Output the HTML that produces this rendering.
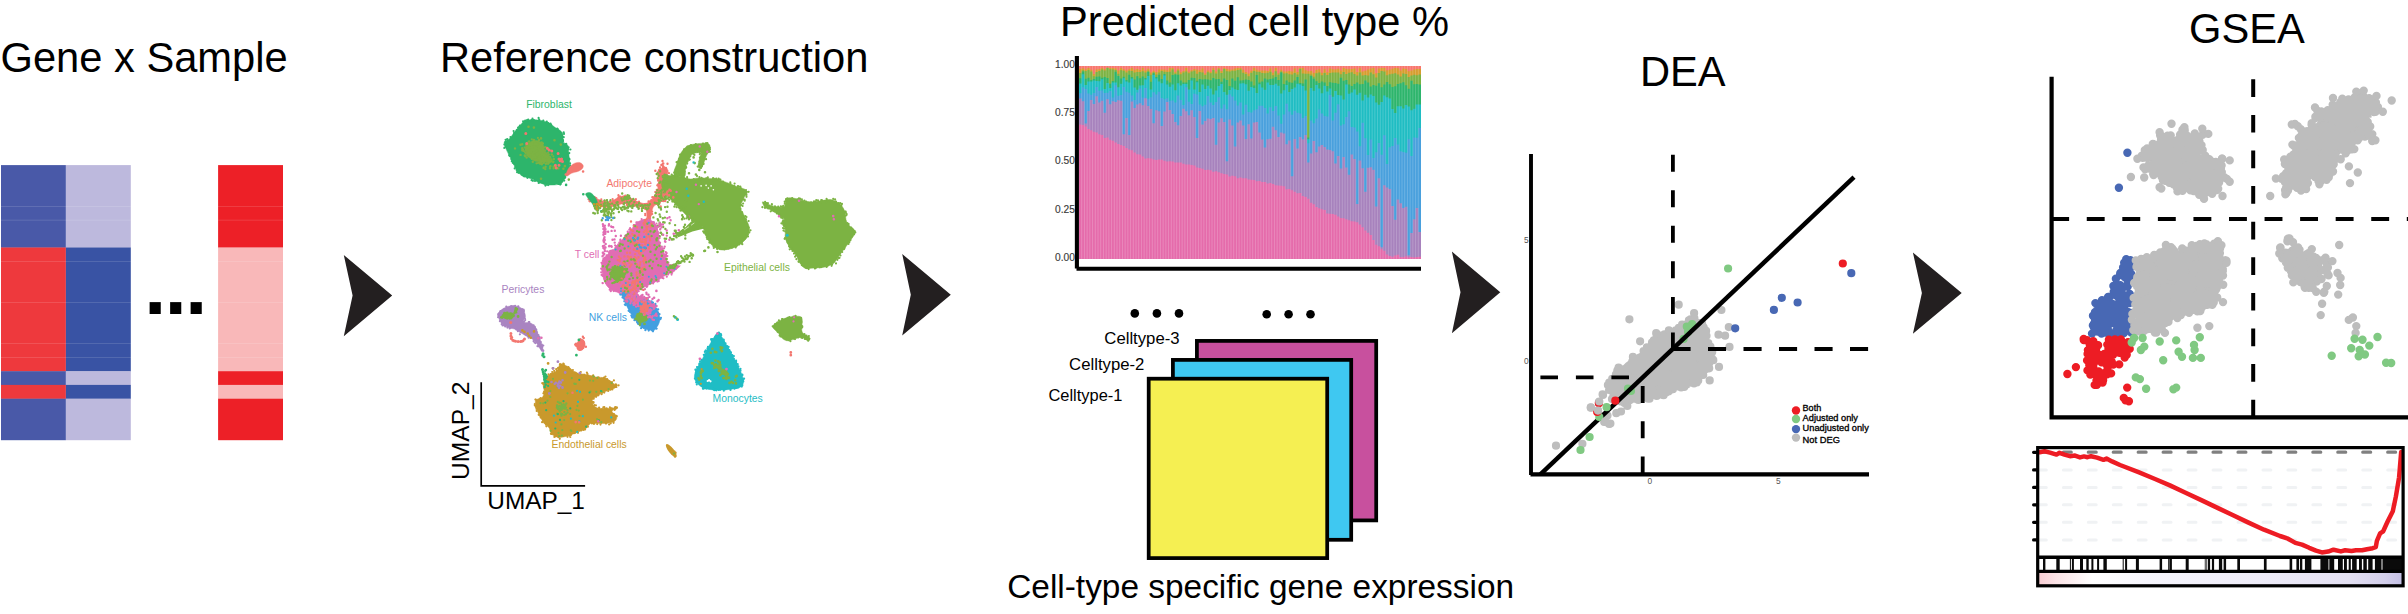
<!DOCTYPE html><html><head><meta charset="utf-8"><title>Workflow</title><style>html,body{margin:0;padding:0;background:#fff}svg{display:block}text{font-family:'Liberation Sans', sans-serif}</style></head><body><svg width="2408" height="614" viewBox="0 0 2408 614"><rect width="2408" height="614" fill="#fff"/><text x="0.5" y="72.1" font-size="41.67" fill="#000" >Gene x Sample</text><text x="440" y="72" font-size="41.67" fill="#000" >Reference construction</text><text x="1060" y="36" font-size="41.67" fill="#000" >Predicted cell type %</text><text x="1640" y="86" font-size="41.67" fill="#000" >DEA</text><text x="2189" y="43" font-size="41.67" fill="#000" >GSEA</text><text x="1007.2" y="597.9" font-size="33.42" fill="#000" >Cell-type specific gene expression</text><rect x="1" y="165.1" width="64.9" height="82.7" fill="#4959A8"/><rect x="1" y="247.5" width="64.9" height="124" fill="#EE393D"/><rect x="1" y="371.2" width="64.9" height="14" fill="#4959A8"/><rect x="1" y="384.9" width="64.9" height="14" fill="#EE393D"/><rect x="1" y="398.7" width="64.9" height="41.5" fill="#4959A8"/><rect x="65.9" y="165.1" width="64.9" height="82.7" fill="#BDB9DD"/><rect x="65.9" y="247.5" width="64.9" height="124" fill="#3953A4"/><rect x="65.9" y="371.2" width="64.9" height="14" fill="#BDB9DD"/><rect x="65.9" y="384.9" width="64.9" height="14" fill="#3953A4"/><rect x="65.9" y="398.7" width="64.9" height="41.5" fill="#BDB9DD"/><rect x="218.1" y="165.1" width="64.9" height="82.7" fill="#ED2027"/><rect x="218.1" y="247.5" width="64.9" height="124" fill="#F9B8B9"/><rect x="218.1" y="371.2" width="64.9" height="14" fill="#ED2027"/><rect x="218.1" y="384.9" width="64.9" height="14" fill="#F9B8B9"/><rect x="218.1" y="398.7" width="64.9" height="41.5" fill="#ED2027"/><rect x="1" y="206" width="64.9" height="0.6" fill="#fff" opacity="0.22"/><rect x="65.9" y="206" width="64.9" height="0.6" fill="#fff" opacity="0.22"/><rect x="218.1" y="206" width="64.9" height="0.6" fill="#fff" opacity="0.22"/><rect x="1" y="219.8" width="64.9" height="0.6" fill="#fff" opacity="0.22"/><rect x="65.9" y="219.8" width="64.9" height="0.6" fill="#fff" opacity="0.22"/><rect x="218.1" y="219.8" width="64.9" height="0.6" fill="#fff" opacity="0.22"/><rect x="1" y="261" width="64.9" height="0.6" fill="#fff" opacity="0.22"/><rect x="65.9" y="261" width="64.9" height="0.6" fill="#fff" opacity="0.22"/><rect x="218.1" y="261" width="64.9" height="0.6" fill="#fff" opacity="0.22"/><rect x="1" y="302.2" width="64.9" height="0.6" fill="#fff" opacity="0.22"/><rect x="65.9" y="302.2" width="64.9" height="0.6" fill="#fff" opacity="0.22"/><rect x="218.1" y="302.2" width="64.9" height="0.6" fill="#fff" opacity="0.22"/><rect x="1" y="343.4" width="64.9" height="0.6" fill="#fff" opacity="0.22"/><rect x="65.9" y="343.4" width="64.9" height="0.6" fill="#fff" opacity="0.22"/><rect x="218.1" y="343.4" width="64.9" height="0.6" fill="#fff" opacity="0.22"/><rect x="1" y="357.2" width="64.9" height="0.6" fill="#fff" opacity="0.22"/><rect x="65.9" y="357.2" width="64.9" height="0.6" fill="#fff" opacity="0.22"/><rect x="218.1" y="357.2" width="64.9" height="0.6" fill="#fff" opacity="0.22"/><text x="144.2" y="313.8" font-size="79" font-weight="bold" letter-spacing="-1.45" fill="#000">...</text><polygon points="343.8,254.9 392.2,295.6 343.8,336.2 352.6,295.6" fill="#231F20"/><polygon points="902.2,254 950.8,294.7 902.2,335.5 910.8,294.7" fill="#231F20"/><polygon points="1451.9,251.6 1500.3,292.3 1451.9,333.2 1460.5,292.3" fill="#231F20"/><polygon points="1912.9,252.5 1961.7,293 1912.9,333.7 1921.9,293" fill="#231F20"/><rect x="1196.9" y="340.9" width="179.3" height="179.5" fill="#C8509E" stroke="#000" stroke-width="3.75"/><rect x="1172.9" y="359.9" width="178.3" height="179.9" fill="#3FC8F1" stroke="#000" stroke-width="3.75"/><rect x="1148.7" y="378.7" width="178.5" height="179.4" fill="#F5EF52" stroke="#000" stroke-width="3.75"/><circle cx="1134.8" cy="313.4" r="4.3" fill="#000"/><circle cx="1156.9" cy="313.4" r="4.3" fill="#000"/><circle cx="1179" cy="313.4" r="4.3" fill="#000"/><circle cx="1266.7" cy="314.3" r="4.3" fill="#000"/><circle cx="1288.6" cy="314.3" r="4.3" fill="#000"/><circle cx="1310.5" cy="314.3" r="4.3" fill="#000"/><text x="1104.3" y="343.5" font-size="15.6" fill="#000" textLength="75.3" lengthAdjust="spacingAndGlyphs" >Celltype-3</text><text x="1069.1" y="369.9" font-size="15.6" fill="#000" textLength="75.3" lengthAdjust="spacingAndGlyphs" >Celltype-2</text><text x="1048.4" y="400.8" font-size="15.6" fill="#000" textLength="74" lengthAdjust="spacingAndGlyphs" >Celltype-1</text><path d="M525.8 120.4C528.8 119.6 534.5 119.6 538.4 120.1C542.2 120.5 546.1 121.7 549.1 123.1C552.1 124.5 554 126.9 556.3 128.5C558.5 130.2 561.3 130.7 562.5 133C563.7 135.2 562.5 139.9 563.4 141.9C564.3 144 567 143.4 567.9 145.5C568.8 147.6 568.5 151.8 568.8 154.5C569.1 157.2 569.7 159 569.7 161.6C569.7 164.3 569.6 167.9 568.8 170.6C568.1 173.3 566.4 175.7 565.2 177.8C564 179.9 563.4 181.9 561.6 183.1C559.9 184.3 557.2 184.7 554.5 184.9C551.8 185.2 548.2 185 545.5 184.6C542.8 184.1 540.7 183.2 538.4 182.2C536 181.3 533.9 179.7 531.2 178.7C528.5 177.6 524.6 177.3 522.2 176C519.9 174.6 518.4 172.7 516.9 170.6C515.4 168.5 514.5 165.8 513.3 163.4C512.1 161 510.9 158.7 509.7 156.3C508.5 153.9 507 151.5 506.1 149.1C505.2 146.7 503.7 143.7 504.3 141.9C504.9 140.2 507.9 140.2 509.7 138.4C511.5 136.6 513.3 133.4 515.1 131.2C516.9 129 518.7 126.7 520.4 124.9C522.2 123.1 522.8 121.3 525.8 120.4Z" fill="#2DB56B" stroke="#2DB56B" stroke-width="0.5" stroke-linejoin="round"/><path d="M533.9 120h0M528.2 119.5h0M527.1 120h0M532.1 120.6h0M528.2 120.3h0M531.6 119.8h0M532.5 118.6h0M538.9 120.8h0M538.6 117.9h0M548.2 123h0M543.3 120.7h0M546.8 121.5h0M539.2 119.6h0M551.1 124.6h0M555.2 128.9h0M550.5 123.7h0M557.2 128.5h0M549.6 124h0M557.8 129.1h0M563.7 132.3h0M559.9 131.5h0M558.5 130.3h0M563.7 132.7h0M563.7 137.2h0M563 140h0M563.1 141.1h0M564 133.9h0M566.2 143.8h0M565.3 144.2h0M566.3 144h0M569.3 153.1h0M568.2 148.9h0M568.6 147.3h0M568.5 153.4h0M570.4 149.5h0M569.5 159.2h0M569.1 158.8h0M568 155.5h0M568.5 160.1h0M570.2 165.6h0M568.6 167.2h0M568 168.5h0M570.1 163.3h0M568.1 170.8h0M566.5 173.7h0M565.2 177.4h0M564.7 178h0M567.2 172.9h0M560.8 183.9h0M564.2 180.6h0M562 181.6h0M558.4 183.9h0M557.6 183.1h0M559.5 182.6h0M560.2 184.6h0M549 184.1h0M546.5 184.6h0M548.1 185.1h0M550.7 183.8h0M549.1 184.2h0M539.7 182.3h0M539.5 182.2h0M545.4 185.6h0M544.5 183.6h0M535 181h0M538.7 182.9h0M535.3 179.9h0M532.9 180.8h0M531.6 180.2h0M522.5 174.8h0M527.4 177.8h0M522.6 174.6h0M524.1 176.3h0M516.7 169.9h0M517.9 171.1h0M518.6 172.8h0M517.3 170.8h0M513.9 163.7h0M517.1 172.2h0M515.6 166.5h0M514.7 168.4h0M512.8 162.8h0M512 158.7h0M511.3 159h0M511.8 161.2h0M509.5 154.6h0M509.6 154.3h0M509.2 155.4h0M509.9 155.9h0M506 146.3h0M504.6 147.6h0M504.3 148h0M504.4 144.6h0M505.6 139.8h0M507.2 139.1h0M505.6 142.1h0M514.5 133.3h0M513.6 131h0M515.9 132h0M514 133h0M510.5 137.1h0M519.5 126.6h0M516.8 130h0M518.1 127.5h0M518.9 127.5h0M525.2 120.6h0M523.1 121.3h0M525.1 121h0M519.9 125.7h0" stroke="#2DB56B" stroke-width="2.2" stroke-linecap="round" fill="none"/><path d="M525.8 147.3C526.4 145.2 528.5 143 530.3 141.9C532.1 140.8 534.5 140.4 536.6 140.7C538.7 141 541.5 142.2 542.8 143.7C544.2 145.3 543.6 147.9 544.6 150C545.7 152.1 547.9 154.3 549.1 156.3C550.3 158.2 552.1 160.6 551.8 161.6C551.5 162.7 549 162.7 547.3 162.5C545.7 162.4 543.7 160.9 541.9 160.8C540.2 160.6 538.4 161.9 536.6 161.6C534.8 161.3 532.8 160.2 531.2 159C529.6 157.8 527.6 156.4 526.7 154.5C525.8 152.5 525.2 149.4 525.8 147.3Z" fill="#7CB343" stroke="#7CB343" stroke-width="0.4" stroke-linejoin="round"/><path d="M527.3 145.7h0M527.8 143.3h0M533.1 142h0M524.5 147.5h0M525.5 147.7h0M529.6 147.3h0M536.8 144h0M531.8 139.3h0M535.8 142.8h0M534.3 140.1h0M534.2 141.4h0M537.9 141.5h0M539.8 143.1h0M543 143.4h0M537.9 137.9h0M539.4 142.5h0M537 141.6h0M543.9 147.6h0M541.7 142.3h0M544.1 147.4h0M542.4 150.3h0M545.8 147.2h0M545.2 150.4h0M546.7 153.5h0M548.5 156.2h0M542.3 149.3h0M548.9 154.4h0M548.1 152.5h0M551.6 159.3h0M553.5 161.7h0M549.1 156.9h0M553.3 156.3h0M550.6 161.7h0M548 163.9h0M553.1 162.3h0M546.8 161.7h0M548.1 160.9h0M542.5 159.4h0M544 158.5h0M542.2 159.6h0M542.2 163.5h0M543.5 160.7h0M540.7 160.9h0M537.9 159.7h0M538 163h0M537.4 158.7h0M530.6 156.6h0M536.5 163.3h0M531.7 158.9h0M533.5 158.5h0M536.5 159.9h0M527.7 155.1h0M532.5 156.8h0M527.2 155.2h0M530.3 153.3h0M529.2 156.5h0M527.7 149.9h0M525.7 153.3h0M527.2 150.1h0M524.7 151.8h0M525.1 156.3h0M525.7 149.9h0" stroke="#7CB343" stroke-width="2.2" stroke-linecap="round" fill="none"/><path d="M522.2 144.2h0M531.1 151.7h0M536.2 147.3h0M537 144.5h0M532.8 153.6h0M527 147.7h0M533.5 152.5h0M537.5 144.5h0M544 154.1h0M548.3 155h0M535.2 147.5h0M533.6 139.9h0M534.7 149.9h0M528.7 153.2h0M528.7 150.7h0M535.2 148.9h0M527.4 148.1h0M537.2 156.5h0M539 139.9h0M536.4 151.8h0M532.2 153.1h0M528.3 152h0M524.8 155.4h0M530.7 155.4h0M530.2 151h0M535.5 153.5h0M533 154.7h0M526.3 145h0M535 151.5h0M523.6 150.9h0M526.6 157.5h0M532.8 149.9h0M520.5 144.7h0M534.7 152.6h0M533 157.5h0M533.5 150.9h0M528.8 156.1h0M533.8 146.4h0M528.2 147.6h0M533 149.8h0M529.2 153h0M533.1 156.1h0M529.2 141.5h0M537.8 148.5h0M534.8 153.3h0M534.8 148.4h0M534.4 143.9h0M536.3 157.5h0M522.2 148.2h0M536.7 155h0M537.1 150.3h0M534.5 156.6h0M537.6 151.7h0M528 153.9h0M534.5 147h0M540.5 150h0M537 153.7h0M537.2 149.3h0M522.9 149.5h0M537.7 154.3h0M544.2 151.4h0M541.2 155h0M536.8 150.8h0M522.2 150.3h0M542.1 151.9h0M534.3 149.2h0M515 148.4h0M532.8 161.8h0M520.6 154.9h0M525.6 147.6h0M529.8 150.4h0M540.2 161.8h0M532.2 149.8h0M538.2 148.4h0M546.2 157.5h0M544.5 158.4h0M535.4 147.8h0M536 144h0M528.7 141.6h0M528.5 152h0M538.8 149.8h0M537.5 152.2h0M534.8 152.7h0M540.1 157.2h0M529.9 147.7h0M533.2 153.4h0M541.2 150.2h0M539.2 151.9h0M543.7 150.7h0M535 157.4h0" stroke="#7CB343" stroke-width="2.4" stroke-linecap="round" fill="none"/><path d="M543.8 162.8h0M542.2 157h0M541 163.7h0M543.9 160.2h0M548.7 162.9h0M537.1 155.5h0M539.5 158.1h0M543.7 158.7h0M558.3 168.4h0M551.6 161h0M545 159.7h0M545.3 169.1h0M555.8 167h0M544.1 159.7h0M542.3 161.3h0M550.2 166.5h0M549.2 159.6h0M548.8 162.5h0M541 161.9h0M554.6 167.5h0M553.7 166.4h0M545.6 166.7h0M549.6 161.3h0M534.3 155.1h0M549.1 161.6h0M541.8 164.3h0M550.2 157.2h0M549.6 161.3h0M544 158.6h0M535.2 157.7h0M546 163.7h0M539.1 162.4h0M545.6 155.9h0M540.7 161.1h0M543.7 159.2h0M534 152.3h0M550.5 166.1h0M547.7 159.4h0M553.9 158.9h0M555.8 166h0M547.4 157.2h0M536.6 153.9h0M539.8 159.3h0M538.3 158.2h0M540 163.6h0M545.7 160.7h0M536.9 151h0M547.9 160.1h0M538.5 154.1h0M548.4 158.7h0M543.8 161.8h0M544.3 158.4h0M547.6 155.6h0M541.1 161.2h0M542 158.9h0M535.7 156.9h0M544.7 161.2h0M553.6 168.2h0M555.2 167h0M550 168.2h0" stroke="#7CB343" stroke-width="2.4" stroke-linecap="round" fill="none"/><path d="M547.3 148.2h0M551.8 150.9h0M558.1 153.6h0M559 159h0M561.6 159h0M555.4 165.2h0M559 165.2h0M562.5 161.6h0M556.3 167.9h0M525.8 133.5h0M526.7 143.4h0M549.1 150h0M560.2 160.8h0" stroke="#F37770" stroke-width="3.0" stroke-linecap="round" fill="none"/><path d="M528.5 126.7h0M533.9 127.6h0M541 138.4h0M560.8 144.6h0M554.5 140.2h0M543.7 167.9h0M541 178.7h0M549.1 159h0M551.8 154.5h0M563.4 168.8h0M564.9 166.1h0M568.8 179.6h0" stroke="#7CB343" stroke-width="2.6" stroke-linecap="round" fill="none"/><path d="M566.1 184.9h0" stroke="#2DB56B" stroke-width="2.6" stroke-linecap="round" fill="none"/><path d="M566.1 174.2C566.4 172.8 567.5 169.7 568.8 167.9C570.2 166.1 572.4 164.3 574.2 163.4C576 162.5 578.1 162.2 579.6 162.5C581.1 162.8 582.7 164.2 583.1 165.2C583.6 166.3 583.1 167.8 582.2 168.8C581.3 169.9 579.6 170.8 577.8 171.5C576 172.2 573.2 172.5 571.5 173.3C569.8 174 568.3 175.8 567.4 176C566.5 176.1 565.9 175.5 566.1 174.2Z" fill="#F37770" stroke="#F37770" stroke-width="0.4" stroke-linejoin="round"/><path d="M583.1 171.5h0M565.8 174.5h0" stroke="#F37770" stroke-width="2.6" stroke-linecap="round" fill="none"/><path d="M589.6 196.7C591.2 196.5 596.1 198.7 599.3 199.6C602.6 200.5 605.8 202.6 609.1 202.2C612.4 201.7 615.9 198.2 618.9 197.1C621.8 196 624.3 195.3 626.7 195.7C629.1 196.1 630.6 198.3 633.5 199.6C636.5 200.9 641.2 203.5 644.3 203.5C647.4 203.5 650 201.6 652.1 199.6C654.2 197.7 655.9 195.2 657 191.8C658.1 188.4 658.1 182.8 659 179.1C659.8 175.4 660.6 171.1 661.9 169.3C663.2 167.5 665.8 167.7 666.8 168.3C667.8 169 668.1 171 667.8 173.2C667.4 175.5 665.6 178.6 664.8 182C664 185.5 663.8 190.3 662.9 193.8C661.9 197.2 660.6 200.3 659 202.6C657.3 204.8 654.5 204.8 653.1 207.4C651.7 210.1 651.5 216.4 650.5 218.2C649.6 220 648.1 219.8 647.2 218.2C646.3 216.6 647.4 210.4 645.3 208.4C643.2 206.5 637.9 207.3 634.5 206.5C631.1 205.7 627.7 203.7 624.7 203.5C621.8 203.4 619.9 204.8 616.9 205.5C614 206.1 610.4 207.6 607.1 207.4C603.9 207.3 600.3 205.7 597.4 204.5C594.4 203.4 590.9 201.9 589.6 200.6C588.2 199.3 587.9 196.9 589.6 196.7Z" fill="#F37770" stroke="#F37770" stroke-width="0.4" stroke-linejoin="round"/><path d="M596.5 199h0M591.7 197.1h0M595.8 200.4h0M594.7 197h0M596.3 198.1h0M605 201.7h0M604.9 202h0M604.4 200.8h0M606.9 200.4h0M601.3 199.3h0M618.4 195.2h0M618.4 197.3h0M612.6 199.1h0M612.9 200.4h0M610 201.5h0M619.7 198.1h0M620.2 196.6h0M619.9 196.7h0M629.1 196.2h0M631.3 199.3h0M625.3 195.6h0M635 201.3h0M635.9 199.2h0M639 201.6h0M641 203.9h0M634.5 200.4h0M651.3 200.1h0M648.5 201.4h0M644.8 204.1h0M650.4 201h0M653.1 197.3h0M659 193.8h0M654.7 196.6h0M653.5 198.4h0M658.3 184h0M658.1 180.7h0M658.9 180.3h0M655.2 192h0M657.2 191.2h0M657.4 185.6h0M659.6 177.7h0M660.2 172h0M659.7 174.6h0M657.8 178.6h0M661.4 174.1h0M662.8 168.7h0M662.1 168.8h0M667.4 171h0M666.7 170.8h0M665.9 182.3h0M668.4 176.6h0M665.1 182h0M665 175.3h0M665.4 183.3h0M664.5 187.1h0M665.2 183h0M662.6 190.7h0M662.3 192.8h0M658.2 200.9h0M659.9 202.4h0M661.8 198.3h0M662.9 195.8h0M657.9 203.1h0M657.4 204.1h0M656.9 203.9h0M651.8 214.2h0M652.2 214h0M650.7 214.8h0M652.1 211.7h0M649.8 214.5h0M647.6 217.5h0M645.2 209.1h0M645.2 215.2h0M645.2 213.8h0M646.2 209h0M643.5 208.1h0M642.2 207.8h0M638.9 208h0M637.8 206.9h0M632.8 206.2h0M630.1 204.5h0M627 204.7h0M627 202.9h0M631.4 206.5h0M627.1 205.2h0M617 204.4h0M619.4 202.7h0M623.8 204.1h0M622.9 203.2h0M609.9 206.4h0M611.3 205.2h0M605.4 206.4h0M610.3 206.9h0M604.1 207.6h0M606 206.5h0M605.9 206.2h0M602.5 206.2h0M608.4 209.4h0M594 205h0M589.5 201.3h0M590.7 201.2h0M592.4 201.4h0M588.5 199.3h0" stroke="#F37770" stroke-width="2.2" stroke-linecap="round" fill="none"/><path d="M660.1 167.5h0M662.9 163.8h0M665.9 168h0M662.6 174.8h0M663.5 172.5h0M663.9 167.2h0M662.5 170.2h0M661.6 172.1h0M660.7 174.3h0M664.8 169.5h0M659 170.2h0M667.5 163.7h0M663.1 166.3h0M658.4 179.6h0M662.5 161h0M660.3 170h0M662.3 173.2h0M660.2 169.8h0M666.1 168.6h0M659.7 171.3h0M655.3 170.8h0M659.9 171.2h0M657.7 161.7h0M662 171.3h0M665.9 168.3h0M664.4 169.6h0M657.9 172.4h0M659.2 174.8h0M666.5 177.3h0M663.4 169.7h0M661.2 176.6h0M664.1 178.3h0M668.3 178.9h0M664.6 179.5h0M662.5 171.4h0M663.2 171.3h0M663.1 176.4h0M661.4 165h0M658.7 172.5h0M662.6 169.4h0M659.5 169.7h0M663.3 163.4h0M663.1 167.7h0M668.9 173.1h0M658.7 175.9h0M660.8 176.8h0M661.6 171.5h0M663.5 171.3h0M665.8 168.5h0M660.2 173.7h0" stroke="#F37770" stroke-width="2.4" stroke-linecap="round" fill="none"/><path d="M660.1 199.9h0M663.1 192.7h0M667.1 192.4h0M660.9 196.6h0M655.8 197.5h0M658 199.3h0M655.9 194.6h0M656.8 190h0M665.6 190.3h0M661.8 195.5h0M655.7 195.9h0M663.3 200h0M665.4 195.1h0M659.7 198.3h0M658.6 200.6h0M659.8 193.8h0M662 185.6h0M663.2 187.1h0M665.1 185.8h0M665.2 201h0M665.1 188.8h0M665.8 199.2h0M663.3 195.9h0M655.6 201.6h0M660.5 198h0M662.1 192.5h0M659.7 192h0M664.2 193.4h0M659.7 193.9h0M657.8 190.3h0M666.1 192.8h0M663.3 201h0M661.8 184.5h0M664.2 194.3h0M664.7 188.5h0M662.2 193.9h0M652.4 197.2h0M658.6 192.7h0M659.4 196.9h0M657.6 185.1h0M661.7 198.5h0M665.2 190h0M659.3 196.1h0M657 193.9h0M668.1 180.1h0M659.4 189.2h0M656.7 194.1h0M661.8 200.8h0M662.5 194.4h0M658.5 194.3h0M663.8 185.9h0M659.3 200.2h0M657.8 202h0M661.6 193.1h0M663.7 191.9h0M658.8 184.9h0M662.2 197.4h0M660.7 206.5h0M670.9 196.6h0M658.5 199.3h0" stroke="#F37770" stroke-width="2.4" stroke-linecap="round" fill="none"/><path d="M669.6 175.6C672.3 175.6 677.6 176.2 681 176.7C684.5 177.3 687.1 178.8 690.2 179C693.2 179.2 695.1 177.9 699.3 177.9C703.5 177.9 710.7 178.3 715.2 179C719.8 179.8 722.8 181.1 726.6 182.4C730.4 183.8 734.6 185.5 738 187C741.5 188.5 746.2 189.7 747.2 191.6C748.1 193.5 744.9 195.7 743.7 198.4C742.6 201.1 740.1 204.5 740.3 207.5C740.5 210.6 743.4 213.2 744.9 216.6C746.4 220.1 749.1 224.6 749.4 228C749.8 231.5 748.7 234.5 747.2 237.2C745.6 239.8 743 242.1 740.3 244C737.7 245.9 734.6 247.6 731.2 248.6C727.8 249.5 723.2 250.5 719.8 249.7C716.4 248.9 713 246.5 710.7 244C708.4 241.5 707.6 237.9 706.1 234.9C704.6 231.8 703.5 228 701.6 225.8C699.7 223.5 696.8 222.5 694.7 221.2C692.6 219.9 691.3 219.7 689 217.8C686.7 215.9 683.5 212.3 681 209.8C678.6 207.3 676.5 205.2 674.2 203C671.9 200.7 669.3 198.4 667.4 196.1C665.5 193.8 663.7 191.6 662.8 189.3C661.8 187 661.3 184.5 661.7 182.4C662 180.3 663.7 177.9 665.1 176.7C666.4 175.6 667 175.6 669.6 175.6Z" fill="#7CB343" stroke="#7CB343" stroke-width="0.5" stroke-linejoin="round"/><path d="M671.8 177.3h0M673.6 176.3h0M676.7 176.6h0M677.7 176.6h0M671.7 174.7h0M674.8 174.9h0M678.3 176.9h0M672.4 175.3h0M683.6 177.1h0M687.1 177.2h0M683.5 177.6h0M684.3 178.3h0M687.2 179.1h0M683.5 177.5h0M697 175.9h0M696.8 179.9h0M699.4 177.1h0M699 179.1h0M693.7 179.1h0M689.1 181.7h0M707.8 177.4h0M711.7 180.2h0M706.2 178.3h0M712.7 179.1h0M712.9 178.8h0M707.6 178.3h0M701.6 177.8h0M713.8 178.7h0M714.4 180.6h0M713.1 178h0M701.2 179.6h0M719.7 179.5h0M723 181.6h0M717.7 179.8h0M716.3 178.6h0M715.7 179.2h0M720.4 179.6h0M718.6 178.5h0M720.4 181.6h0M738.8 186.6h0M730.8 186.2h0M726.1 186h0M734.1 186h0M730.3 182.4h0M730.5 184h0M727.6 185.1h0M734.6 183.6h0M740.3 186.5h0M740.5 187.2h0M743.8 189.6h0M746 190.1h0M741.5 188.5h0M748.6 191.8h0M737.9 186.2h0M746.5 194.9h0M745.5 193.6h0M746.5 191.8h0M746.5 196.8h0M744.7 199.7h0M742.6 206h0M744.7 200.7h0M743.1 203.5h0M741.4 205h0M740.3 205.6h0M743.3 199.4h0M745.4 216.1h0M740.3 208.3h0M741.6 214.3h0M742.4 216.4h0M742.3 213.1h0M742 212.1h0M740.5 208.9h0M748.6 221h0M748 228.4h0M743.5 219.7h0M748.2 227.7h0M745.2 221.7h0M746.5 217h0M748.7 227.6h0M745.9 219.2h0M747.7 234.7h0M750.5 230.3h0M749.3 232.4h0M747.9 231.6h0M746.7 234.5h0M748 236.5h0M742.3 244.2h0M741.2 243.5h0M745.2 238.3h0M743.4 238.7h0M746.6 235.6h0M741.8 242.6h0M733.3 246.6h0M739.2 244.5h0M736.5 246.1h0M735.7 247.5h0M733 246.2h0M738.8 243.4h0M736.9 245.4h0M724.5 249.3h0M727.4 248.3h0M729.8 247.7h0M731.9 247.7h0M726.2 248.7h0M719.9 248.7h0M728.6 248.6h0M723.1 249.1h0M713.8 247.9h0M716.6 247h0M714.3 247h0M717.1 246h0M717.3 248h0M713.6 246.4h0M717.1 248.9h0M706.3 235.4h0M706.8 237.5h0M709.5 239.5h0M707.9 235.4h0M707.2 239.1h0M709.4 242.6h0M710 240.3h0M704.8 231.8h0M704 232.7h0M703.6 227.7h0M703.2 231.4h0M706.3 232.2h0M705.5 234h0M705.9 232.5h0M698.7 222.9h0M701 225.4h0M694.8 222.2h0M700.6 225h0M698.9 225.4h0M692.1 220.2h0M692.5 218.8h0M689 219.5h0M691 217.5h0M683.8 209.5h0M681.6 209.6h0M690.1 216.4h0M688.3 217h0M682.8 209.6h0M687.3 216h0M686.6 218.3h0M680.4 210.6h0M680.9 207.9h0M681.4 208.3h0M677.3 205.2h0M679 207.4h0M675 204.8h0M667.9 198.6h0M672.3 201.6h0M669.3 199.9h0M666.5 198.5h0M668.4 196h0M668.2 197.7h0M662.7 193.3h0M664.3 193.8h0M665.7 197.8h0M666.3 194.3h0M663.5 192.1h0M663 182.8h0M663.8 184.2h0M664.6 187h0M662.8 184h0M666.3 176.2h0M665.1 177.1h0M665 175.7h0M664.1 177.5h0M667.6 176.4h0M665.7 175.1h0M667.1 175.4h0" stroke="#7CB343" stroke-width="2.2" stroke-linecap="round" fill="none"/><path d="M674.2 174.5C672.9 172.4 675.3 167.8 676.5 164.2C677.6 160.6 679.2 155.8 681 152.8C682.9 149.8 684.8 147.5 687.4 146C690.1 144.4 693.5 144.1 697 143.7C700.5 143.3 706.2 142.7 708.4 143.7C710.6 144.6 710.3 147.4 710 149.4C709.7 151.4 707.7 153.1 706.6 155.5C705.5 158 704.3 162.1 703.4 164.2C702.5 166.3 702 167.9 701.1 168.3C700.2 168.7 698.4 168.3 698.1 166.5C697.9 164.7 699.2 159.6 699.7 157.4C700.2 155.1 701.6 153.6 701.1 152.8C700.6 152 698.5 152.5 697 152.8C695.5 153.1 693.4 153.5 692 154.6C690.5 155.8 689.4 157.5 688.3 159.6C687.3 161.8 686.2 164.8 685.6 167.6C685 170.5 686.4 175.6 684.5 176.7C682.6 177.9 675.5 176.5 674.2 174.5Z" fill="#7CB343" stroke="#7CB343" stroke-width="0.4" stroke-linejoin="round"/><path d="M675.1 175.2h0M674.2 172.5h0M675.7 169.5h0M676.9 167.4h0M675.6 170.4h0M677.9 161.9h0M678.3 163.1h0M680.1 154.7h0M676.6 162.2h0M680.4 155.5h0M679 159h0M687.4 148.1h0M687.4 146.7h0M684 149.4h0M684.5 150h0M689.1 146.5h0M690.8 146.5h0M691 145.1h0M695.8 144h0M705.6 143.6h0M706.1 143h0M707.4 143.2h0M705.2 145.3h0M703 143.6h0M709.8 147.8h0M709.9 149.4h0M710 151.8h0M708.6 151.9h0M709.4 151.1h0M704.2 159.3h0M703.6 163.9h0M703.2 163h0M706.1 159.2h0M701.9 166.3h0M701.9 165.4h0M701 167.9h0M699.9 157.7h0M699.5 161.5h0M699.5 164h0M697.7 166.6h0M699.8 154.2h0M700.1 153.5h0M697.5 151.8h0M699.7 152.7h0M693.7 154h0M694.4 154.9h0M689.1 157.4h0M689.9 159.5h0M690.3 156.3h0M687.2 163.6h0M688.1 158.9h0M687.6 161.1h0M687.5 161.6h0M684.8 168.6h0M684.6 171.6h0M685.9 168h0M686.2 167.3h0M683.4 177.7h0M677.7 173.8h0M683.1 177.6h0M678.8 174.8h0M676.6 175.3h0" stroke="#7CB343" stroke-width="2.2" stroke-linecap="round" fill="none"/><path d="M689 159.6h0M694.7 163.1h0M699.3 169.9h0M689 173.3h0M693.6 157.4h0M705 172.2h0M695.9 174.5h0M685.6 166.5h0" stroke="#7CB343" stroke-width="2.6" stroke-linecap="round" fill="none"/><path d="M694.3 218.5L704.3 228.5L692.4 231.5L678.3 237.2L675.6 234L685.6 226.9 Z" fill="#7CB343"/><path d="M694.3 223L681 232.1" stroke="#fff" stroke-width="0.6"/><path d="M674.2 236h0M671.9 239.4h0M676.5 237.2h0M705 250.8h0M708.4 247.4h0M717.5 252h0M692.4 254.9h0" stroke="#7CB343" stroke-width="2.6" stroke-linecap="round" fill="none"/><path d="M676 233.1h0M673.7 233.7h0M678.8 230.3h0" stroke="#E16DB3" stroke-width="2.6" stroke-linecap="round" fill="none"/><path d="M698.8 204.1h0M676.5 192h0M689 216.6h0M695.9 184.7h0M707.3 151.7h0M699.7 146.4h0" stroke="#E16DB3" stroke-width="2.4" stroke-linecap="round" fill="none"/><path d="M688.3 195.7h0M686.7 188.8h0M703.8 201.8h0M693.6 162.4h0" stroke="#1FBDC5" stroke-width="2.4" stroke-linecap="round" fill="none"/><path d="M661.6 193.3h0M669.5 189.9h0M670.7 190.7h0M662.8 194.2h0M662.2 191.3h0M667.6 191.6h0M664.4 198h0M658.9 195.6h0M669.1 195.4h0M667 194.6h0M665 194.5h0M673.3 197.4h0M666.9 192.9h0M664.1 198.6h0" stroke="#F37770" stroke-width="2.6" stroke-linecap="round" fill="none"/><path d="M701.1 185.9h0M706.1 185.4h0M711.1 185.9h0M713.4 189.7h0M708.4 188.1h0" stroke="#fff" stroke-width="1.6" stroke-linecap="round" fill="none"/><path d="M762.5 201.9C763.1 201.5 766.1 203.4 768.2 204.2C770.3 205 772.4 206.1 775.1 206.5C777.7 206.9 782.3 207.8 784.2 206.5C786.1 205.1 784.6 199.8 786.5 198.5C788.4 197.2 792.9 198.1 795.6 198.5C798.3 198.9 799.8 200.2 802.4 200.8C805.1 201.3 808.5 201.9 811.6 201.9C814.6 201.9 817.4 201.2 820.7 200.8C823.9 200.4 827.7 199.1 830.9 199.6C834.2 200.2 837.8 202.3 840.1 204.2C842.3 206.1 843.5 208 844.6 211C845.8 214.1 845.2 219 846.9 222.4C848.6 225.9 854.3 228.5 854.9 231.6C855.4 234.6 852.2 237.6 850.3 240.7C848.4 243.7 845.6 246.9 843.5 249.8C841.4 252.6 839.5 255.5 837.8 257.8C836.1 260.1 835.3 262 833.2 263.5C831.1 265 828.5 266.1 825.2 266.9C822 267.7 817.3 267.8 813.8 268C810.4 268.2 807.2 269.2 804.7 268C802.2 266.9 800.5 263.5 799 261.2C797.5 258.9 797.1 256.6 795.6 254.4C794.1 252.1 791.6 250.2 789.9 247.5C788.2 244.9 786.1 241.4 785.3 238.4C784.6 235.4 785.9 231.7 785.3 229.3C784.8 226.8 782.1 225.3 781.9 223.6C781.7 221.9 784.6 220.3 784.2 219C783.8 217.7 781.5 216.9 779.6 215.6C777.7 214.3 775.3 212.6 772.8 211C770.3 209.5 766.5 208 764.8 206.5C763.1 205 762 202.3 762.5 201.9Z" fill="#7CB343" stroke="#7CB343" stroke-width="0.5" stroke-linejoin="round"/><path d="M765.1 201.9h0M767.4 204.9h0M766.5 203.2h0M765.5 203.5h0M775 206.4h0M767.9 203.2h0M772.2 207.1h0M771.9 204.6h0M771.9 204.2h0M782 206.7h0M775.4 206.9h0M783.3 205.9h0M782.8 206.4h0M778.2 206.5h0M780.8 206.4h0M786.2 200.7h0M784.8 203.7h0M784.7 201.7h0M786 199.2h0M786.6 199.9h0M792.2 198.1h0M786.5 199.1h0M793.1 199.4h0M787.4 198.5h0M791.8 200.5h0M787.3 198.3h0M802.3 201.6h0M798.9 198.4h0M797.6 199.4h0M799.8 199.7h0M800 198.6h0M811.1 202.3h0M806.2 201.5h0M808.1 202.9h0M804.4 200.7h0M801.9 199.3h0M802.3 201.2h0M821.8 201h0M818 200.4h0M815.5 201.4h0M814 201.3h0M820.7 202.3h0M816.3 200h0M822.9 201h0M821.2 200.2h0M821.9 200.2h0M824.2 201h0M826.6 198.9h0M826.1 202.3h0M827.3 200.3h0M839.3 203.8h0M835.1 199.4h0M836 201.6h0M838.6 203.2h0M833.2 198.9h0M835.8 202h0M836.2 202.8h0M842.6 209.5h0M840.3 203.2h0M841.3 205.4h0M842 203.9h0M843.1 210.7h0M845.1 211.6h0M846 213h0M846.5 214.9h0M847.4 223h0M845.7 211.5h0M845.7 215.7h0M843.9 212.8h0M846.7 214.1h0M848.4 224.5h0M851.2 227.6h0M848.7 224h0M848 224.8h0M851.7 228.3h0M852.4 229.1h0M855.3 232.4h0M853.2 229.6h0M851.5 237.1h0M854.7 231.2h0M854.1 234.2h0M850.5 240.1h0M851.2 237.3h0M854.8 232.1h0M853.3 230.9h0M843.6 247.8h0M843.9 249.2h0M849.3 241.5h0M844.2 248.8h0M848.5 243.9h0M849.3 242.2h0M844.6 248h0M840.5 255.5h0M839.5 257.8h0M838.7 257.9h0M842.2 252h0M839.8 253.8h0M843.2 249h0M833.7 261.4h0M836 263.4h0M836.4 258.2h0M833.5 262.3h0M837.4 259.8h0M826.6 266.9h0M830.4 263.9h0M831.6 265.8h0M827.7 265.6h0M831.2 264.2h0M832.1 264.5h0M819.9 267.3h0M821.2 267.1h0M814.8 266.7h0M814.9 268.4h0M822.1 266.3h0M815.5 266.9h0M815.6 268.2h0M815.8 267.3h0M806.3 268.1h0M808.2 268.2h0M805.5 267.4h0M807.5 267.8h0M813.9 266h0M808.6 269.1h0M801.8 265.1h0M800.6 262.7h0M798.6 261.8h0M801 262.3h0M803.3 266h0M804.3 266.4h0M799.1 261.2h0M796.2 255.2h0M795.1 256.7h0M796.4 259.2h0M798.5 261.3h0M789.7 249.3h0M792.5 251h0M792.6 250.7h0M791.4 248.3h0M791.5 248.8h0M794 253.6h0M785.6 238.4h0M789.6 247h0M787.6 241.4h0M789.1 246.2h0M787.6 242.6h0M789.8 246.5h0M790.3 246.9h0M785.3 231.4h0M785.4 228.6h0M784.6 238.8h0M785.5 231.5h0M785 238.1h0M783.5 230.6h0M783.9 225.8h0M784.1 223.4h0M783 228h0M784.2 228.5h0M782.7 221.6h0M781.4 223.3h0M783.2 220.3h0M780.9 216.9h0M781.3 217.7h0M782.8 218.1h0M779.5 214.6h0M776.9 213.5h0M774.2 211.3h0M779.1 214.6h0M777 213h0M772.1 210.5h0M768.1 208.4h0M764.9 207.8h0M770.7 211.3h0M766 207.7h0M773.5 210.5h0M764.8 204h0M762.4 207.2h0M764.7 205.8h0" stroke="#7CB343" stroke-width="2.2" stroke-linecap="round" fill="none"/><path d="M779 216.3h0M833.2 216.1h0M833.9 219.2h0M799 200.8h0" stroke="#E16DB3" stroke-width="2.6" stroke-linecap="round" fill="none"/><path d="M787.2 235.2h0" stroke="#1FBDC5" stroke-width="3.0" stroke-linecap="round" fill="none"/><path d="M772.8 326.2C773.5 323.8 779 320.8 782.5 319.2C785.9 317.6 790.3 316.7 793.5 316.5C796.8 316.2 800.5 315.5 801.8 317.8C803.2 320.2 801.4 327.5 801.8 330.3C802.3 333.1 803.2 333.2 804.6 334.5C806 335.8 809.6 337 810.2 338.1C810.7 339.1 809.3 341 807.9 340.8C806.6 340.7 803.8 337.6 801.8 337.2C799.9 336.9 798.6 338 796.3 338.6C794 339.2 790.3 340.8 788 340.8C785.7 340.8 784.1 339.9 782.5 338.6C780.8 337.3 779.9 335.2 778.3 333.1C776.7 331 772.1 328.5 772.8 326.2Z" fill="#7CB343" stroke="#7CB343" stroke-width="0.4" stroke-linejoin="round"/><path d="M774.9 325.2h0M775.7 324.6h0M777.3 322.6h0M774.9 324.6h0M778.9 320.4h0M775.1 324h0M782 319.1h0M783 319.6h0M783.1 319.5h0M789.3 317.2h0M785.5 319h0M787.6 317.9h0M793.5 316.5h0M795.4 315.9h0M801.1 317.9h0M795.7 316h0M798.1 318.5h0M794 317.1h0M801 328.2h0M802.3 326.4h0M802 327.6h0M801 327.9h0M802.2 327.2h0M801.4 322h0M802.2 326.3h0M804.4 334.1h0M804.6 335.2h0M808.2 337.4h0M808.9 336h0M806.5 335.7h0M808.2 340.7h0M808.9 339.6h0M804.9 339h0M805.6 339h0M805.2 338.7h0M801.2 337.6h0M802.4 337.9h0M798.5 337.3h0M801.2 337.4h0M789.4 339.4h0M795 339.1h0M794.2 338.7h0M788.4 340.1h0M790.4 341.2h0M785.4 338.7h0M786.3 339.6h0M786.2 339.2h0M779.6 335.5h0M780.1 333.9h0M780.8 335.7h0M780.5 336.5h0M777.6 331.7h0M777 330h0M774 327h0M777.9 332.1h0M772.7 326.3h0" stroke="#7CB343" stroke-width="2.2" stroke-linecap="round" fill="none"/><path d="M793.5 321.4h0M794.1 317.3h0" stroke="#E16DB3" stroke-width="2.2" stroke-linecap="round" fill="none"/><path d="M790.8 352.5h0M790.8 355.2h0" stroke="#F37770" stroke-width="2.8" stroke-linecap="round" fill="none"/><path d="M585.6 193.8C586.1 192.9 588.9 192.1 590.5 192.8C592.2 193.4 594.1 195.7 595.4 197.7C596.7 199.6 597.7 202.6 598.3 204.5C599 206.5 599.8 208.8 599.3 209.4C598.8 210.1 596.7 209.6 595.4 208.4C594.1 207.3 592.8 204.4 591.5 202.6C590.2 200.8 588.6 199.1 587.6 197.7C586.6 196.2 585.2 194.6 585.6 193.8Z" fill="#2DB56B" stroke="#2DB56B" stroke-width="0.4" stroke-linejoin="round"/><path d="M583.3 194.3h0M601.3 211.4h0" stroke="#2DB56B" stroke-width="2.6" stroke-linecap="round" fill="none"/><path d="M615 207.6h0M615.6 207h0M607.6 202h0M607.7 203.8h0M605.8 208.9h0M598 210.5h0M624.1 207.5h0M617.9 208.9h0M633.4 206h0M629.1 206.1h0M647.3 205.3h0M611.7 209.4h0M643.2 207.9h0M614.3 206.4h0M630.3 206.2h0M638.7 208.4h0M615 207.8h0M617.9 204.9h0M628.6 211.3h0M598.4 207.6h0M622.8 207h0M597.5 210.7h0M605 209.6h0M628.1 206.8h0M648.4 208.3h0M650 204.3h0M607.1 205.4h0M600.5 201.3h0M622.1 210.1h0M617.6 202.3h0M614 208.7h0M636.6 204.9h0M633.2 204.6h0M624.6 206.5h0M628 207.7h0M625.7 208.5h0M631.3 211.4h0M645.8 207.9h0M646.9 209.2h0M648.8 205.5h0M641.9 208.8h0M598.1 207.4h0M618.2 205.8h0M637.3 206.8h0M609.1 206.8h0M627.2 207.5h0M595.2 208h0M603.8 205.7h0M615.2 205.1h0M596.1 208.9h0M616.6 202.8h0M605.3 205.5h0M642 210.9h0M610.5 200.2h0M614.1 205.3h0M638.5 208.7h0M624.5 202.9h0M594.9 213.5h0M604.6 200.5h0M627.4 210.6h0M603.6 210.9h0M606.4 209.3h0M628.1 206.4h0M620.7 207.9h0M607.6 204.8h0M624.4 209h0M628.8 204.2h0M594.3 206.3h0M607.9 209.5h0M609.8 204.2h0M643 206.1h0M595 207.4h0M612.1 203.6h0M603.3 209.9h0M632.3 207.9h0M639.1 203.2h0M595.3 206.9h0M642.1 205.1h0M632.4 205.4h0M604.6 207.2h0M645.1 205.2h0M609 209.4h0M637.7 205.2h0M596.3 209.5h0M618.5 206.9h0M621.3 209.1h0M644 205.6h0M640.5 205.7h0M623.7 204.1h0M595 208.4h0" stroke="#7CB343" stroke-width="2.4" stroke-linecap="round" fill="none"/><path d="M610.7 213.5h0M618.9 212h0M616.5 208.2h0M610.7 207.5h0M604.5 212.3h0M607.7 213h0M606.5 211.1h0M611.3 217.1h0M608.5 216.7h0M607.4 202.7h0M603.9 209h0M613.5 213.2h0M610.1 208.8h0M606.3 209.5h0M611.1 215h0M605 210h0M608.2 206.4h0M605.2 209.1h0M593.3 213h0M612 211h0M604.9 203h0M603 211.3h0M601.6 211.8h0M607.9 215.6h0M608.3 208.1h0M603.8 215.3h0M600.9 204.6h0M608.2 208h0M601.3 205.8h0M607.5 212.5h0M605.9 215.4h0M604.5 214h0M614.4 217.8h0M606 216.6h0M608.3 214h0M604.5 215.3h0M608.4 206.8h0M613.6 209.6h0M608.7 217.7h0M603.9 203.7h0M611 214h0M608.3 213.2h0M611.1 213.2h0M608.9 211.9h0M597.7 213h0M607 200.3h0M611.4 220.1h0M601.8 220.2h0M600.1 208h0M607.5 212.9h0" stroke="#7CB343" stroke-width="2.4" stroke-linecap="round" fill="none"/><path d="M629.9 198.1h0M634.3 202.1h0M622.2 193.5h0M627.4 198.1h0M626.3 198.9h0M629.2 195.9h0M627.6 195.3h0M629.6 202.3h0M625.3 197.3h0M627.2 202.2h0M624.3 199.1h0M624.3 198.2h0M626.4 199h0M626.4 199.3h0M622.3 200.4h0M633.3 198.9h0M626.5 198.3h0M621.5 198.4h0M631.4 200.7h0M624 199.6h0M629 196h0M626.9 196.7h0M628 198.7h0M627.7 196.8h0M624.7 197.2h0" stroke="#7CB343" stroke-width="2.4" stroke-linecap="round" fill="none"/><path d="M653.4 217.4h0M675.7 230.6h0M667.5 206.7h0M653.4 226.2h0M685.1 201.7h0M664.7 238.6h0M685.3 235.2h0M674.4 206.6h0M674.8 230.7h0M667 232.9h0M676.9 201.7h0M659.7 222.6h0M660.3 216.8h0M685 224.7h0M658.1 235.5h0M665.4 228.9h0M679.8 208.4h0M663.2 222.2h0M664.6 222.5h0M686.4 200.5h0M658.3 205.3h0M659.6 214.4h0M685.5 207.1h0M661 209.5h0M663.2 227h0M685.3 238.5h0M662.8 218.3h0M689.9 225.8h0M682.9 230.5h0M683.9 226.9h0M659 226.3h0M658.7 200h0M680.1 234.8h0M683.1 206.5h0M659 207.2h0M658.2 220.4h0M659.7 223.5h0M655.5 230.2h0M666.8 211.7h0M670.1 237.8h0M675.1 225.1h0M652.2 233.8h0M657.7 219.1h0M654.7 202.8h0M660.8 200.5h0M657.4 225.6h0M687.5 217h0M664.9 217.6h0M655.6 213h0M676.7 207.1h0M688.9 218.9h0M681.8 210.2h0M675.9 235.7h0M665.1 207.1h0M666.1 238.7h0M662.1 234.4h0M682.2 215.3h0M682.1 230.9h0M669.6 223.2h0M684.5 218.6h0M676.1 232.5h0M677.4 233.2h0M660.8 208.1h0M659.7 236.2h0M659.1 201.3h0M686.5 200.2h0M682 219.3h0M686 212.1h0M682.9 216.9h0M682.2 219.2h0" stroke="#7CB343" stroke-width="2.4" stroke-linecap="round" fill="none"/><path d="M661.1 195.5h0M666.8 180.9h0M666.9 175.9h0M659.5 182.7h0M658.7 175.8h0M663.5 199.5h0M657.6 173.4h0M660.2 195.9h0M664.3 181.7h0M655.1 195.5h0M665 197h0M664.5 174.7h0M660 196.5h0M658.2 203.1h0M662 189.8h0M658.8 192.6h0M665.7 181.3h0M662.7 176.1h0M659 196.1h0M665.5 198.7h0M662.9 177.2h0M656.7 174h0M660.4 182.3h0M661.4 191.9h0M667.3 182.8h0M659.2 203.7h0M660.8 197.7h0M667.7 202.1h0M660.5 191h0M665.8 196.5h0M656.3 203.3h0M660.1 171.2h0M657.4 190.1h0M666.5 176.5h0M662.2 197.8h0M657.8 178.1h0M656.2 196h0M660.5 181.6h0M656.3 192.8h0M661.3 193.8h0" stroke="#7CB343" stroke-width="2.4" stroke-linecap="round" fill="none"/><path d="M597.8 203.8h0M596.6 206.7h0M600.9 206.2h0M598.6 204.4h0M599 205.2h0M597.2 209.1h0M594 204.1h0M596.5 204.2h0" stroke="#C9992C" stroke-width="2.4" stroke-linecap="round" fill="none"/><path d="M607.3 217.3h0M605.9 220h0M606.7 217.1h0M609.6 217.7h0M613.2 218h0M602.7 218.2h0M607.9 217.7h0M608.1 220h0M607.7 218h0M607.4 218.3h0" stroke="#429FE0" stroke-width="2.4" stroke-linecap="round" fill="none"/><path d="M646.1 219.1C649.2 219.3 653.1 221 655.2 223.7C657.3 226.3 657.9 231.7 658.7 235.1C659.4 238.5 658.8 241.2 659.8 244.2C660.7 247.2 663 250.3 664.4 253.3C665.7 256.4 666.3 260.2 667.8 262.4C669.3 264.7 671.4 266.4 673.5 267C675.6 267.6 680.7 264.9 680.3 265.9C679.9 266.8 673.9 271 671.2 272.7C668.5 274.4 666.6 274.8 664.4 276.1C662.1 277.4 660.2 279.2 657.5 280.7C654.9 282.2 651.4 283.7 648.4 285.2C645.4 286.8 641.6 288.3 639.3 289.8C637 291.3 637 293.8 634.7 294.4C632.4 294.9 628.6 293.6 625.6 293.2C622.6 292.8 619.1 292.8 616.5 292.1C613.8 291.3 611.5 290.2 609.6 288.7C607.7 287.1 606.2 285 605.1 283C603.9 280.9 603.4 278.8 602.8 276.1C602.2 273.5 601.7 269.7 601.7 267C601.7 264.3 601.8 262.2 602.8 260.2C603.7 258.1 605.5 256.4 607.4 254.5C609.3 252.6 612.1 250.7 614.2 248.8C616.3 246.9 618 245.3 619.9 243.1C621.8 240.8 623.5 237.5 625.6 235.1C627.7 232.6 630.5 230.3 632.4 228.2C634.3 226.1 634.7 224.1 637 222.5C639.3 221 643.1 218.9 646.1 219.1Z" fill="#E16DB3" stroke="#E16DB3" stroke-width="0.5" stroke-linejoin="round"/><path d="M649.7 220.6h0M654.1 222.3h0M652.8 222.9h0M656.5 223.5h0M653.1 222.1h0M650.2 219h0M649.4 219.2h0M652.4 224.5h0M658 233.5h0M657 234.1h0M657 229.2h0M658 232h0M657.2 231h0M656.7 227.4h0M660.3 232.9h0M655.2 225.5h0M656.2 226.6h0M658.1 239.3h0M660.1 242.6h0M659.4 242.4h0M659.7 238h0M659.6 243h0M660.1 242.6h0M657.1 237.3h0M664.1 248.3h0M659.9 243.7h0M661.8 246.7h0M662.2 249.7h0M662.6 251h0M662.4 248.4h0M665.8 252.1h0M662.5 249.4h0M665 261.6h0M666.3 261h0M667.4 256.1h0M666 256.6h0M664.4 260.8h0M666 254.5h0M667 263.1h0M666.8 262.5h0M672.3 265h0M671.9 265.8h0M668.4 262.7h0M670.9 265.3h0M674.9 267.4h0M676.6 267h0M676.2 268.4h0M676.8 266h0M676.2 266.5h0M670.8 272h0M676.8 267.8h0M672.2 271.9h0M678 266.4h0M677.3 265.6h0M671.8 273.2h0M675.7 269.2h0M672.2 272.7h0M673.9 270.7h0M671.6 274.6h0M666.7 272.5h0M668.1 271.9h0M667.4 274.2h0M668.1 274.5h0M666.8 276.7h0M662.2 277.8h0M658.6 280.4h0M663.4 278.3h0M658.5 278h0M658.7 281.2h0M658.9 278h0M654.1 281.6h0M653.1 283.4h0M648.1 284.1h0M653.8 282h0M653 283.3h0M649.6 283.5h0M650.2 282.6h0M657.3 281.6h0M640.7 288.7h0M638.7 291.2h0M642 289.5h0M646.1 285.6h0M646.7 286.9h0M642.5 287.5h0M647.2 286.4h0M645 289.2h0M636.6 291.3h0M637 292.5h0M637.2 294.7h0M636.4 291.6h0M636 294.3h0M624.7 293.8h0M630.6 292.4h0M628 293.6h0M633.7 294.4h0M633.3 293.4h0M630 293.7h0M631.1 294.8h0M618.1 291.4h0M625.5 294.2h0M621.3 293.9h0M619.5 292.8h0M625.7 293.2h0M622.2 293.4h0M622.4 293.8h0M613.7 291.1h0M610.5 288.4h0M616.1 290.7h0M610.9 290.4h0M610.8 291.2h0M616.3 291h0M610.2 289.9h0M609.5 286.3h0M606 283h0M609.7 289.7h0M607.7 285.1h0M602.7 275.9h0M602.5 283h0M607.1 282h0M604.6 278.7h0M602.8 283.2h0M601.2 272.3h0M602.5 270.1h0M601.2 268.7h0M601.2 268.5h0M601.6 274.9h0M602.6 269.6h0M603.5 274.7h0M603 264.6h0M604.2 265.9h0M603.5 261.8h0M601.5 262.8h0M602.4 264.1h0M603.4 258.9h0M602.9 260.7h0M604.4 257.8h0M605.3 257.9h0M606.6 255.4h0M610.6 251.1h0M609.1 252.5h0M607.1 251.3h0M612.2 250.4h0M609.5 251.3h0M609.2 252.1h0M610.3 250.9h0M616.5 248.4h0M619.3 242.7h0M616.1 246.1h0M618.2 244.6h0M615.1 245.3h0M617.9 246h0M620.7 240.9h0M620.6 240.9h0M625.2 235.9h0M625.4 235.5h0M622.9 240.6h0M619.7 242.4h0M626.5 236.7h0M630.1 228.2h0M627.9 233h0M626.4 235.5h0M628 233.2h0M630.9 232.4h0M629.3 229.7h0M627.7 231.7h0M633.8 225.2h0M633.7 227.2h0M637.3 222.4h0M634.6 228.4h0M634.6 225.1h0M644.9 220.8h0M641.4 222h0M636.4 222.4h0M639.5 222.3h0M641.6 219.1h0M643.5 220.7h0M637.4 223.6h0" stroke="#E16DB3" stroke-width="2.2" stroke-linecap="round" fill="none"/><path d="M604.9 229.4h0M603.3 225.9h0M605 233.1h0M604.1 229.5h0M603.8 239.4h0M604.2 254h0M602.5 256.3h0M603.1 226.1h0M603.7 241.6h0M604.3 245.6h0M603.5 225.8h0M603.7 240.2h0M604.7 227.6h0M605.1 233.8h0M604.5 232.3h0M604.9 251h0M603.4 228.9h0M603.5 240.5h0M604.1 242.3h0M603.5 232.5h0M603.3 255.3h0M605.3 232.6h0M603.6 232.4h0M602.9 246.3h0M604.2 238.5h0M605.5 247.5h0M603.9 225.8h0M604.9 225.6h0M603.4 248h0M603.4 234.8h0M603.2 252.6h0M603.7 228.9h0M605.5 229.1h0M602.8 252.8h0M605.3 233.7h0M602.9 224.2h0M603.6 228.4h0M604.6 249.2h0M604.4 230.1h0M604.1 241.1h0" stroke="#E16DB3" stroke-width="2.4" stroke-linecap="round" fill="none"/><path d="M614.8 230.8h0M623.8 241.3h0M611.3 246.3h0M608.8 225.6h0M615.8 236h0M609 224.3h0M605.6 231.5h0M635.6 250.9h0M619.9 243.3h0M609.1 246.2h0M620.9 235.8h0M623.8 251.9h0M611.2 226.5h0M609.4 245.9h0M604.5 237.1h0M604.1 231.7h0M613.2 227.3h0M625.1 248.4h0M611.7 246.8h0M608.1 231.8h0M609.8 253.4h0M614.5 239.4h0M620.4 239.8h0M615.6 247.6h0M604.7 240h0M623.7 248.1h0M612.5 239.7h0M614.7 242.6h0M620.1 245.2h0M622.3 251.6h0M620.1 255h0M605.7 243.9h0M612 226.9h0M611.6 230.9h0" stroke="#E16DB3" stroke-width="2.4" stroke-linecap="round" fill="none"/><path d="M657 256.8h0M666.6 253.1h0M666.7 230.5h0M665.4 241.7h0M661.5 227.2h0M662.9 224.5h0M659.4 224.7h0M670.6 220.2h0M655.3 226.2h0M660.5 225.6h0M664.7 246.6h0M658.1 226.8h0M669.5 217.2h0M663.2 234.8h0M661.3 224.4h0M656.1 247.4h0M659.8 225.4h0M665 241.2h0M659.8 223.3h0M655.8 237.7h0M664.9 255.8h0M660.2 229.3h0M669.4 239.8h0M666.8 235.6h0M667.3 218.3h0" stroke="#E16DB3" stroke-width="2.4" stroke-linecap="round" fill="none"/><circle cx="618.3" cy="273.8" r="7.4" fill="#7CB343"/><path d="M617.1 274.3h0M624.9 265.5h0M624.1 272.3h0M621.2 279h0M616.8 272.3h0M620.6 273.3h0M621.4 271.5h0M614.2 272h0M619.6 278.1h0M621 272.8h0M619.1 269.9h0M624.3 262h0M622.9 271.6h0M615.2 266.3h0M618.8 266.9h0M615.1 276.8h0M620.5 276.5h0M615 266.5h0M621.8 277h0M619.8 275.5h0M622 270.8h0M617.7 276.6h0M612.8 267.6h0M625 269.2h0M617.6 268.3h0M623.5 269.6h0M619.9 277.1h0M620.9 268.7h0M625.3 269.4h0M619.6 270.2h0M623.6 274.5h0M612.7 272.5h0M621.6 277.1h0M617.4 271.1h0M617.8 268.9h0M618.3 271.9h0M619.6 273.9h0M624.6 270.3h0M611.3 274.8h0M618.5 280.7h0M615.6 271.6h0M622.7 273.9h0M616.7 278.9h0M620 271.3h0M616.8 270.5h0M620.8 269.6h0M622.2 275.3h0M616.8 275.7h0M618.5 273.2h0M612.9 273.9h0M619.5 278.6h0M621.6 277h0M616.2 268.4h0M622.6 273.7h0M610.4 274.1h0M611.3 276.5h0M613 272.9h0M616.5 271.3h0M618.4 272h0M618 266.9h0M618 273.6h0M621 271.4h0M616.5 275.5h0M613.5 269.8h0M613.6 272h0M626.3 270h0M609.4 269.6h0M617.6 276.3h0M623.8 271.9h0M620.1 275.4h0M615.1 269.4h0M618.3 274h0M621.6 267.2h0M622.9 271.8h0M614.9 271.7h0M621.2 275.9h0M619.3 274.3h0M622.5 273h0M623.6 276.8h0M617 274.4h0M612.8 275.7h0M619.8 276.6h0M625.1 273.4h0M620.9 272.5h0M619.2 274.9h0M627.4 272.1h0M614.3 275.1h0M621.7 277.8h0M616.1 276.9h0M618.5 272.2h0M618.6 268.8h0M624.1 273.4h0M614.7 273.2h0M616.3 277.8h0M612.2 272.2h0M620.2 272.8h0M616.6 276.4h0M619.9 271.8h0M614.2 273h0M616.9 280.1h0M622.2 279.3h0M617.6 276h0M620.7 274.6h0M620.3 269.9h0M617 275.7h0M612.4 273.8h0M622 274.5h0M618.9 271.7h0M622 273.6h0M610.7 272.9h0M612 274.8h0M610.2 279h0M615 275h0M622.3 267.3h0M620.5 269.9h0M618.2 267.6h0M618.8 270.6h0M621.2 275.7h0M617.2 275.1h0M619.8 271.3h0" stroke="#7CB343" stroke-width="2.8" stroke-linecap="round" fill="none"/><path d="M649.5 218h0M646.8 219.1h0M645 220.3h0M644.8 221.4h0M646 222.5h0M651.5 223.7h0M644.4 224.8h0M650.7 225.9h0M650.7 227.1h0M646.7 228.2h0M646.9 229.4h0M645.3 230.5h0M646.6 231.6h0M648.1 232.8h0M646.3 233.9h0M648.6 235h0M648.9 236.2h0M646.6 237.3h0M646.3 238.4h0M645.2 239.6h0M646 240.7h0M642.2 241.8h0M645.8 243h0M645.1 244.1h0M642.2 245.3h0M649.6 246.4h0M641.6 247.5h0M641.7 248.7h0M644.3 249.8h0M638.6 250.9h0M641.3 252.1h0M639.3 253.2h0M640.5 254.3h0M642.4 255.5h0M643.3 256.6h0M645.1 257.7h0M644.2 258.9h0M644.9 260h0M643.3 261.2h0M640.4 262.3h0M644.2 263.4h0M640 264.6h0M639.5 265.7h0M644.7 266.8h0M642.6 268h0M641 269.1h0M642.2 270.2h0M642.3 271.4h0M636.5 272.5h0M639.5 273.6h0M636.6 274.8h0M639.7 275.9h0M637.5 277.1h0M642.4 278.2h0M640.1 279.3h0M636.6 280.5h0M638.4 281.6h0M635.2 282.7h0M638.1 283.9h0M639.2 285h0" stroke="#F37770" stroke-width="2.4" stroke-linecap="round" fill="none"/><path d="M638.2 243.3h0M626.2 237.8h0M636.6 237.4h0M643.9 232h0M637 247.4h0M647.2 234.4h0M632.8 230.9h0M640.6 241.3h0M635.1 235.8h0M637.2 244.8h0M636.4 250.9h0M640 245.7h0M633.1 242.7h0M637.8 243h0M627.9 246.5h0M633.9 225.7h0M639 246.3h0M639.1 235.3h0M631.1 229.8h0M632 240.7h0M638 239.6h0M644 250h0M639.7 252.9h0M647.7 226.6h0M627 238.2h0M630.9 257h0M637.1 249.9h0M635.1 254.1h0M638.9 244.1h0M639.4 231.2h0M649.8 237.6h0M643.2 250.8h0M633.7 249.5h0M633.3 234.9h0M649.1 244.6h0M633 243.3h0M648.4 231.7h0M648.6 243.7h0M627.1 252.7h0M632.5 259.5h0M635.2 240.9h0M634.7 257.3h0M640.1 239.1h0M650 240.3h0M646.3 226.8h0M634.2 249.6h0M644.2 241.9h0M628.9 259.5h0M633.9 244.2h0M648.9 248.4h0M637.1 227.2h0M630 252.7h0M638.1 239.8h0M631.3 239.1h0M631 221.5h0M640.2 251.6h0M629.7 248.3h0M635.4 236.8h0M634.5 242.4h0M630.2 243.4h0M628.1 247.5h0M637.4 243.6h0M645.6 260.3h0M641.6 242.1h0M642.7 239.4h0M629.6 235.9h0M643.6 223.3h0M632.4 234h0M638.4 251.6h0M634.8 244h0" stroke="#F37770" stroke-width="2.4" stroke-linecap="round" fill="none"/><path d="M627.6 285.1h0M633.5 287.7h0M621.6 278.7h0M630.3 291.5h0M634.3 288.4h0M635.2 289h0M627.9 291.7h0M636.3 286h0M641.1 286.1h0M629.6 289.7h0M635.4 288.5h0M623.9 285.8h0M621.9 287h0M634.8 284.8h0M631.9 289.7h0M632.7 290.5h0M628.8 286.8h0M630.3 294.3h0M635.8 280.6h0M640.3 285.9h0M630.7 293.7h0M623.5 285.1h0M638.1 280.4h0M634.8 292.4h0M635.2 289h0M632.7 282h0M643.4 289.9h0M632.1 282.7h0M634.3 281.4h0M622.5 286.2h0M628.8 284.9h0M628.3 282.4h0M631.6 285.3h0M633.5 282.8h0M628 287h0M640.4 286.7h0M626.4 289.8h0M629.5 285h0M632.9 281.5h0M625.5 281.5h0M634.6 285.8h0M634.9 293h0M630.3 290.2h0M641.3 284.2h0M632.2 290.6h0M633.2 282.2h0M626.9 290.9h0M623.4 285.3h0M628.6 289.9h0M630.1 289.3h0M629.5 285.7h0M635.6 288.1h0M619.8 282.5h0M626.1 286.5h0M622.6 291.2h0M638.5 303.2h0M628.9 289.6h0M629.2 287.2h0M626.2 282.8h0M636.2 291.1h0" stroke="#F37770" stroke-width="2.4" stroke-linecap="round" fill="none"/><path d="M617.8 260.1h0M622.9 262.8h0M629.9 266.7h0M620.5 258.5h0M637 264.4h0M634.3 260.6h0M624.3 271.4h0M624.4 263.5h0M619.8 261.3h0M619.3 260.5h0M630.4 266.1h0M631.5 264.5h0M629.8 257.5h0M629.3 262.7h0M624.4 256.4h0M629.9 258.8h0M618.9 256.6h0M627.8 256.5h0M636.6 259.1h0M635.7 257.9h0M624.9 263.9h0M625.7 265h0M636 260.9h0M638.5 257.3h0M618.7 265.1h0" stroke="#F37770" stroke-width="2.4" stroke-linecap="round" fill="none"/><path d="M649.7 266h0M653 226.1h0M659.5 245.8h0M615.2 282h0M634.6 235.7h0M636.9 266.7h0M645.3 269.6h0M656.4 239.3h0M648.9 261.5h0M640.7 289h0M625 287.7h0M614.9 271.4h0M656.6 240.4h0M622.7 244.8h0M630.8 241.7h0M622.2 269.7h0M631.3 273.5h0M636.5 244.8h0M626.3 235.5h0M670.6 272.1h0M656.3 279.7h0M620.6 274.1h0M607.3 269.1h0M627 268.9h0M619.5 245.7h0M611.5 269.6h0M607.1 276.9h0M642.6 286.7h0M637.3 277.7h0M644.4 269.3h0M667.5 262.2h0M614.8 267.3h0M628 233.9h0M661.3 252h0M614.2 282.5h0M624.6 248.5h0M620.8 250.7h0M620.8 280h0M654.8 255h0M633.9 239.1h0M661.9 255.8h0M607.2 266.3h0M625.9 292.6h0M658.3 265.2h0M633 278.1h0M651.6 236.1h0M640.2 272.5h0M650.5 260h0M650.5 251.8h0M634.7 260.2h0M625.6 269h0M627.5 260.9h0M609.4 261.6h0M639.3 267.7h0M646.2 262.2h0M660.8 266.1h0M655.8 249.2h0M637.9 285.7h0M633.7 259.2h0M653 261.6h0M602.9 266.3h0M611.6 257h0M606.8 267.5h0M657.1 238.3h0M624.7 291.5h0M620.1 251.1h0M639.9 271.1h0M653.7 232.1h0M612.4 283.1h0M643 255.7h0M642.1 284.2h0M607.6 270.3h0M631.2 259.5h0M650.8 281.3h0M624.1 277.1h0M645.7 248.3h0M652.1 268.3h0M605.2 281.1h0M642 227.5h0M635 245.7h0M608.4 264.5h0M637.1 231.1h0M624.4 238.3h0M654.7 231h0M651.6 279.5h0M631.4 275.4h0M642.8 274.7h0M635.3 263.6h0M654.5 245.1h0M652 225.4h0M620.5 243.9h0M617.3 281.8h0M628.2 240.8h0M629.5 278.9h0M635.2 226.1h0M639 232h0M633.2 238.6h0M628.1 291.5h0M666.9 272.2h0M620.9 275.5h0M656.6 258.8h0M634.7 239.9h0M650.5 231.2h0M626.8 288.5h0M650.3 283.4h0M666.2 274.1h0M656.9 247.2h0M606.5 267h0M607.4 279.2h0M647.4 223.8h0" stroke="#7CB343" stroke-width="2.4" stroke-linecap="round" fill="none"/><path d="M661 258.9h0M672.2 266.7h0M648.4 234.3h0M664.2 273.3h0M625.8 282.9h0M621 291.3h0M640.1 281.9h0M648.8 276.8h0M629.8 285.1h0M648.8 222.8h0M674.7 268.8h0M650.1 282.5h0M620.3 265.8h0M655.4 276h0" stroke="#429FE0" stroke-width="2.0" stroke-linecap="round" fill="none"/><path d="M644.2 247.5h0M637.2 248.8h0M641.4 247.6h0M640.2 247.2h0M637.6 238.9h0M639.2 245h0M634.5 240.6h0M638.1 237.7h0M633.1 237.9h0M648 245h0M645.3 247.8h0M644.3 236.9h0M641.1 250.9h0" stroke="#429FE0" stroke-width="2.4" stroke-linecap="round" fill="none"/><path d="M668.1 269.3h0M624.5 239.3h0M615.6 249.6h0M630 240.6h0M666.5 266.8h0M656.2 277.4h0M628.4 246.5h0M621.1 288.5h0" stroke="#1FBDC5" stroke-width="2.0" stroke-linecap="round" fill="none"/><path d="M668 267.7h0M668.6 269.9h0M669.1 267.9h0M669.7 267h0M670.3 265.6h0M670.8 267.9h0M671.4 266.7h0M672 265.9h0M672.5 265.8h0M673.1 268h0M673.7 264.8h0M674.2 267.5h0M674.8 266.4h0M675.4 264.2h0M676 265.3h0M676.5 263.4h0M677.1 261.9h0M677.7 262.5h0M678.2 261.2h0M678.8 263.2h0M679.4 262.1h0M679.9 262.7h0M680.5 262.8h0M681.1 256.2h0M681.6 261.4h0M682.2 257.7h0M682.8 260.6h0M683.3 258.6h0M683.9 259.9h0M684.5 261.6h0M685 256.4h0M685.6 259.1h0M686.2 258.4h0M686.8 255.2h0M687.3 259h0M687.9 257.7h0M688.5 256.5h0M689 255.9h0M689.6 261.9h0M690.2 255.8h0M690.7 253.3h0M691.3 254.4h0M691.9 255h0M692.4 254.7h0M693 254.9h0" stroke="#7CB343" stroke-width="2.4" stroke-linecap="round" fill="none"/><path d="M692.9 255.6h0M691.7 258.3h0M704.3 251h0M673.5 239.2h0M680.3 232.8h0M688.3 216.8h0M660.9 232.8h0M663.2 251h0M666.6 259h0" stroke="#7CB343" stroke-width="2.6" stroke-linecap="round" fill="none"/><path d="M622.2 293.2C623.3 291.7 629.2 293.6 632.4 294.4C635.7 295.1 638.5 296.6 641.6 297.8C644.6 298.9 648.2 299.5 650.7 301.2C653.1 302.9 654.9 305.4 656.4 308C657.9 310.7 659.4 314.5 659.8 317.2C660.2 319.8 659.6 321.9 658.7 324C657.7 326.1 656 328.7 654.1 329.7C652.2 330.6 649.5 330.3 647.3 329.7C645 329.1 642.5 328 640.4 326.3C638.3 324.6 636.4 321.7 634.7 319.4C633 317.2 631.7 315.3 630.2 312.6C628.6 309.9 626.9 306.7 625.6 303.5C624.3 300.2 621 294.7 622.2 293.2Z" fill="#429FE0" stroke="#429FE0" stroke-width="0.5" stroke-linejoin="round"/><path d="M628.6 293.4h0M624.9 293.3h0M623.3 293h0M622.4 295.1h0M628.5 294.5h0M629.6 294.2h0M624.9 294.4h0M624.5 293.7h0M637 296.7h0M640 297.7h0M633.2 295.6h0M637.3 296.1h0M641.1 296.6h0M641.5 298.7h0M640.6 299.1h0M647.9 301.8h0M645.2 299.1h0M646.5 300.3h0M643.8 299.4h0M647.9 300h0M641.4 298.2h0M641.4 297.8h0M653.5 305h0M655.4 303.9h0M653 302.5h0M651.8 303.6h0M653.6 306h0M655.5 305.6h0M651.6 301.3h0M658.1 312.7h0M657.4 309.5h0M657.8 314.3h0M656.3 309.1h0M658.2 309.4h0M656.5 309h0M659.5 314.2h0M658.1 321h0M661 317.8h0M659.3 318.5h0M660.5 319.1h0M658.6 320h0M655.9 328.2h0M656 328.7h0M654.5 327.5h0M656.7 324.7h0M656.7 328.6h0M648.7 330.6h0M653.4 330.3h0M652.1 330.4h0M653.7 329.3h0M653 331.3h0M645.4 329.9h0M640.1 324.8h0M644 328h0M642.4 327.1h0M645.4 330.2h0M641.1 328.2h0M639.3 324h0M636.7 320.1h0M637.2 322.4h0M640 325.4h0M638.6 321.8h0M638 323.8h0M634.4 320.2h0M631.3 315.6h0M632.3 316.9h0M633.7 317.6h0M632.3 317.6h0M633.4 316.5h0M631.9 317h0M625.3 305.1h0M626.9 303.7h0M628.6 310.8h0M625.9 304h0M629.7 310.8h0M630 312h0M624.8 304.5h0M629.2 311h0M622.5 297.4h0M624.3 301.3h0M624.3 293.5h0M624.7 297.1h0M627.3 304.6h0M620.3 294.6h0M623.5 297.9h0M623.8 297.7h0" stroke="#429FE0" stroke-width="2.2" stroke-linecap="round" fill="none"/><path d="M642.1 318.3h0M640.7 320.4h0M640.7 320.4h0M641.3 317.5h0M643.5 317.3h0M642.1 318.4h0M638.4 320.4h0M641.2 320.1h0M642.7 317h0M640.3 312.9h0M644.5 323.9h0M643.5 320.8h0M638.9 319h0M642.3 319.2h0M646.7 316.9h0M645.6 315.7h0M641.4 317.4h0M643.8 317.7h0M639.7 316.7h0M637.7 314.5h0M642.9 317.5h0M642.1 319.8h0M642.8 317h0M641.4 318.4h0M642.3 312.9h0M640.2 317.8h0M642.7 318h0M643.7 315.1h0M641.3 313.8h0M643.6 319.4h0M636.9 316.2h0M639.5 319.6h0M645.3 317.2h0M646.1 319.9h0M642.2 317.4h0M641.2 314.4h0M638.2 318.1h0M642.4 317.4h0M643.5 320h0M637.6 317.1h0M643 317.3h0M642.8 320.5h0M642.6 321.3h0M638.6 320.3h0M642.9 321h0M637.6 319.5h0M645.4 320.3h0M641.9 320.6h0M638.5 319.3h0M645 318.5h0M644.5 318.7h0M639.8 324.6h0M647.2 318.3h0M638.9 317.7h0M642.3 317.4h0M644.6 318.2h0M635.6 318.9h0M644.1 315.4h0M641.3 313.2h0M641.5 319.1h0M638.7 314.1h0M642.4 319h0M638.6 318.7h0M639 321.3h0M640.3 322.6h0M638.3 319.3h0M645.6 316.9h0M638 315.2h0M639.5 316.2h0M640.7 318.4h0" stroke="#7CB343" stroke-width="2.8" stroke-linecap="round" fill="none"/><path d="M641.7 309.8h0M650.3 311.9h0M650 315.9h0M652.6 306.5h0M648.7 316.7h0M650.4 316.7h0M647.1 311.9h0M648.1 317.2h0M642.9 312.3h0M650.5 303.6h0M656.2 313.7h0M650.7 309.6h0M651.5 310.1h0M646.1 308.8h0M655.7 314.8h0M646.9 310.8h0M653.2 304.5h0M650.4 310.4h0M646.2 311.6h0M654.1 304.4h0M650.1 305.8h0M650.7 306.1h0M651.8 305h0M649.9 309.7h0M648.5 313.1h0M651.9 317.5h0M648.4 314h0M650.3 313.1h0M647.3 313.7h0M644 314.7h0M647.3 306.1h0M648 311.5h0M650.1 309.6h0M654.7 307.4h0M643.2 305.7h0M650.5 305.5h0M641.2 306.7h0M645.8 301.8h0M648 310.6h0M641 307.9h0M642.6 308.5h0M650.6 309.7h0M650.3 311.6h0M649.5 305h0M646.8 307.5h0M658.6 300h0M649.4 296.9h0M646.6 298.3h0M656.7 315.7h0M652.5 298.9h0M648.5 310.4h0M654.8 315.4h0M650.6 305.7h0M652.6 316.1h0M650.9 317.2h0M645.9 312.7h0M653.9 319.9h0M650.6 311.1h0M646 304.4h0M646.9 310.6h0M653.8 305.8h0M648.5 301.5h0M650.2 301.6h0M652.6 319.6h0M650.5 305.3h0M643.9 307.9h0M652.5 304.7h0M653.8 308.7h0M653.5 306.8h0M656.5 306h0" stroke="#E16DB3" stroke-width="2.4" stroke-linecap="round" fill="none"/><path d="M630 298.3h0M629 297.4h0M632.3 293.3h0M637.5 297.6h0M646.4 292.7h0M641.3 295.8h0M645.2 298h0M638.5 299.1h0M635.6 299.3h0M629.5 298.6h0M636.1 306.6h0M625.4 300.6h0M634.6 294.8h0M644.2 297h0M637.7 296.8h0M641.7 298.5h0M634.2 297h0M629.2 296.1h0M633.7 304.9h0M634.1 299.3h0M642.1 297.9h0M646 298.2h0M632.4 298.4h0M634.3 304h0M635.4 300.8h0M634.4 303h0M629.9 288.2h0M636.6 300.3h0M637.9 302.8h0M638.1 306h0M630.1 299.2h0M635.6 293.1h0M627.4 301.2h0M640.7 297h0M631 292.9h0M634.8 297h0M633.9 302.8h0M633.2 303.3h0M630.8 301.6h0M627.3 295.5h0M644.8 307.9h0M637.4 295h0M637.5 298.9h0M646.6 294.1h0M635.6 303.7h0M638.9 300.7h0M636.3 302.2h0M642.1 299.4h0M638.7 298.9h0M637.7 299.7h0M634.9 292.5h0M637.6 302.6h0M642 302.3h0M625.8 297.8h0M635.5 299.1h0M634.1 300.2h0M634.7 304.6h0M626.3 300.7h0M639.8 299.3h0M631.9 297.4h0" stroke="#E16DB3" stroke-width="2.4" stroke-linecap="round" fill="none"/><path d="M626.6 298.2h0M629.3 296.7h0M631.3 292.2h0M630.4 295.1h0M631.4 296.4h0M633.4 300.6h0M632.4 297.1h0M632 295.9h0M633.1 299.1h0M631.7 295.9h0M631 296.1h0M632.5 296.5h0M626 292.4h0M634.9 298.5h0M627.3 297.2h0M633.7 295.4h0M631.2 293.3h0M634.5 296.7h0M631.2 299.6h0M628.3 294.5h0M634.4 293.5h0M631.7 297.2h0M631.5 292.1h0M631.4 290.6h0M634.2 295h0" stroke="#F37770" stroke-width="2.4" stroke-linecap="round" fill="none"/><path d="M642.5 307.2h0M643.5 310.5h0M642.8 308.4h0M644.9 314.5h0M643.6 304.9h0M642.7 311.3h0M643 308.8h0M645.7 307.8h0M646.4 305.3h0M646.3 308.8h0M645.8 302.2h0M636.2 302.6h0M641.7 309.7h0M643.4 302h0M644.6 312.1h0M640.3 306.3h0M647.6 308.1h0M644.9 307.5h0M642.7 308.7h0M644.5 306.3h0M643.3 306h0M642.3 306.8h0M645.4 310.8h0M643.1 311.1h0M640.8 311.6h0M642.6 308.5h0M643.9 306.6h0M641.6 301.5h0M647.2 309.4h0M641.5 310.1h0M648.4 305.9h0M646.3 310h0M641.9 311.6h0M644.5 307.6h0M647 310.9h0M643.7 308.3h0M641.3 301.4h0M644.4 305.7h0M648.9 305.9h0M640.6 309.1h0M645.5 304.3h0M644.2 305.8h0M643.9 304h0M643.2 307.1h0M643.4 307.5h0M646.6 310.6h0M645.6 310h0M641.8 307.8h0M647.9 308.1h0M641 307.6h0M645.8 307.6h0M644.6 312.5h0M647 298.8h0M645 306.7h0M646.7 308.3h0" stroke="#F37770" stroke-width="2.4" stroke-linecap="round" fill="none"/><path d="M642 297.7h0M630.9 300.4h0M638.1 298.6h0M640.7 298.9h0M634.2 297.3h0M626.8 301.6h0M634.6 295.9h0M630.4 303.3h0M639.6 297.2h0M632.1 295.8h0M645.3 300.2h0M637.1 299.6h0M632.4 292.3h0M633.9 298.9h0M630.9 294.2h0M638.3 295.7h0M643.8 300.6h0M635.3 295.6h0M641 299.3h0M631.7 297.1h0M637.9 304h0M647.9 297.9h0M629.4 294.7h0M642.5 294.9h0M642.3 295.5h0M627 298.6h0M629.2 298.2h0M631.5 301.1h0M641.2 298.7h0M634.2 298.6h0" stroke="#E16DB3" stroke-width="2.4" stroke-linecap="round" fill="none"/><path d="M648.4 294.8h0M654.1 297.8h0M656.4 290.9h0M642.7 298.5h0M657.5 301.2h0" stroke="#E16DB3" stroke-width="2.6" stroke-linecap="round" fill="none"/><path d="M675.3 317.2h0M677.6 319.4h0" stroke="#1FBDC5" stroke-width="3.0" stroke-linecap="round" fill="none"/><path d="M676.7 318.5h0M673.9 316.2h0" stroke="#7CB343" stroke-width="2.4" stroke-linecap="round" fill="none"/><path d="M498 314.5C498.2 312.2 500.3 310.6 502.2 309.2C504.2 307.8 507 306.5 509.7 306C512.3 305.6 515.8 305.7 518.1 306.4C520.4 307.1 522.2 308.6 523.4 310.2C524.7 311.9 525.5 314.7 525.5 316.6C525.5 318.5 522.5 320.8 523.4 321.9C524.3 323 528.7 321.9 530.8 323C533 324 534.9 326.3 536.1 328.3C537.4 330.2 537.5 332.7 538.3 334.6C539 336.5 539.7 337.8 540.4 339.9C541.1 342 542 345.4 542.5 347.3C543 349.3 543.9 351.2 543.5 351.6C543.2 351.9 541.4 350.7 540.4 349.4C539.3 348.2 538.6 345.9 537.2 344.1C535.8 342.4 533.8 340.3 531.9 338.8C530 337.4 527.5 336.7 525.5 335.7C523.6 334.6 522 333.5 520.2 332.5C518.5 331.4 517.1 330.2 515 329.3C512.8 328.4 509.8 328.3 507.5 327.2C505.2 326.1 502.8 325.1 501.2 323C499.6 320.8 497.8 316.8 498 314.5Z" fill="#A984C1" stroke="#A984C1" stroke-width="0.4" stroke-linejoin="round"/><path d="M499.1 313.3h0M500.1 312.3h0M500.4 311.1h0M498.2 314.2h0M503.6 309.6h0M503.7 309.5h0M502.4 310.7h0M506.3 306.7h0M513.1 306.3h0M518.3 306.3h0M514 307h0M511.2 306.1h0M515.1 305.8h0M522.9 309.6h0M522.1 309.2h0M518.3 306.5h0M523.5 309.5h0M523.7 309.9h0M523.6 313.7h0M524 311h0M522.7 321.3h0M525.2 320.1h0M524.9 318.6h0M524.2 321.4h0M523.7 322.3h0M529.3 322.1h0M528.8 322h0M534.5 326.6h0M533.2 326.4h0M533.6 325.4h0M534.9 327.2h0M538.4 335.1h0M536.2 329.6h0M535.1 329.2h0M536.8 332.3h0M539.6 338.3h0M539.4 336.9h0M539.2 339.4h0M541.3 346.2h0M543.3 345.5h0M541.8 344.7h0M540.8 342.1h0M543.3 350.7h0M542.3 347.1h0M541.8 350.5h0M541.6 349h0M538.4 345h0M537.5 346.2h0M539.1 346.2h0M533.6 341.2h0M535.4 343.1h0M534.6 342.4h0M534 338.4h0M526.2 334.7h0M529.7 336.7h0M528 336.4h0M528.7 337.7h0M525.5 334h0M520.6 332h0M519.9 334.3h0M516.3 329.4h0M517.9 331.2h0M518.2 330.2h0M510.6 327.7h0M509.7 328.5h0M510.9 327.4h0M507.4 327.6h0M501.7 324.2h0M505.2 326.5h0M504.2 325.2h0M502.6 325.4h0M498.2 315h0M499.9 321.2h0M498.4 315.2h0M498.1 317.2h0M500.8 318h0" stroke="#A984C1" stroke-width="2.2" stroke-linecap="round" fill="none"/><path d="M505 316.6h0M510.9 318.2h0M501.3 317.3h0M506.2 316.7h0M513.3 315.6h0M510.8 313.7h0M504 316.6h0M503.1 315.5h0M511.1 316.5h0M508.3 315.4h0M506.5 314.3h0M509.7 313.8h0M506.6 316.5h0M502.3 317.5h0M511 315h0M506.4 316.2h0M505.2 317.6h0M504.2 314.1h0M509.2 314.9h0M505.9 313.7h0M510.4 317.3h0M507.6 315.8h0M511.9 314.7h0M507.2 312.8h0M506.3 315.1h0M502.1 317h0M504.9 315h0M510.7 314.8h0M518.1 316.5h0M504.4 313.5h0M505.1 315.5h0M509.5 316.4h0M509.9 314.2h0M506.3 314.1h0M508.7 315.8h0M503.3 315.3h0M507.5 315.1h0M511.3 315.8h0M513.6 315.8h0M507.9 314h0M507.6 314.4h0M509.9 316.2h0M511.9 317.2h0M510 317.6h0M506 314.1h0M509.6 317.2h0M511.5 316.6h0M506.2 315.4h0M504.2 316.2h0M510 316.8h0M509.6 318.3h0M511.5 313.8h0M508.7 316.4h0M506.4 315.2h0M507 315.1h0M505.2 317.3h0M505.4 316.7h0M506.6 313.8h0M506.9 315h0M512 315.8h0M504.5 313.2h0M508.3 316.8h0M506.6 315.3h0M513.2 315.7h0M509.3 316h0M507.2 318.3h0M511 315.5h0M508.7 314.9h0M506.9 318.2h0M513.3 314.7h0" stroke="#7CB343" stroke-width="2.8" stroke-linecap="round" fill="none"/><path d="M515.4 310.4h0M514.6 312.7h0M517 309.1h0M516.2 309.5h0M516.4 308.7h0M516.1 312.3h0M515.8 308.4h0M515.2 311.4h0M515.2 312.4h0M516.4 310h0" stroke="#7CB343" stroke-width="2.6" stroke-linecap="round" fill="none"/><path d="M510.7 322.5h0" stroke="#F37770" stroke-width="3.2" stroke-linecap="round" fill="none"/><path d="M522.4 330.4h0M527.7 333.5h0M530.8 337.8h0M534 331.4h0M524.5 331.9h0M529.1 335.7h0" stroke="#C9992C" stroke-width="2.6" stroke-linecap="round" fill="none"/><path d="M510.9 333.5h0M510.9 336.1h0M511.3 338.6h0M512.8 340.3h0M515.6 341.2h0M518.1 341.4h0M520.7 341.6h0M523 340.7h0M524.5 339.1h0M511.8 337.4h0M513.9 340.7h0M521.9 341.2h0" stroke="#F37770" stroke-width="3.0" stroke-linecap="round" fill="none"/><path d="M518.1 333.5h0M521.3 336.1h0M519.2 337.4h0" stroke="#fff" stroke-width="1.6" stroke-linecap="round" fill="none"/><path d="M543.1 353.7h0M544 356.8h0M542.7 355.2h0M542.5 369.6h0M543.5 373.8h0M544.6 378h0M545.7 382.3h0M543.1 371.7h0M544.2 375.9h0M545.2 380.1h0M546.1 385.4h0" stroke="#2DB56B" stroke-width="3.0" stroke-linecap="round" fill="none"/><path d="M541.4 337.8h0M538.3 338.2h0" stroke="#E16DB3" stroke-width="2.6" stroke-linecap="round" fill="none"/><ellipse cx="580.8" cy="345" rx="4.4" ry="6.2" fill="#F37770" transform="rotate(15 580.8 345)"/><path d="M582.9 344.1h0M575.2 344.5h0M580.3 342.6h0M576.3 345h0M581.4 344.3h0M582.9 336.8h0M579 343.9h0M583.7 343.5h0M582.4 342.3h0M579.1 345.9h0M579.9 342.9h0M576.6 345.8h0M579.3 348.5h0M585.9 346.8h0M580.4 339.1h0M582.5 342.7h0M578.6 347.7h0M583 344.5h0M582.6 342.4h0M580.3 344.4h0M575.9 345.4h0M579.2 345.5h0M583.1 347.9h0M580.9 341.9h0M582.6 344.4h0M579.8 343.7h0M576.1 343.6h0M583.7 338h0M581.8 344.3h0M580.6 339.9h0" stroke="#F37770" stroke-width="2.4" stroke-linecap="round" fill="none"/><path d="M576.4 355.2h0M578.9 339.9h0" stroke="#2DB56B" stroke-width="2.8" stroke-linecap="round" fill="none"/><path d="M560.3 363.4C561.9 363.6 566.2 365.5 568.9 367.1C571.5 368.7 573.3 372 576.2 373.2C579 374.4 582.7 373.8 586 374.4C589.2 375 592.5 376.3 595.7 376.9C599 377.5 602.6 377.1 605.5 378.1C608.3 379.1 611 381.6 612.8 383C614.7 384.3 616.5 385.1 616.5 386.2C616.5 387.2 614.7 388.2 612.8 389.1C611 390 607.9 390.5 605.5 391.5C603 392.5 600.2 394 598.2 395.2C596.1 396.4 594.3 397.6 593.3 398.9C592.3 400.1 591.6 401.1 592.1 402.5C592.5 403.9 593.9 406.4 595.7 407.4C597.6 408.4 600 408.5 603 408.6C606.1 408.7 611.6 408.3 614 408.1C616.5 407.9 618.1 406.9 617.7 407.4C617.3 407.9 611.8 409.6 611.6 411.1C611.4 412.5 615.9 414.3 616.5 416C617.1 417.6 616.7 419.6 615.3 420.8C613.8 422.1 610.8 422.9 607.9 423.3C605.1 423.7 601 423.3 598.2 423.3C595.3 423.3 592.9 422.5 590.8 423.3C588.8 424.1 588 426.7 586 428.2C583.9 429.6 581.5 430.6 578.6 431.8C575.8 433 572.1 434.6 568.9 435.5C565.6 436.4 561.9 437.6 559.1 437.4C556.2 437.2 553.4 435.8 551.8 434.3C550.1 432.7 550.5 430 549.3 428.2C548.1 426.3 546.1 425.3 544.4 423.3C542.8 421.2 541 418.8 539.5 416C538.1 413.1 536.5 408.8 535.9 406.2C535.3 403.5 534.9 401.5 535.9 400.1C536.9 398.6 540.6 399.1 542 397.6C543.4 396.2 544.2 393.8 544.4 391.5C544.6 389.3 542.8 386.6 543.2 384.2C543.6 381.8 545.4 378.7 546.9 376.9C548.3 375 550.1 374.2 551.8 373.2C553.4 372.2 555.4 372 556.6 370.8C557.9 369.5 558.5 367.1 559.1 365.9C559.7 364.7 558.7 363.2 560.3 363.4Z" fill="#C9992C" stroke="#C9992C" stroke-width="0.5" stroke-linejoin="round"/><path d="M563.6 365.7h0M564.6 366.3h0M563.3 363.7h0M561.1 365.2h0M568.7 368.6h0M563.9 364.1h0M568.4 367.1h0M572.9 370h0M575.4 372.6h0M574.7 372.4h0M575.5 373.6h0M572.2 372.2h0M580.1 373.8h0M581.7 374.9h0M580.8 372h0M584.2 374.8h0M577.5 373.8h0M576.6 373.3h0M586.9 372.7h0M590.9 376.5h0M593.8 376.9h0M588.4 375.9h0M587.6 374h0M593.2 375.3h0M592.9 375.8h0M604 377.5h0M598.2 377.4h0M598.8 377.6h0M603.9 377.9h0M601.9 378.6h0M605.5 376.6h0M609.2 381.4h0M607.1 379h0M609 381.5h0M612 382h0M613.9 380.4h0M609.7 381.7h0M618.6 385.3h0M616.2 384.5h0M615.8 384.4h0M616.4 385.2h0M616.4 387h0M615.1 386.9h0M612.3 389.5h0M605.8 390h0M610.3 389.7h0M608.2 391h0M609.9 389.2h0M602.4 392.4h0M601.6 394.2h0M598.5 395.1h0M598.3 393.8h0M604.3 392.6h0M596.1 396.8h0M598 395.5h0M597.4 395.2h0M597.5 395h0M592.1 401.8h0M593.7 398.7h0M594.5 405h0M595.9 405.4h0M593.7 406.4h0M592.1 402.6h0M597.1 408.8h0M602 409.4h0M595.4 408.1h0M599.3 408.3h0M599.1 407.5h0M603.3 407.4h0M604.3 407.2h0M609.9 407.4h0M612.3 409.4h0M610.9 408.5h0M606.7 408.4h0M604.6 408.2h0M616.5 408.1h0M614.8 407.8h0M611.3 411.1h0M615.2 407.2h0M614.6 409.9h0M615.6 408.8h0M613.9 414.3h0M613.4 414.7h0M614.1 414.3h0M616.4 415.9h0M614.7 419.1h0M616.8 416.2h0M615 418.5h0M613.6 422.8h0M613.3 421.3h0M613 420.6h0M610.7 423.3h0M609.1 424.5h0M606.5 422.3h0M599.1 422.4h0M606 423.6h0M601.4 422.5h0M601.2 423h0M600.5 424.6h0M593.2 423.2h0M591.7 423.3h0M594.4 423.5h0M597.2 424.1h0M594 424h0M587.9 426.7h0M589.1 423.2h0M588.8 423.6h0M586.3 426.7h0M585.1 429.5h0M581.2 430.4h0M581.6 429.3h0M585.5 427.7h0M583.5 429.9h0M570.3 437h0M578 432.8h0M569.4 435.4h0M572.8 433h0M569.6 433.4h0M574.8 433.1h0M571 434.9h0M558.3 437.1h0M558.7 436.3h0M559.8 438.8h0M563.2 436h0M567.5 436.8h0M567.1 435.5h0M557.1 436h0M555.4 436.3h0M554.4 436.9h0M555.3 435.4h0M551.6 434h0M550.9 433.8h0M551.1 434h0M551.8 434h0M550.7 429.7h0M545.9 424.4h0M546.4 426.3h0M545.7 423.6h0M549 425.9h0M540.5 415.1h0M540.7 417.5h0M542.1 422.2h0M543.3 420.3h0M540.8 416.8h0M544.3 422.6h0M535.9 407h0M536.7 410.9h0M536.4 408.8h0M540.4 414.9h0M539.4 414.7h0M539.8 413.8h0M538.7 414.8h0M535.4 406h0M536.1 406.3h0M534.8 404.2h0M534.8 405.2h0M535.4 399.6h0M535.8 399.6h0M539.7 399.1h0M540.6 398h0M545.1 392.7h0M545.2 391.5h0M544.1 391.9h0M543.4 393.3h0M544.6 388.8h0M543.5 384.3h0M542.3 383.2h0M544.1 391.7h0M544.9 388h0M546.5 380.3h0M545.9 380.7h0M545.3 378.1h0M545.9 378.1h0M544.3 383.1h0M552.2 372h0M551.8 374.3h0M548.5 374.3h0M552.5 374.9h0M554.2 370.9h0M550.8 374.1h0M556.2 369.2h0M558 368h0M556.9 370.8h0M558.1 367.8h0M560 364.4h0" stroke="#C9992C" stroke-width="2.2" stroke-linecap="round" fill="none"/><path d="M548.1 363.4h0M553 368.3h0M593.3 402.5h0M611.6 408.6h0M616.5 407.6h0" stroke="#C9992C" stroke-width="2.8" stroke-linecap="round" fill="none"/><path d="M561.4 407.7h0M565 407.3h0M556.9 407.6h0M565.5 408.6h0M561.4 415.6h0M565.3 405.2h0M562.2 405h0M564.4 412.1h0M566.3 403.5h0M560.3 408.4h0M562.1 414.3h0M561.4 409.9h0M562.5 407.9h0M557.1 407h0M561.4 406.2h0M561.2 407.5h0M559.6 410.4h0M561.3 414.8h0M557.3 413.7h0M566 407.6h0M563.2 406.9h0M567.5 412.6h0M559.3 402.7h0M558.4 408.1h0M562.7 408.5h0M557 405.4h0M562.6 405.9h0M559.8 411.2h0M560.9 403.3h0M562.7 406.2h0M562 407.2h0M567.4 410.1h0M563.8 404.4h0M558.1 414.1h0M564.8 408.6h0M557.9 408.8h0M562.2 408.3h0M558.2 407.1h0M559.4 405.9h0M565.8 414.3h0" stroke="#7CB343" stroke-width="2.4" stroke-linecap="round" fill="none"/><path d="M557.8 401.9h0M602 391.5h0M553 378.8h0M574.3 383.5h0M559.2 436.2h0M561.2 413.7h0M575.8 383.9h0M578.8 410.6h0M561.4 424.4h0M597.1 419.2h0M589.9 380.5h0M593.6 376.4h0M547.5 400.7h0M543.3 403.3h0M582.9 399.7h0M577.4 405.9h0M571.4 431h0M550.3 397h0M550.4 391h0M574.5 383.9h0M562.3 430.2h0M571.8 378.1h0M570.8 430.3h0M550.6 430.8h0M570.2 414.1h0M597.3 377.8h0M540.5 403.2h0M590.4 391.5h0M601.3 422.2h0M593.2 380.8h0M608.6 389h0M567.5 393.3h0M558.5 432.9h0M579.4 415.9h0M576.5 409.9h0M596.3 391.8h0M564.1 415h0M564.2 420.1h0M561.9 435.6h0M611.7 383h0" stroke="#7CB343" stroke-width="2.2" stroke-linecap="round" fill="none"/><path d="M601 391h0M546.2 410.2h0M560 419.9h0M557.7 386.6h0M589.5 392.5h0M555.3 428.5h0M563.5 401.2h0M598.9 420.3h0M548.1 385.9h0M557.8 414.1h0M545.4 402.6h0M586.1 426.7h0M579.3 379.8h0M570.3 408.4h0" stroke="#2DB56B" stroke-width="2.2" stroke-linecap="round" fill="none"/><path d="M579.3 421.4h0M580 391.8h0M578 401.9h0M582.8 416.2h0M570.9 418.7h0M577.1 390.8h0M555.7 422.5h0M611.3 417.4h0M553.9 415.7h0M577.2 431.9h0" stroke="#1FBDC5" stroke-width="2.2" stroke-linecap="round" fill="none"/><path d="M558.2 383.6h0M559.7 382.3h0M559.4 381.6h0M554.7 383.8h0M551.5 382h0M557.7 386h0M555.8 382.8h0M559 387.9h0M562.5 387.2h0M562.5 380.2h0M558.6 386.9h0M560.9 382.6h0M562.5 387.7h0M557.9 385.2h0M558.5 383.6h0M560.2 385.7h0" stroke="#A984C1" stroke-width="2.6" stroke-linecap="round" fill="none"/><path d="M557.9 361.7h0M553 368.3h0M579.8 373.2h0M549.3 393.5h0M565.2 372.5h0" stroke="#A984C1" stroke-width="2.8" stroke-linecap="round" fill="none"/><path d="M572.5 392.7h0M575.7 422.1h0M579.1 422.3h0" stroke="#F37770" stroke-width="2.6" stroke-linecap="round" fill="none"/><path d="M598.2 421.3h0" stroke="#E16DB3" stroke-width="2.4" stroke-linecap="round" fill="none"/><path d="M544.9 373.6h0M545.7 374.7h0M545.8 382h0M545.3 370.8h0M545.8 382h0M544.5 377h0M546 374.9h0M544.3 379.8h0M546 381.5h0M545.9 376.3h0M546.1 378h0M544.9 382.2h0M548.3 382h0M545.2 378.6h0M545.6 375.5h0M544.7 374.8h0M546.8 376.3h0M545 381.7h0M546.4 381.3h0M544.5 380.1h0M545.7 384.7h0M545.1 377.5h0M546.3 377.2h0M545.2 377.2h0M544.6 387h0M545.9 370.1h0" stroke="#2DB56B" stroke-width="2.6" stroke-linecap="round" fill="none"/><ellipse cx="671.3" cy="450.6" rx="8.2" ry="2.6" fill="#C9992C" transform="rotate(52 671.3 450.6)"/><path d="M673.3 452.1h0M672.5 453.2h0M673.3 451.5h0M675 456.6h0M675.1 453.3h0M674.4 452.7h0M671.2 450.3h0M674.5 451.8h0M671.9 451.3h0M672.1 452.4h0M673.9 451.4h0M671 451.7h0M673.9 452.7h0M674.3 455.2h0M673.7 453.9h0M673.2 452h0M670.2 448.1h0M675.5 452.7h0M674.6 453.4h0M672.9 451.1h0" stroke="#C9992C" stroke-width="2.4" stroke-linecap="round" fill="none"/><path d="M674 453.5h0" stroke="#7CB343" stroke-width="2.2" stroke-linecap="round" fill="none"/><path d="M718.8 333.1C719.9 333.8 721.3 336.1 722.9 338.6C724.5 341.2 726.6 345.1 728.5 348.3C730.3 351.5 732.2 354.5 734 358C735.8 361.5 738 365.6 739.5 369.1C741.1 372.5 742.7 376 743.1 378.8C743.6 381.5 743.6 384.1 742.3 385.7C741 387.3 738.4 387.8 735.4 388.5C732.4 389.2 728 389.6 724.3 389.9C720.6 390.1 716.5 390.1 713.2 389.9C710 389.6 707.5 389.4 704.9 388.5C702.4 387.5 699.8 386.2 698 384.3C696.2 382.5 694.6 379.9 694.4 377.4C694.2 374.8 695.3 372.1 696.6 369.1C697.9 366.1 700.3 362.8 702.2 359.4C704 355.9 705.8 351.8 707.7 348.3C709.5 344.8 711.8 340.9 713.2 338.6C714.6 336.3 715.1 335.4 716 334.5C716.9 333.5 717.6 332.4 718.8 333.1Z" fill="#1FBDC5" stroke="#1FBDC5" stroke-width="0.5" stroke-linejoin="round"/><path d="M720.9 334.1h0M719.4 333.4h0M721.2 335.2h0M718.9 332.5h0M723.6 339.5h0M727.1 346.1h0M723.9 341.9h0M725.5 343.3h0M723.9 340h0M728.6 346.9h0M728 346.6h0M731 352.5h0M730.8 352h0M729.9 351.3h0M732.3 355h0M733.9 356.1h0M728.1 349.1h0M729.4 350.1h0M737.7 364.2h0M736.1 362.9h0M740.5 368.8h0M733.8 358.8h0M736.1 361.4h0M738.4 366.4h0M736.8 366.6h0M736.1 360.5h0M739.7 374h0M741.1 375.8h0M740.5 370.7h0M742.5 375h0M742.1 375.3h0M742.3 374.6h0M744.1 378.7h0M743.1 378.8h0M742.9 380h0M743.3 381.4h0M741.9 384.2h0M742.3 385.4h0M736.8 388h0M738.4 387.5h0M741.8 386.6h0M740.7 385.9h0M723.8 390.7h0M730.5 389.9h0M730.5 389.2h0M725.5 389.2h0M735 388.2h0M734.6 388.7h0M734.9 388.3h0M716.1 389.6h0M720.2 389.8h0M718.6 390h0M714.7 389.4h0M714.3 390.2h0M716.3 390.3h0M715.2 389.8h0M706.3 388.6h0M713.2 388.9h0M709 388h0M713.5 389.6h0M705.8 387.4h0M702.7 386.6h0M703.9 388.6h0M701.3 385.3h0M702.9 388.7h0M704.6 388h0M696.8 384.5h0M694.9 378.5h0M696.3 378.4h0M696.6 379h0M696.2 382.4h0M695.8 370.6h0M695.4 369.7h0M695.9 369.9h0M695.9 372.5h0M696.3 372.1h0M696.7 369.5h0M699.7 363.3h0M699.2 364.1h0M696.2 369.5h0M697 367.1h0M698 367.3h0M698.7 366.8h0M700.1 361.4h0M705.8 350.6h0M704.9 351.5h0M705.6 350.5h0M704.5 354.6h0M703.8 354.8h0M707.5 350.5h0M701.8 359.9h0M704.9 351.9h0M711.8 339.7h0M708 346.8h0M711.9 341.5h0M711.1 339.7h0M711.8 345h0M707.5 348.3h0M711.2 339.1h0M715.5 336.7h0M716 335.5h0M715.1 338.2h0M717.8 333.4h0M717.2 335h0" stroke="#1FBDC5" stroke-width="2.2" stroke-linecap="round" fill="none"/><path d="M720.3 365.3h0M716.5 365.8h0M720.3 364.8h0M720 366.8h0M718 365.6h0M714.3 368h0M720.6 367.6h0M720.3 364.9h0M719.7 369.6h0M715.7 364.3h0M716.1 367.1h0M720.6 368.3h0M720.2 368.6h0M719.7 362.4h0M718.3 368.1h0M719.5 368.5h0" stroke="#7CB343" stroke-width="2.6" stroke-linecap="round" fill="none"/><path d="M726.9 372.6h0M720.3 375.3h0M723.1 371.7h0M724.1 370.5h0M723.5 370.3h0M726.7 375.4h0M723.1 371.8h0M726.5 373h0M725.3 374h0M721.7 373.8h0M722.5 370.2h0M723.5 373.6h0M724.5 373.4h0M726.1 372.7h0M724 373.7h0M725.9 370.8h0M721.5 371.7h0M718.8 370.9h0M723.7 373.2h0M725.1 370.7h0M723.7 372.6h0M722.5 369.9h0" stroke="#7CB343" stroke-width="2.6" stroke-linecap="round" fill="none"/><path d="M726.9 378.1h0M726.4 379h0M726.9 378.1h0M727.3 377.1h0M726.7 373.8h0M726.7 378.3h0M723.4 378.1h0M729.1 377.5h0M726 377.5h0M726.6 376.1h0M725.6 375.1h0M728.9 378h0M725.5 378.3h0M728 374.1h0" stroke="#7CB343" stroke-width="2.6" stroke-linecap="round" fill="none"/><path d="M721.8 351.3h0M720.6 347.2h0M721.8 351.2h0M720.7 349.8h0M722.2 347.7h0M722 351h0" stroke="#7CB343" stroke-width="2.6" stroke-linecap="round" fill="none"/><path d="M710.8 352.8h0M714.9 351.9h0M716.3 352.3h0M712.4 348.7h0" stroke="#7CB343" stroke-width="2.6" stroke-linecap="round" fill="none"/><path d="M701.9 371.7h0M701 373h0M702.1 370.8h0M700.8 372.3h0M702.8 370.9h0M701.3 371.4h0" stroke="#7CB343" stroke-width="2.6" stroke-linecap="round" fill="none"/><path d="M698.5 378.2h0M700.8 375.5h0M701.6 378.1h0M699.3 379.8h0M700.9 376.6h0" stroke="#7CB343" stroke-width="2.6" stroke-linecap="round" fill="none"/><path d="M729.5 382.9h0M733 383h0M731.5 381.9h0M736 383.4h0" stroke="#7CB343" stroke-width="2.6" stroke-linecap="round" fill="none"/><path d="M735.8 376.6h0M735.2 380.3h0M736.7 375.9h0" stroke="#7CB343" stroke-width="2.6" stroke-linecap="round" fill="none"/><path d="M715.4 360.6h0M714.3 365.4h0M713.1 363.4h0M718.5 362.1h0M711.8 363h0M718.1 361.3h0M713 363.3h0M715.7 365.7h0M719.5 362.4h0M711.8 363.3h0" stroke="#7CB343" stroke-width="2.6" stroke-linecap="round" fill="none"/><path d="M717.4 333.6h0M699.9 358.8h0M726.5 369.1h0" stroke="#E16DB3" stroke-width="2.8" stroke-linecap="round" fill="none"/><path d="M712.7 339.2h0" stroke="#1FBDC5" stroke-width="2.6" stroke-linecap="round" fill="none"/><path d="M709.1 380.2h0M710.5 381.3h0M707.7 381h0" stroke="#fff" stroke-width="2.2" stroke-linecap="round" fill="none"/><path d="M700.8 383.8h0M701.6 369.1h0" stroke="#C9992C" stroke-width="2.2" stroke-linecap="round" fill="none"/><text x="526.2" y="108.4" font-size="10.4" fill="#2DB56B" >Fibroblast</text><text x="606.4" y="186.9" font-size="10.4" fill="#F37770" >Adipocyte</text><text x="574.7" y="258.3" font-size="10.4" fill="#E16DB3" >T cell</text><text x="724.1" y="270.6" font-size="10.4" fill="#7CB343" >Epithelial cells</text><text x="501.6" y="293.3" font-size="10.4" fill="#A984C1" >Pericytes</text><text x="588.8" y="321" font-size="10.4" fill="#429FE0" >NK cells</text><text x="712.5" y="401.8" font-size="10.4" fill="#1FBDC5" >Monocytes</text><text x="551.6" y="447.7" font-size="10.4" fill="#C9992C" >Endothelial cells</text><path d="M481.2 382.2V485.8H585.1" stroke="#000" stroke-width="1.7" fill="none"/><text x="487.3" y="508.9" font-size="23.2" fill="#000" textLength="97.6" lengthAdjust="spacingAndGlyphs" >UMAP_1</text><text transform="translate(468.7 479.9) rotate(-90)" font-size="23.2" fill="#000" textLength="98.2" lengthAdjust="spacingAndGlyphs">UMAP_2</text><path d="M1079 258.9V66H1081.71V66H1084.43V66H1087.14V66H1089.86V66H1092.57V66H1095.29V66H1098.00V66H1100.71V66H1103.43V66H1106.14V66H1108.86V66H1111.57V66H1114.29V66H1117.00V66H1119.71V66H1122.43V66H1125.14V66H1127.86V66H1130.57V66H1133.29V66H1136.00V66H1138.71V66H1141.43V66H1144.14V66H1146.86V66H1149.57V66H1152.29V66H1155.00V66H1157.71V66H1160.43V66H1163.14V66H1165.86V66H1168.57V66H1171.29V66H1174.00V66H1176.71V66H1179.43V66H1182.14V66H1184.86V66H1187.57V66H1190.29V66H1193.00V66H1195.71V66H1198.43V66H1201.14V66H1203.86V66H1206.57V66H1209.29V66H1212.00V66H1214.71V66H1217.43V66H1220.14V66H1222.86V66H1225.57V66H1228.29V66H1231.00V66H1233.71V66H1236.43V66H1239.14V66H1241.86V66H1244.57V66H1247.29V66H1250.00V66H1252.71V66H1255.43V66H1258.14V66H1260.86V66H1263.57V66H1266.29V66H1269.00V66H1271.71V66H1274.43V66H1277.14V66H1279.86V66H1282.57V66H1285.29V66H1288.00V66H1290.71V66H1293.43V66H1296.14V66H1298.86V66H1301.57V66H1304.29V66H1307.00V66H1309.71V66H1312.43V66H1315.14V66H1317.86V66H1320.57V66H1323.29V66H1326.00V66H1328.71V66H1331.43V66H1334.14V66H1336.86V66H1339.57V66H1342.29V66H1345.00V66H1347.71V66H1350.43V66H1353.14V66H1355.86V66H1358.57V66H1361.29V66H1364.00V66H1366.71V66H1369.43V66H1372.14V66H1374.86V66H1377.57V66H1380.29V66H1383.00V66H1385.71V66H1388.43V66H1391.14V66H1393.86V66H1396.57V66H1399.29V66H1402.00V66H1404.71V66H1407.43V66H1410.14V66H1412.86V66H1415.57V66H1418.29V66H1421.00V258.9Z" fill="#F8766D"/><path d="M1079 258.9V68.9H1081.71V68.3H1084.43V69.6H1087.14V67.9H1089.86V69.8H1092.57V74.1H1095.29V69.6H1098.00V69.3H1100.71V67.9H1103.43V68.9H1106.14V67.9H1108.86V67.9H1111.57V67.9H1114.29V68.4H1117.00V70.4H1119.71V68.1H1122.43V69.3H1125.14V70.5H1127.86V69.2H1130.57V68H1133.29V69.8H1136.00V69H1138.71V69.9H1141.43V67.9H1144.14V70.4H1146.86V68.7H1149.57V72.6H1152.29V70.7H1155.00V72H1157.71V69.5H1160.43V69.6H1163.14V69.4H1165.86V70.3H1168.57V68H1171.29V68H1174.00V71.8H1176.71V68.8H1179.43V72.2H1182.14V71H1184.86V67.9H1187.57V71.7H1190.29V70.2H1193.00V68.9H1195.71V69.8H1198.43V70.3H1201.14V68.4H1203.86V73.5H1206.57V70.4H1209.29V71.7H1212.00V68.2H1214.71V71.6H1217.43V67.9H1220.14V71.1H1222.86V67.9H1225.57V69H1228.29V69.8H1231.00V69.5H1233.71V68.5H1236.43V67.9H1239.14V67.9H1241.86V69.8H1244.57V71.9H1247.29V73.5H1250.00V70.7H1252.71V67.9H1255.43V69.8H1258.14V70.6H1260.86V70.5H1263.57V70.6H1266.29V70.9H1269.00V68.6H1271.71V72.8H1274.43V68.1H1277.14V73.3H1279.86V69.8H1282.57V71.4H1285.29V71.4H1288.00V70.9H1290.71V71.6H1293.43V68.6H1296.14V71.9H1298.86V67.9H1301.57V67.9H1304.29V70.2H1307.00V71.2H1309.71V71.1H1312.43V72.7H1315.14V70.1H1317.86V69.3H1320.57V72.8H1323.29V69.2H1326.00V72.3H1328.71V68.6H1331.43V69.3H1334.14V69.4H1336.86V68.8H1339.57V70.4H1342.29V67.9H1345.00V69.1H1347.71V69.2H1350.43V68.9H1353.14V68.4H1355.86V72H1358.57V68.3H1361.29V71.6H1364.00V70.7H1366.71V69.6H1369.43V68.5H1372.14V67.9H1374.86V73.3H1377.57V68.6H1380.29V67.9H1383.00V67.9H1385.71V70.2H1388.43V69.7H1391.14V68.7H1393.86V68H1396.57V68.2H1399.29V70.4H1402.00V68.6H1404.71V68.9H1407.43V71.2H1410.14V70.5H1412.86V69.5H1415.57V68.9H1418.29V69.1H1421.00V258.9Z" fill="#D79D2F"/><path d="M1079 258.9V73H1081.71V70.3H1084.43V71H1087.14V69.9H1089.86V71.4H1092.57V76.3H1095.29V71.9H1098.00V70.9H1100.71V69.5H1103.43V70.4H1106.14V67.7H1108.86V69.3H1111.57V69.5H1114.29V70.1H1117.00V73.7H1119.71V70.3H1122.43V70.7H1125.14V72.4H1127.86V70.7H1130.57V71H1133.29V72.4H1136.00V71.9H1138.71V72.1H1141.43V71.3H1144.14V72.4H1146.86V70.7H1149.57V74.7H1152.29V72.2H1155.00V74.4H1157.71V72.5H1160.43V71H1163.14V71.8H1165.86V72H1168.57V71.7H1171.29V69.4H1174.00V73.5H1176.71V70.5H1179.43V74.2H1182.14V72.6H1184.86V71.6H1187.57V73.2H1190.29V71.6H1193.00V70.8H1195.71V73.8H1198.43V72.1H1201.14V72.5H1203.86V75H1206.57V72.3H1209.29V73.2H1212.00V69.9H1214.71V73.4H1217.43V69.4H1220.14V72.9H1222.86V69.1H1225.57V71.2H1228.29V71.4H1231.00V70.8H1233.71V70.7H1236.43V70H1239.14V69.5H1241.86V72.7H1244.57V74.1H1247.29V76.3H1250.00V72.8H1252.71V71H1255.43V71.7H1258.14V72.1H1260.86V72.9H1263.57V73.3H1266.29V72.8H1269.00V71.8H1271.71V75.2H1274.43V71.3H1277.14V74.7H1279.86V71.4H1282.57V73.5H1285.29V73.2H1288.00V74.2H1290.71V74.4H1293.43V73H1296.14V74.4H1298.86V69H1301.57V73.4H1304.29V73.8H1307.00V73.7H1309.71V74.5H1312.43V76.7H1315.14V73.3H1317.86V72.5H1320.57V75.3H1323.29V73H1326.00V74.9H1328.71V73.1H1331.43V72.6H1334.14V72.4H1336.86V72.5H1339.57V74.3H1342.29V71.9H1345.00V74H1347.71V72.8H1350.43V72.2H1353.14V73.9H1355.86V75.5H1358.57V72.6H1361.29V75.4H1364.00V75.1H1366.71V75.5H1369.43V72.6H1372.14V74.2H1374.86V77.5H1377.57V73H1380.29V71H1383.00V71.5H1385.71V75.2H1388.43V74.3H1391.14V73.7H1393.86V73.2H1396.57V74.6H1399.29V76.4H1402.00V73.6H1404.71V73.9H1407.43V77H1410.14V75.6H1412.86V74.7H1415.57V75.2H1418.29V74.4H1421.00V258.9Z" fill="#7CB343"/><path d="M1079 258.9V78.2H1081.71V71.4H1084.43V78.8H1087.14V77.7H1089.86V80.1H1092.57V78.9H1095.29V76.7H1098.00V76.6H1100.71V77.7H1103.43V77.1H1106.14V78.1H1108.86V83.8H1111.57V80.9H1114.29V71.7H1117.00V76H1119.71V78.6H1122.43V76.7H1125.14V79.9H1127.86V74.7H1130.57V76.9H1133.29V79.6H1136.00V76.2H1138.71V78.3H1141.43V76.6H1144.14V77.9H1146.86V71.9H1149.57V81.8H1152.29V73.3H1155.00V76.9H1157.71V74.8H1160.43V79.1H1163.14V73.9H1165.86V80.6H1168.57V82.5H1171.29V75.1H1174.00V74.6H1176.71V74.8H1179.43V80.5H1182.14V82.5H1184.86V82.4H1187.57V80H1190.29V77.7H1193.00V77.9H1195.71V80.7H1198.43V78.9H1201.14V79.4H1203.86V79.3H1206.57V79.6H1209.29V80.2H1212.00V77.9H1214.71V79.3H1217.43V79H1220.14V81.7H1222.86V78.6H1225.57V80.1H1228.29V85.9H1231.00V78.5H1233.71V80.7H1236.43V77.2H1239.14V80.4H1241.86V80.3H1244.57V79.4H1247.29V80.1H1250.00V81.4H1252.71V85.4H1255.43V74.9H1258.14V82.6H1260.86V81.4H1263.57V78.6H1266.29V79.5H1269.00V79H1271.71V78.5H1274.43V77.1H1277.14V80H1279.86V72.5H1282.57V83.9H1285.29V80.4H1288.00V82.2H1290.71V82.8H1293.43V80.5H1296.14V77.1H1298.86V82.9H1301.57V83.6H1304.29V79.5H1307.00V137.4H1309.71V76.1H1312.43V78.8H1315.14V81.2H1317.86V82.9H1320.57V81.4H1323.29V82.6H1326.00V86.1H1328.71V82.2H1331.43V82.8H1334.14V83.1H1336.86V83.7H1339.57V77.7H1342.29V80.7H1345.00V80.1H1347.71V84.6H1350.43V85.9H1353.14V83.9H1355.86V82.4H1358.57V84.2H1361.29V83.9H1364.00V80.6H1366.71V82.6H1369.43V86.4H1372.14V84.9H1374.86V85.7H1377.57V83.3H1380.29V87.3H1383.00V84.6H1385.71V82.1H1388.43V84.2H1391.14V87H1393.86V86.2H1396.57V84.1H1399.29V83.2H1402.00V82.3H1404.71V85.2H1407.43V88.7H1410.14V80.8H1412.86V84.2H1415.57V84H1418.29V84.4H1421.00V258.9Z" fill="#2DB56C"/><path d="M1079 258.9V83.4H1081.71V74.2H1084.43V85.1H1087.14V81.6H1089.86V81.6H1092.57V80.4H1095.29V81.1H1098.00V81.3H1100.71V79.2H1103.43V88.9H1106.14V83.1H1108.86V88H1111.57V82.4H1114.29V82.4H1117.00V87.2H1119.71V83.8H1122.43V78.2H1125.14V81.5H1127.86V82.6H1130.57V78.4H1133.29V87.6H1136.00V89.7H1138.71V85.6H1141.43V85.2H1144.14V79.5H1146.86V76H1149.57V89.5H1152.29V74.9H1155.00V78.5H1157.71V81.4H1160.43V83.3H1163.14V75.4H1165.86V84.5H1168.57V86.7H1171.29V84.4H1174.00V90.3H1176.71V83.3H1179.43V85.6H1182.14V84H1184.86V84H1187.57V89.5H1190.29V80.4H1193.00V89.5H1195.71V82.2H1198.43V91.9H1201.14V84.4H1203.86V89.1H1206.57V85.8H1209.29V88.6H1212.00V94.6H1214.71V90.5H1217.43V86H1220.14V83.9H1222.86V92.1H1225.57V94.7H1228.29V90H1231.00V87.5H1233.71V89.2H1236.43V89.9H1239.14V83.6H1241.86V83.2H1244.57V84.2H1247.29V90.7H1250.00V86.9H1252.71V88.1H1255.43V93H1258.14V84.2H1260.86V87.4H1263.57V89.7H1266.29V82.5H1269.00V85.1H1271.71V84.9H1274.43V83.7H1277.14V85.7H1279.86V93.5H1282.57V90.2H1285.29V84.9H1288.00V91.9H1290.71V88.9H1293.43V87.6H1296.14V83.7H1298.86V84.4H1301.57V86.1H1304.29V90.4H1307.00V139.3H1309.71V87.9H1312.43V90.7H1315.14V84.9H1317.86V88.4H1320.57V93.3H1323.29V85.7H1326.00V91.6H1328.71V88.5H1331.43V96.8H1334.14V91.1H1336.86V95.1H1339.57V95.6H1342.29V99.6H1345.00V84.4H1347.71V93.7H1350.43V92.6H1353.14V89.6H1355.86V94.8H1358.57V92.7H1361.29V100.4H1364.00V94.8H1366.71V97.5H1369.43V94.4H1372.14V96.1H1374.86V102.5H1377.57V104.7H1380.29V101.9H1383.00V95.5H1385.71V97.2H1388.43V98.6H1391.14V109.1H1393.86V112.9H1396.57V106.2H1399.29V106.3H1402.00V108.6H1404.71V104.9H1407.43V106.6H1410.14V110.2H1412.86V108.7H1415.57V104.5H1418.29V104.4H1421.00V258.9Z" fill="#1FBDC3"/><path d="M1079 258.9V93.3H1081.71V87.2H1084.43V88.9H1087.14V93.5H1089.86V94.8H1092.57V92.9H1095.29V87H1098.00V90.7H1100.71V90.4H1103.43V93H1106.14V92.8H1108.86V91H1111.57V97.4H1114.29V85.3H1117.00V95.7H1119.71V94.9H1122.43V87H1125.14V91.8H1127.86V92.8H1130.57V95.6H1133.29V99.9H1136.00V92.6H1138.71V88.5H1141.43V97.5H1144.14V88.1H1146.86V98.8H1149.57V97.3H1152.29V92.2H1155.00V94.5H1157.71V91.7H1160.43V97.9H1163.14V99.3H1165.86V98.2H1168.57V100.8H1171.29V100.6H1174.00V102.5H1176.71V95.5H1179.43V100H1182.14V104.9H1184.86V87.3H1187.57V101.8H1190.29V103.9H1193.00V93.7H1195.71V94.4H1198.43V104.6H1201.14V106.3H1203.86V104.7H1206.57V96H1209.29V102.5H1212.00V105H1214.71V102H1217.43V97.2H1220.14V108.5H1222.86V104.6H1225.57V109.3H1228.29V94.5H1231.00V96.4H1233.71V100.5H1236.43V105.4H1239.14V102.4H1241.86V114.5H1244.57V104.8H1247.29V112H1250.00V112.4H1252.71V110.2H1255.43V109.2H1258.14V105.7H1260.86V105.7H1263.57V108H1266.29V113.6H1269.00V107.2H1271.71V111.1H1274.43V106H1277.14V115.4H1279.86V123.7H1282.57V114.5H1285.29V103.8H1288.00V111.5H1290.71V114.7H1293.43V110.7H1296.14V112.7H1298.86V113.4H1301.57V118H1304.29V116.1H1307.00V143.2H1309.71V120.5H1312.43V123.2H1315.14V118.5H1317.86V109.5H1320.57V113.6H1323.29V115.9H1326.00V116.5H1328.71V95.1H1331.43V120.4H1334.14V112.8H1336.86V104.2H1339.57V125.5H1342.29V124.3H1345.00V117.1H1347.71V111.3H1350.43V127H1353.14V127.5H1355.86V131.5H1358.57V146.3H1361.29V122.7H1364.00V138.3H1366.71V155H1369.43V139.6H1372.14V158.1H1374.86V152.2H1377.57V143H1380.29V154.7H1383.00V135.3H1385.71V163.9H1388.43V147.3H1391.14V145.9H1393.86V138H1396.57V144.6H1399.29V151.2H1402.00V152H1404.71V152.7H1407.43V139.3H1410.14V156H1412.86V137.4H1415.57V137.8H1418.29V128.1H1421.00V258.9Z" fill="#49A0DD"/><path d="M1079 258.9V98.4H1081.71V101.2H1084.43V123.6H1087.14V111H1089.86V100.1H1092.57V104.1H1095.29V96.3H1098.00V102.6H1100.71V100.7H1103.43V112.8H1106.14V99.3H1108.86V104.3H1111.57V101.3H1114.29V101.9H1117.00V100.3H1119.71V100.7H1122.43V134.2H1125.14V117.9H1127.86V134.9H1130.57V101.4H1133.29V108H1136.00V104.4H1138.71V103.2H1141.43V105.3H1144.14V98.2H1146.86V106.1H1149.57V109.1H1152.29V123.3H1155.00V110.3H1157.71V111.3H1160.43V125.9H1163.14V111.6H1165.86V102.1H1168.57V109.9H1171.29V113.9H1174.00V122H1176.71V125.3H1179.43V115.9H1182.14V108.7H1184.86V111.2H1187.57V115.2H1190.29V110.2H1193.00V116.9H1195.71V138H1198.43V111.1H1201.14V124.5H1203.86V121H1206.57V118.4H1209.29V119H1212.00V118.1H1214.71V144.7H1217.43V122.6H1220.14V118.3H1222.86V122.1H1225.57V161.3H1228.29V119.5H1231.00V125.6H1233.71V146.4H1236.43V122.5H1239.14V120.5H1241.86V125.5H1244.57V139.1H1247.29V124.3H1250.00V138.4H1252.71V122.6H1255.43V121.9H1258.14V132.4H1260.86V139.6H1263.57V147.5H1266.29V139.2H1269.00V138.8H1271.71V126.8H1274.43V130.2H1277.14V136.9H1279.86V132.4H1282.57V133.6H1285.29V144.3H1288.00V140.4H1290.71V176.3H1293.43V139H1296.14V148.6H1298.86V137.1H1301.57V139.2H1304.29V134.9H1307.00V162.4H1309.71V153.6H1312.43V141.1H1315.14V152.3H1317.86V146.4H1320.57V145H1323.29V147.1H1326.00V149.6H1328.71V150.1H1331.43V151.2H1334.14V163.4H1336.86V155.9H1339.57V168.6H1342.29V156.9H1345.00V167.6H1347.71V174.8H1350.43V154.4H1353.14V158.9H1355.86V204.1H1358.57V160.4H1361.29V168.3H1364.00V191.7H1366.71V167.7H1369.43V167.3H1372.14V169.8H1374.86V206.4H1377.57V178.2H1380.29V247.2H1383.00V185.3H1385.71V187.5H1388.43V188.9H1391.14V206H1393.86V219.8H1396.57V199.4H1399.29V203.3H1402.00V207.9H1404.71V206.8H1407.43V255.3H1410.14V233H1412.86V219.2H1415.57V207.9H1418.29V232H1421.00V258.9Z" fill="#A782BD"/><path d="M1079 258.9V124.5H1081.71V125.1H1084.43V126.6H1087.14V129H1089.86V130.2H1092.57V131.8H1095.29V132.5H1098.00V134.2H1100.71V135.1H1103.43V138H1106.14V137.4H1108.86V139.8H1111.57V140.7H1114.29V142.5H1117.00V144.1H1119.71V144.9H1122.43V146.1H1125.14V148.1H1127.86V149.4H1130.57V150.3H1133.29V152.6H1136.00V154.3H1138.71V154.5H1141.43V156.5H1144.14V158.4H1146.86V158.3H1149.57V158.5H1152.29V159.4H1155.00V160H1157.71V159.6H1160.43V159.5H1163.14V160.7H1165.86V161.4H1168.57V161.2H1171.29V161.5H1174.00V162.5H1176.71V162.5H1179.43V162.6H1182.14V163.8H1184.86V164.6H1187.57V164.4H1190.29V165.1H1193.00V165.4H1195.71V167.5H1198.43V167.9H1201.14V168.8H1203.86V170H1206.57V169.7H1209.29V170.2H1212.00V171.7H1214.71V171.2H1217.43V172.3H1220.14V173.2H1222.86V174.1H1225.57V174.5H1228.29V176.4H1231.00V175.8H1233.71V176.3H1236.43V178.2H1239.14V177.5H1241.86V178.3H1244.57V178.3H1247.29V179.5H1250.00V179.8H1252.71V180.1H1255.43V181.3H1258.14V181H1260.86V181.9H1263.57V182.1H1266.29V183.4H1269.00V183.1H1271.71V184.1H1274.43V185.3H1277.14V185.5H1279.86V185.8H1282.57V186.3H1285.29V189.3H1288.00V189H1290.71V190.3H1293.43V191.7H1296.14V193.3H1298.86V193.1H1301.57V195.9H1304.29V197H1307.00V198.8H1309.71V202.7H1312.43V204.2H1315.14V207H1317.86V208.3H1320.57V209.3H1323.29V210.1H1326.00V213.4H1328.71V213.8H1331.43V214.1H1334.14V214.7H1336.86V216.4H1339.57V218.1H1342.29V218.3H1345.00V219.3H1347.71V220.2H1350.43V221.3H1353.14V221.4H1355.86V222.3H1358.57V224.4H1361.29V227.2H1364.00V230.6H1366.71V232.8H1369.43V235.1H1372.14V240H1374.86V244.7H1377.57V246.2H1380.29V249.2H1383.00V250.8H1385.71V254.4H1388.43V256.1H1391.14V256.8H1393.86V255.4H1396.57V254.8H1399.29V256.9H1402.00V256.9H1404.71V256.3H1407.43V257.3H1410.14V257.1H1412.86V257.2H1415.57V257.1H1418.29V256.7H1421.00V258.9Z" fill="#E56BAB"/><path d="M1081.71 66V258.9M1084.43 66V258.9M1087.14 66V258.9M1089.86 66V258.9M1092.57 66V258.9M1095.29 66V258.9M1098.00 66V258.9M1100.71 66V258.9M1103.43 66V258.9M1106.14 66V258.9M1108.86 66V258.9M1111.57 66V258.9M1114.29 66V258.9M1117.00 66V258.9M1119.71 66V258.9M1122.43 66V258.9M1125.14 66V258.9M1127.86 66V258.9M1130.57 66V258.9M1133.29 66V258.9M1136.00 66V258.9M1138.71 66V258.9M1141.43 66V258.9M1144.14 66V258.9M1146.86 66V258.9M1149.57 66V258.9M1152.29 66V258.9M1155.00 66V258.9M1157.71 66V258.9M1160.43 66V258.9M1163.14 66V258.9M1165.86 66V258.9M1168.57 66V258.9M1171.29 66V258.9M1174.00 66V258.9M1176.71 66V258.9M1179.43 66V258.9M1182.14 66V258.9M1184.86 66V258.9M1187.57 66V258.9M1190.29 66V258.9M1193.00 66V258.9M1195.71 66V258.9M1198.43 66V258.9M1201.14 66V258.9M1203.86 66V258.9M1206.57 66V258.9M1209.29 66V258.9M1212.00 66V258.9M1214.71 66V258.9M1217.43 66V258.9M1220.14 66V258.9M1222.86 66V258.9M1225.57 66V258.9M1228.29 66V258.9M1231.00 66V258.9M1233.71 66V258.9M1236.43 66V258.9M1239.14 66V258.9M1241.86 66V258.9M1244.57 66V258.9M1247.29 66V258.9M1250.00 66V258.9M1252.71 66V258.9M1255.43 66V258.9M1258.14 66V258.9M1260.86 66V258.9M1263.57 66V258.9M1266.29 66V258.9M1269.00 66V258.9M1271.71 66V258.9M1274.43 66V258.9M1277.14 66V258.9M1279.86 66V258.9M1282.57 66V258.9M1285.29 66V258.9M1288.00 66V258.9M1290.71 66V258.9M1293.43 66V258.9M1296.14 66V258.9M1298.86 66V258.9M1301.57 66V258.9M1304.29 66V258.9M1307.00 66V258.9M1309.71 66V258.9M1312.43 66V258.9M1315.14 66V258.9M1317.86 66V258.9M1320.57 66V258.9M1323.29 66V258.9M1326.00 66V258.9M1328.71 66V258.9M1331.43 66V258.9M1334.14 66V258.9M1336.86 66V258.9M1339.57 66V258.9M1342.29 66V258.9M1345.00 66V258.9M1347.71 66V258.9M1350.43 66V258.9M1353.14 66V258.9M1355.86 66V258.9M1358.57 66V258.9M1361.29 66V258.9M1364.00 66V258.9M1366.71 66V258.9M1369.43 66V258.9M1372.14 66V258.9M1374.86 66V258.9M1377.57 66V258.9M1380.29 66V258.9M1383.00 66V258.9M1385.71 66V258.9M1388.43 66V258.9M1391.14 66V258.9M1393.86 66V258.9M1396.57 66V258.9M1399.29 66V258.9M1402.00 66V258.9M1404.71 66V258.9M1407.43 66V258.9M1410.14 66V258.9M1412.86 66V258.9M1415.57 66V258.9M1418.29 66V258.9" stroke="#fff" stroke-width="0.4" stroke-opacity="0.5" fill="none"/><path d="M1076.9 56.1V268.5" stroke="#000" stroke-width="4.1" fill="none"/><path d="M1076.5 268.65H1421" stroke="#000" stroke-width="4.0" fill="none"/><text x="1074.8" y="68" font-size="10.2" fill="#3a3a3a" stroke="#3a3a3a" stroke-width="0.15" text-anchor="end">1.00</text><text x="1074.8" y="116.2" font-size="10.2" fill="#3a3a3a" stroke="#3a3a3a" stroke-width="0.15" text-anchor="end">0.75</text><text x="1074.8" y="164.4" font-size="10.2" fill="#3a3a3a" stroke="#3a3a3a" stroke-width="0.15" text-anchor="end">0.50</text><text x="1074.8" y="212.7" font-size="10.2" fill="#3a3a3a" stroke="#3a3a3a" stroke-width="0.15" text-anchor="end">0.25</text><text x="1074.8" y="260.9" font-size="10.2" fill="#3a3a3a" stroke="#3a3a3a" stroke-width="0.15" text-anchor="end">0.00</text><path d="M1609.9 385C1611.4 380.6 1618.2 370.7 1622.5 365.9C1626.9 361 1631.5 358.9 1636 355.7C1640.5 352.6 1646.1 349.6 1649.5 346.8C1652.8 343.9 1653.2 341.1 1656.2 338.9C1659.2 336.6 1663 335.5 1667.5 333.3C1671.9 331 1679.1 327.8 1683.2 325.4C1687.3 323 1689.5 319 1692.2 318.7C1694.8 318.3 1697 320.9 1698.9 323.2C1700.8 325.4 1701.9 328.8 1703.4 332.1C1704.9 335.5 1706.5 338.9 1707.9 343.4C1709.3 347.9 1711.9 354.6 1711.9 359.1C1711.9 363.6 1709.3 367.2 1707.9 370.3C1706.5 373.5 1705.7 376.3 1703.4 378.2C1701.2 380.2 1697.8 380.7 1694.4 382C1691 383.3 1686.9 384.7 1683.2 386.1C1679.4 387.5 1675.3 389.3 1671.9 390.6C1668.6 391.9 1666.3 392.8 1663 393.9C1659.6 395.1 1655.1 396.6 1651.7 397.3C1648.4 398.1 1645.7 398 1642.7 398.4C1639.7 398.9 1636.6 399.4 1633.7 400C1630.9 400.6 1627.9 402.1 1625.4 401.8C1623 401.5 1621.1 400 1619.1 398.4C1617.2 396.8 1615.1 394.4 1613.5 392.1C1612 389.9 1608.4 389.3 1609.9 385Z" fill="#BDBDBD"/><path d="M1707 361.7h0M1683.2 374.7h0M1648.9 362.1h0M1712.1 358.7h0M1668.8 376.5h0M1692.4 382.2h0M1635 370.8h0M1657 350.1h0M1651 375.1h0M1646.2 371.1h0M1674.7 351.5h0M1676.6 373.6h0M1687.5 330.3h0M1677.3 352.5h0M1701.9 370.3h0M1688.9 320.4h0M1652.4 374.8h0M1620.7 372h0M1708.3 343h0M1649.5 398.7h0M1692.9 349.6h0M1678.1 360.6h0M1641.3 357.8h0M1683 340.8h0M1705.1 369.4h0M1672.2 352.7h0M1686.9 367h0M1670.9 340.2h0M1661.7 355h0M1653.9 360.1h0M1638.2 365.7h0M1620.5 401h0M1638.6 399.5h0M1648.8 348.5h0M1703.6 363.3h0M1700.9 351.5h0M1648.8 364h0M1695.2 343.2h0M1686.3 348.8h0M1698.6 377.3h0M1640.2 361h0M1615.9 374.5h0M1678.8 374h0M1628.8 385.6h0M1618.5 383.8h0M1677.8 329.5h0M1647.5 349.3h0M1655.8 375.2h0M1698.1 348.3h0M1610.3 383.5h0M1652.1 351.7h0M1671.2 384.9h0M1655.4 393.7h0M1700.2 345.3h0M1674.8 340.7h0M1665 354.1h0M1684.7 333.3h0M1641.7 389.3h0M1698.2 380.5h0M1700.4 332.7h0M1705 363.3h0M1713.3 360.2h0M1620.6 369.2h0M1669.7 332.8h0M1679 377h0M1697.8 345.9h0M1640.1 392.6h0M1674.3 367.2h0M1648.6 353.1h0M1640.7 384.7h0M1656.7 395.9h0M1645 392.7h0M1645.4 388.2h0M1681.7 338.4h0M1655.2 377h0M1638.3 400h0M1607.9 385.1h0M1617 397.1h0M1648 398.4h0M1617.6 370h0M1663.6 395.2h0M1704.6 329.6h0M1675.2 386.9h0M1690.3 365.7h0M1662 366.1h0M1651.3 365.5h0M1703.3 346.3h0M1654.3 354.3h0M1700.5 337.2h0M1654.1 382h0M1649 391.3h0M1654.1 347.7h0M1643.2 388.9h0M1706.1 330.9h0M1703.9 329.8h0M1635.9 385.5h0M1621.9 400.9h0M1665.1 363.1h0M1670.1 364.5h0M1669.6 375.8h0M1704.4 343.4h0M1671.7 343.2h0M1649.3 348.2h0M1673.3 357.8h0M1681.3 347.4h0M1621.6 372.1h0M1649.7 393.1h0M1632.3 361.7h0M1628.5 398.8h0M1642.9 358.3h0M1709.2 363.2h0M1640.9 375.3h0M1618 399.3h0M1626.8 401.8h0M1612.7 390.5h0M1700.9 333h0M1666.2 392.6h0M1647.4 360.6h0M1632.9 356.9h0M1640.3 388.5h0M1704.3 330.7h0M1666 378.3h0M1641.9 397.8h0M1613.5 395.2h0M1629.8 395h0M1615.8 391.2h0M1693.4 334.1h0M1670.7 351.3h0M1702.1 323.6h0M1675.8 330.4h0M1661.9 345.8h0M1669.2 354.8h0M1681.5 331.8h0M1627.7 372.3h0M1660.9 382.5h0M1700.3 343.5h0M1703.2 375h0M1704.4 334.1h0M1660.3 381.4h0M1609.1 390h0M1683.3 385.3h0M1624 384.3h0M1620.7 391.5h0M1646.4 376.1h0M1646.9 347.3h0M1635.6 385.7h0M1642.2 376.7h0M1642 386.4h0M1663.2 345.4h0M1665.9 371.8h0M1668.3 349.2h0M1656.2 357.7h0M1706.1 346.3h0M1643 366.2h0M1669.7 380h0M1648.7 348.3h0M1618.6 367.6h0M1690.5 319.3h0M1690.7 365h0M1678.9 351.3h0M1699.1 351.8h0M1690.7 347.3h0M1638.4 365.5h0M1621.5 377h0M1662.1 335.3h0M1664.8 355h0M1708.7 348.3h0M1676.3 369.3h0M1612.1 379.6h0M1673.8 360.2h0M1636.8 392.8h0M1626.5 397.4h0M1677.4 381.7h0M1705.3 334.7h0M1685.6 331.4h0M1656.5 345.6h0M1675.2 372.1h0M1629.7 400.2h0M1688.6 383h0M1631.8 392.4h0M1702.1 369.2h0M1678.2 335.7h0M1659.8 367.5h0M1646 362.6h0M1667.1 379.6h0M1693.6 324.4h0M1624 384.4h0M1636.7 393.1h0M1691.6 348.7h0M1669.3 357.1h0M1708.7 364.5h0M1659.7 356.4h0M1688.4 322.3h0M1698.1 379.9h0M1634.7 359.3h0M1665.1 338.9h0M1694.4 318.4h0M1683.7 386.6h0M1656.5 337.8h0M1659.3 364.2h0M1653.5 343.7h0M1635.5 393.6h0M1643.8 362h0M1624.4 402.9h0M1662.8 395.1h0M1658.3 338.4h0M1618.3 375.9h0M1645.8 392.9h0M1627.9 398.2h0M1651.5 386.6h0M1612.1 384.1h0M1700.7 343.5h0M1700.3 326.2h0M1624.1 383.9h0M1675.9 343.9h0M1682.7 328.6h0M1702.1 366.5h0M1709.2 368.3h0M1668.5 391.5h0M1672.9 341.5h0M1672.7 389.3h0M1641.3 373.4h0M1687.7 383.6h0M1684.7 356.1h0M1622.5 392h0M1696.5 378.8h0M1707.4 360.3h0M1664.7 356.3h0M1649 373h0M1681.1 387.5h0M1678.8 327.9h0M1664.8 349.8h0M1617.3 370.8h0M1641.3 383.4h0M1686.7 384.6h0M1669 363.6h0M1679.6 332.1h0M1706.2 359.8h0M1620.8 401.4h0M1669.5 382.4h0M1693.6 377.1h0M1654.6 340.3h0M1695.7 332.6h0M1663.4 343.1h0M1706.2 343.3h0M1642.5 365.9h0M1687.5 353.3h0M1703.6 327.4h0M1682.8 331.7h0M1681.3 365.4h0M1681.5 377.7h0M1691.8 357.9h0M1668.4 337.7h0M1649.3 362.1h0M1658.4 345.4h0M1674 351h0M1699.6 357.8h0M1644.9 374h0M1702.6 330.4h0M1700.2 350.1h0M1645.7 387.7h0M1668.4 365.8h0M1668.2 383.3h0M1702.1 350.9h0M1641.8 390.7h0M1633 393h0M1684 359.4h0M1621.1 390.2h0M1667.2 365.6h0M1690.1 366h0M1667.9 382.2h0M1694.7 378.4h0M1709.5 361.5h0M1662.1 365.4h0M1647.9 384.6h0M1624.4 384h0M1643.6 351.1h0M1690.5 360.9h0M1689.7 343.3h0M1679.8 360.4h0M1652 342.5h0M1653.8 340.3h0M1662.8 374.7h0M1700.2 373.8h0M1648.2 398.7h0M1696.6 334.1h0M1680.6 348.9h0M1678.2 377.6h0M1675.8 371.9h0M1677.2 384.6h0M1642.8 390.9h0M1677.2 345.8h0M1675.4 348.5h0M1660.5 364.7h0M1683.3 341.7h0M1679.1 336.1h0M1692.3 336h0M1671.4 344.1h0M1668.8 343h0M1654.1 392.6h0M1709.4 360.2h0M1702.8 361.5h0M1613.6 395.4h0M1621.5 372h0M1705.3 338.8h0M1647 372.3h0M1639 359.2h0M1664.5 334.4h0M1690.4 333.9h0M1694.5 351.2h0M1707.5 347.6h0M1703.4 367.4h0M1696.8 382.4h0M1667.7 351.3h0M1694 383.5h0M1685.8 365.6h0M1706.5 335.8h0M1673.8 352.8h0M1708.7 345.9h0M1632.3 383.5h0M1694.4 379.1h0M1691.5 332.5h0M1672.1 363.1h0M1705.2 350.7h0M1682.2 379.3h0M1657.1 350.6h0M1707.6 355.4h0M1620 384.6h0M1672.9 389.2h0M1621.2 371.4h0M1672.1 361.2h0M1652.7 363.4h0M1710.4 346.7h0M1705.2 346.1h0M1678.2 368.9h0M1678.2 385.9h0M1614.5 381h0M1698.4 366h0M1684.2 386.9h0M1696.6 372.1h0M1652.3 343.1h0M1660.4 346.2h0M1649 359.5h0M1669.7 378.5h0M1683.3 348.2h0M1671.3 339.5h0M1659.9 372.9h0M1656.6 377.2h0M1662.8 355.7h0M1625.1 399.1h0M1627.4 401.2h0M1705.7 361.4h0M1656.8 349.9h0M1687.8 332.1h0M1706.3 355.4h0M1612.2 378.9h0M1617.8 390h0M1625.6 385.7h0M1638.2 369.1h0M1673.3 332.3h0M1671.6 379.7h0M1609.2 382.7h0M1641.6 383.3h0M1650.5 377.1h0M1673.3 387.6h0M1686.3 336.7h0M1698.1 343h0M1651 350h0M1639.3 363h0M1663.4 385.8h0M1685 333h0M1616.5 384.8h0M1687.1 383.7h0M1634 398.7h0M1696.9 351.7h0M1637.8 385.7h0M1706.8 353.5h0M1635.7 366.7h0M1615.8 389.3h0M1660.6 336.1h0M1661 358.4h0M1695.2 335.8h0M1661.4 354.9h0M1666.7 381.5h0M1712.2 352h0M1691.2 344.9h0M1685.7 376.2h0M1630 367.9h0M1626.1 369.4h0M1690 368.1h0M1697.4 349.3h0M1679 355.1h0M1699.3 323h0M1682.1 324.5h0M1691.2 335.2h0M1614 392.5h0M1669 390.5h0M1692.4 323.8h0M1616.8 378.8h0M1698.3 331.5h0M1689.9 371.1h0M1648.2 349.3h0M1639.8 357.6h0M1700.4 341.2h0M1688.4 383.1h0M1651.8 357.8h0M1704.3 336.4h0M1661.3 380.1h0M1643 357.3h0M1630.8 379.1h0M1681 335.9h0M1692.3 361.7h0M1624.4 380.4h0M1711.2 357.5h0M1621.8 380.2h0M1664.9 387.1h0M1671.8 384.5h0M1630.1 367.3h0M1635.4 382.3h0M1621.6 401.4h0" stroke="#BDBDBD" stroke-width="8.2" stroke-linecap="round" fill="none"/><path d="M1629.4 319.3h0M1640.1 341.3h0M1656.2 333.2h0M1668.9 330.3h0M1678.7 304.7h0M1694.1 313.2h0M1721.4 310h0M1718.5 334.7h0M1725.1 335.7h0M1728.8 327.1h0M1729.5 346.9h0M1719 366.9h0M1709.7 380.4h0M1590.8 407.7h0M1598.8 402.4h0M1603 395h0M1609.1 423.9h0M1604.2 421.9h0M1598.1 410.9h0M1556 445.7h0M1582.4 443.8h0M1616.3 413.2h0M1627.3 406h0M1612 399h0M1621 411.5h0M1607.5 415.5h0" stroke="#BDBDBD" stroke-width="8.2" stroke-linecap="round" fill="none"/><path d="M1686.8 326.6h0M1683.6 338.9h0M1692.1 324.2h0M1688 332h0M1628 388.5h0M1631 391h0" stroke="#80C982" stroke-width="8.2" stroke-linecap="round" fill="none"/><path d="M1540.4 474.3L1854 177.2" stroke="#000" stroke-width="4.5" fill="none"/><path d="M1606.6 407.2h0M1599.3 417h0M1589.6 437h0M1580.5 450h0M1728.1 268.5h0" stroke="#80C982" stroke-width="8.2" stroke-linecap="round" fill="none"/><path d="M1598.9 403.3h0M1597.2 412h0" stroke="#ED1C24" stroke-width="8.2" stroke-linecap="round" fill="none"/><path d="M1599.3 401.5h0M1598 410.6h0M1605.2 421.7h0M1610.4 423.6h0M1590.8 407.4h0M1602.6 394.3h0" stroke="#BDBDBD" stroke-width="8.2" stroke-linecap="round" fill="none"/><path d="M1615.3 400.7h0M1842.8 263.5h0" stroke="#ED1C24" stroke-width="8.2" stroke-linecap="round" fill="none"/><path d="M1851.3 273.2h0M1781.8 297.8h0M1797.6 302.5h0M1773.9 309.9h0M1735.2 328.3h0" stroke="#4868B4" stroke-width="8.2" stroke-linecap="round" fill="none"/><path d="M1531 154.1V475" stroke="#000" stroke-width="3.9" fill="none"/><path d="M1530.5 474.45H1869" stroke="#000" stroke-width="4.3" fill="none"/><path d="M1672.9 154.7V349.3" stroke="#000" stroke-width="3.8" stroke-dasharray="17 18.55" fill="none"/><path d="M1671 349H1868.2" stroke="#000" stroke-width="3.8" stroke-dasharray="19.6 17.4 18.1 17.4 18.1 17.4 18.1 17.4 18.1 17.4 18.1 17.4" fill="none"/><path d="M1540.4 377.3H1630" stroke="#000" stroke-width="3.8" stroke-dasharray="17.6 17.9" fill="none"/><path d="M1642.7 386V474" stroke="#000" stroke-width="3.8" stroke-dasharray="17 18.2" fill="none"/><text x="1526.4" y="242.7" font-size="8.4" fill="#555" text-anchor="middle">5</text><text x="1526.4" y="364.2" font-size="8.4" fill="#555" text-anchor="middle">0</text><text x="1649.9" y="483.8" font-size="8.4" fill="#555" text-anchor="middle">0</text><text x="1778.3" y="483.8" font-size="8.4" fill="#555" text-anchor="middle">5</text><circle cx="1796" cy="410.5" r="4.2" fill="#ED1C24"/><circle cx="1796" cy="419" r="4.2" fill="#80C982"/><circle cx="1796" cy="429.1" r="4.2" fill="#4868B4"/><circle cx="1796" cy="437.6" r="4.2" fill="#BDBDBD"/><text x="1802.6" y="410.7" font-size="8.3" fill="#000" stroke="#000" stroke-width="0.3" textLength="18.6" lengthAdjust="spacingAndGlyphs">Both</text><text x="1802.6" y="421.3" font-size="8.3" fill="#000" stroke="#000" stroke-width="0.3" textLength="55.4" lengthAdjust="spacingAndGlyphs">Adjusted only</text><text x="1802.6" y="431.3" font-size="8.3" fill="#000" stroke="#000" stroke-width="0.3" textLength="66.2" lengthAdjust="spacingAndGlyphs">Unadjusted only</text><text x="1802.6" y="442.5" font-size="8.3" fill="#000" stroke="#000" stroke-width="0.3" textLength="37.3" lengthAdjust="spacingAndGlyphs">Not DEG</text><path d="M2148.2 159.5C2148.5 157.4 2151.8 152.2 2153.5 150.2C2155.2 148.2 2156.6 148.3 2158.2 147.5C2159.7 146.8 2161.6 147 2162.8 145.5C2164.1 144.1 2164.4 139.3 2165.5 138.9C2166.6 138.4 2168.1 143 2169.5 142.9C2170.9 142.8 2172.4 139.1 2174.2 138.2C2175.9 137.3 2178.4 138.1 2180.2 137.5C2181.9 137 2183.2 135.1 2184.8 134.9C2186.5 134.6 2188.5 135.3 2190.2 136.2C2191.8 137.1 2193.4 140.2 2194.8 140.2C2196.3 140.2 2197.4 136.2 2198.8 136.2C2200.3 136.2 2203.2 138.4 2203.5 140.2C2203.8 142 2201.4 144.6 2200.8 146.9C2200.3 149.1 2199.4 151.5 2200.2 153.5C2200.9 155.5 2203.5 157.5 2205.5 158.9C2207.5 160.2 2210.7 161.5 2212.2 161.5C2213.6 161.5 2212.8 159 2214.2 158.9C2215.5 158.8 2219.6 159.8 2220.2 160.9C2220.7 162 2218.3 163.9 2217.5 165.5C2216.7 167.2 2215.1 168.9 2215.5 170.9C2215.9 172.9 2220.3 176 2220.2 177.5C2220.1 179.1 2216.2 179.1 2214.8 180.2C2213.5 181.3 2213.5 183 2212.2 184.2C2210.8 185.4 2208.8 186.4 2206.8 187.5C2204.8 188.6 2202.2 190.8 2200.2 190.9C2198.2 191 2196.5 188.6 2194.8 188.2C2193.2 187.8 2191.7 188.8 2190.2 188.2C2188.6 187.6 2187.5 185.1 2185.5 184.9C2183.5 184.6 2180.1 187.3 2178.2 186.9C2176.3 186.4 2175.4 183.8 2174.2 182.2C2172.9 180.6 2172.3 178.4 2170.8 177.5C2169.4 176.6 2167.3 177.1 2165.5 176.9C2163.7 176.6 2162.2 176.6 2160.2 176.2C2158.2 175.8 2154.8 175.8 2153.5 174.2C2152.2 172.6 2152.5 168.8 2152.2 166.9C2151.8 165 2152.2 164.1 2151.5 162.9C2150.8 161.6 2147.8 161.6 2148.2 159.5Z" fill="#BDBDBD"/><path d="M2203.3 179.6h0M2165.7 143.4h0M2173.5 143.2h0M2184.3 141.2h0M2169.7 179.5h0M2160.3 159.3h0M2196.5 139h0M2216.8 190.1h0M2190.1 163.3h0M2148.5 165.3h0M2177.7 139.9h0M2147.3 168.2h0M2197.8 164.2h0M2158.7 160.7h0M2181.7 134.3h0M2190.8 158.9h0M2182.5 190.9h0M2143.5 167.4h0M2164.1 155.1h0M2221.8 172.1h0M2164 159.6h0M2176.8 165.1h0M2179.8 138.4h0M2196 165h0M2190.9 153.9h0M2218.8 167h0M2215.8 176.7h0M2199.8 175h0M2208.5 185h0M2200.1 150.4h0M2162.1 141.6h0M2215.8 162h0M2154.3 164.1h0M2202.4 173.1h0M2219.1 182.5h0M2197.5 174.7h0M2207.9 190h0M2154.5 168.6h0M2169.9 165.4h0M2156.1 154.7h0M2180.1 168.6h0M2156.9 170.4h0M2160.2 135.5h0M2162.9 167.8h0M2178.7 174.2h0M2148.3 156.8h0M2218.5 168h0M2195.5 167.4h0M2181.2 178.5h0M2180.4 182.6h0M2164.4 150.8h0M2220.9 168.5h0M2206 168.5h0M2149.3 149.1h0M2181.7 167.1h0M2182.5 129.7h0M2203.7 193.2h0M2219 163.9h0M2197.6 145.1h0M2151.4 168.6h0M2224.6 177.5h0M2150.5 148.7h0M2177.3 168.3h0M2184.6 131.1h0M2177.1 159h0M2195.6 162.1h0M2208.7 170.3h0M2169.2 157.4h0M2222.2 158.8h0M2209.3 159.1h0M2158.9 169.3h0M2215 164.7h0M2168.9 138h0M2152.8 144h0M2156.9 157.9h0M2218.2 188.7h0M2201.5 145.1h0M2212.2 193.7h0M2183 141.4h0M2187.1 135.8h0M2161.1 139.3h0M2161.6 176.7h0M2216 185.5h0M2204.4 167h0M2202.3 191.4h0M2216 173.2h0M2174.7 165.9h0M2188.2 168.3h0M2202.5 134.9h0M2150.3 154.3h0M2197.7 145.9h0M2173.7 169.1h0M2201 159.4h0M2198 176.6h0M2191.9 154.6h0M2202.7 150h0M2181.5 179.4h0M2211.6 161.5h0M2154.7 154.8h0M2173.7 153.1h0M2203 186.7h0M2153.6 175h0M2204.7 182.9h0M2144.5 153.8h0M2167.6 135.6h0M2199.8 163.8h0M2194.8 189h0M2190.4 190.2h0M2212 164.9h0M2194.4 160.9h0M2173.4 179.3h0M2192.7 153.8h0M2197.4 165.5h0M2162.4 176.8h0M2199.3 194.7h0M2170.1 176.2h0M2192.8 175.8h0M2152 166.6h0M2189 154.6h0M2145.6 157.5h0M2211 186.2h0M2202.5 164.7h0M2152.7 155.6h0M2204.3 182.7h0M2193.5 191h0M2189.4 187.4h0M2165.1 159.4h0M2176.7 187.5h0M2180.1 134.7h0M2178.7 189.3h0M2193.3 166h0M2149.5 153.8h0M2174.2 182.8h0M2191.3 137.4h0M2166.2 180.5h0M2153.2 174h0M2184.7 130.3h0M2197.6 163.6h0M2217.8 164.6h0M2212.4 179.6h0M2163 180.4h0M2165.1 157.4h0M2183.7 186.8h0M2187.4 149.4h0M2156.9 153.5h0M2199.8 192.9h0M2147.1 148.4h0M2206 162.8h0M2173.4 184.2h0M2213.9 186.7h0M2194.3 173.5h0M2142.7 157.9h0M2194.9 147h0M2200 166.7h0M2198.7 188h0M2168.6 171.7h0M2212.1 176.2h0M2200.9 167.2h0M2150.2 168.7h0M2183.7 172.4h0M2153.7 157.1h0M2198.1 158.8h0M2203.8 133.8h0M2170.7 135.4h0M2205.2 155.6h0M2206 181h0M2211.1 192.2h0M2178.5 180.6h0M2205.6 158.1h0M2154.2 174.4h0M2203 171.5h0M2161.2 140.6h0M2170.9 151.5h0M2157.2 158.9h0M2194.8 133.5h0M2209 187.8h0M2196.9 157.1h0M2171.2 181.2h0M2189.2 171.6h0M2197.7 172.1h0M2207 192.1h0M2154.2 146.4h0M2211.1 191.9h0M2185.1 157.1h0M2183.4 136.9h0M2191.7 145.3h0M2180.2 140.3h0M2169.3 147.9h0M2202 182.2h0M2204.9 174.8h0M2206 192.7h0M2162.2 147.4h0M2198.5 183.6h0M2196.5 149.5h0M2189.5 145h0M2147.2 151.6h0M2209.3 189.9h0M2181.6 176.1h0M2198.7 159.1h0M2214.4 190.9h0M2181 149h0M2223.1 177h0M2171.2 139.3h0M2174 159h0M2212 177.2h0M2191.2 188.6h0M2216.1 179.5h0M2161.8 136.3h0M2144.8 150.3h0M2155.1 144.6h0M2205.9 188.1h0M2168.2 170.8h0M2168.4 180h0M2158.7 170.3h0M2210.5 172h0M2189.7 154.3h0M2199.2 194.8h0M2165.2 180.9h0M2156.8 169.8h0M2171.4 165.3h0M2172.2 169.6h0M2205.2 177.1h0M2172.6 183.3h0M2226.9 178.9h0M2204.9 192.4h0M2196.3 189.4h0M2194.4 181.7h0M2183 177.8h0M2180.7 135h0M2169.7 156.1h0M2182.8 135.3h0M2214.9 185.2h0M2184.1 155.5h0M2191.2 172.1h0M2175.8 182.4h0M2183.9 179.6h0M2190.3 137.4h0M2141.8 155.8h0M2174.2 174.8h0M2168.9 150.9h0M2177.5 191.4h0M2180.7 134h0M2170.5 169h0M2184.3 183.4h0M2206.2 160.6h0M2176.2 160.2h0M2145.8 155.7h0M2198.1 178.1h0M2167.1 180.5h0M2194.9 171.8h0M2169 181.6h0M2145.1 169.2h0M2221.6 165.4h0M2198.1 146.7h0M2169.3 182.9h0M2204.8 184.1h0M2155.5 152h0M2195.9 163.1h0M2197.5 184.1h0M2218.3 170.2h0" stroke="#BDBDBD" stroke-width="8.4" stroke-linecap="round" fill="none"/><path d="M2171.5 123.7h0M2130.9 177h0M2161.3 188.6h0M2159.6 187.3h0M2222.5 196h0M2159.6 132.2h0M2202.3 128.8h0M2208.3 133.9h0M2229.7 160.4h0M2222 158.7h0M2229.7 181.8h0M2204 198.9h0M2137.4 158.7h0M2144.2 177.5h0M2184.4 127.1h0" stroke="#BDBDBD" stroke-width="8.4" stroke-linecap="round" fill="none"/><path d="M2127.4 152.7h0M2118.9 187.8h0" stroke="#4868B4" stroke-width="8.4" stroke-linecap="round" fill="none"/><path d="M2288.1 169.4C2288.5 166.9 2293 164.6 2293.9 162C2294.7 159.4 2292.6 157 2293 153.7C2293.5 150.4 2294.8 144.4 2296.4 142.2C2297.9 140 2300.3 141.8 2302.1 140.5C2303.9 139.3 2306.8 136.8 2307.1 134.7C2307.4 132.7 2303.1 129.5 2303.8 128.1C2304.5 126.8 2308.9 127.6 2311.2 126.5C2313.6 125.4 2316.6 123.6 2317.8 121.5C2319.1 119.5 2317.4 115.3 2318.6 114.1C2319.9 112.9 2323.1 114.6 2325.3 114.1C2327.5 113.5 2330.6 112 2331.9 110.8C2333.1 109.5 2331 107.5 2332.7 106.7C2334.3 105.8 2339.2 105.7 2341.8 105.8C2344.4 106 2346.9 108.2 2348.4 107.5C2349.9 106.8 2349.5 102.8 2350.9 101.7C2352.2 100.6 2355.1 100.1 2356.6 100.9C2358.1 101.7 2358.3 106 2359.9 106.7C2361.6 107.3 2364.9 104.3 2366.5 105C2368.2 105.7 2369 108.7 2369.8 110.8C2370.7 112.9 2372.3 116.3 2371.5 117.4C2370.7 118.5 2366.8 116.4 2364.9 117.4C2363 118.4 2360.2 121.1 2359.9 123.2C2359.7 125.2 2362.4 127.2 2363.2 129.8C2364.1 132.4 2365.4 137.6 2364.9 138.9C2364.3 140.1 2361.3 136.7 2359.9 137.2C2358.6 137.8 2358.1 140.5 2356.6 142.2C2355.1 143.8 2352.5 145.9 2350.9 147.1C2349.2 148.4 2348.5 148.5 2346.7 149.6C2344.9 150.7 2342 151.7 2340.1 153.7C2338.2 155.8 2337.1 159.2 2335.2 162C2333.2 164.7 2330.5 168 2328.6 170.2C2326.6 172.4 2325.8 174.2 2323.6 175.2C2321.4 176.2 2317.8 175.2 2315.3 176C2312.9 176.8 2311.2 179.7 2308.7 180.1C2306.3 180.6 2302.7 178.2 2300.5 178.5C2298.3 178.8 2297 182.1 2295.5 181.8C2294 181.5 2292.6 178.9 2291.4 176.8C2290.2 174.8 2287.7 171.9 2288.1 169.4Z" fill="#BDBDBD"/><path d="M2344.2 117.6h0M2369.1 98.3h0M2338 109.3h0M2347.8 107.3h0M2294.7 171.7h0M2343.3 121.7h0M2329.4 162h0M2364 102.5h0M2285.7 180.4h0M2349 148.9h0M2306.6 179.6h0M2353.4 99.7h0M2364.1 128.6h0M2372.1 103.1h0M2354.1 123.3h0M2366.9 103.2h0M2331.1 147.3h0M2286.2 178.2h0M2313.5 132.8h0M2368.5 103.9h0M2292 160.8h0M2353.4 114.4h0M2349.7 127.8h0M2324.5 130.6h0M2297 187.8h0M2324.3 153h0M2305.9 186.2h0M2312.8 169.6h0M2348.5 99.4h0M2291.1 158.3h0M2353.1 141.4h0M2305.1 165.7h0M2366.7 113.8h0M2293.7 167.2h0M2305.5 184.2h0M2310.4 172.5h0M2314.8 168.4h0M2322.9 113h0M2289.5 179.7h0M2343.1 112.6h0M2308.2 131.1h0M2340.7 102.4h0M2355 97.3h0M2291.9 170.2h0M2309 171.2h0M2296.8 162.2h0M2336.3 131.6h0M2332.6 116.2h0M2338.4 105.6h0M2348 150.3h0M2338 141.3h0M2339.9 126.4h0M2330.5 128.7h0M2335.2 108.4h0M2346.3 130.7h0M2366.2 131.6h0M2345.5 127.6h0M2361.8 114.3h0M2316.9 166.1h0M2325.5 177.2h0M2338.4 145.8h0M2338.9 111h0M2294.3 154.6h0M2308.2 176h0M2367.9 102.3h0M2327.5 175.1h0M2286.4 193.1h0M2318.8 142.3h0M2298.9 137.9h0M2354 138.3h0M2375.5 111.9h0M2304.7 136.7h0M2299.9 173.5h0M2370.2 126.5h0M2332.7 104.7h0M2334.9 135.2h0M2318.5 181.3h0M2352.6 137h0M2313.6 131.3h0M2311.4 158.9h0M2367.7 122h0M2372.3 134.1h0M2328.5 117.6h0M2303.3 136h0M2328.7 177.4h0M2314.7 169.4h0M2303.6 140.1h0M2285 182.2h0M2313.9 156.7h0M2335.9 141.2h0M2302 175.3h0M2336.2 119.6h0M2301.6 175.9h0M2348.7 106.1h0M2361.7 97.4h0M2371.3 109.7h0M2345.5 138.8h0M2298.6 159.8h0M2309.1 140.4h0M2316 130.4h0M2348.6 103.2h0M2305.9 155.2h0M2314.8 138.2h0M2308.9 145h0M2339.9 108.9h0M2284.9 164h0M2285.1 190.2h0M2354 108.3h0M2321.3 111.4h0M2319.4 184.2h0M2317.2 166.3h0M2340.4 121.4h0M2337.4 143h0M2357.7 133.8h0M2298.2 172.4h0M2320.7 170.7h0M2347.7 111.8h0M2327.1 157h0M2306.1 189.1h0M2358.1 93.4h0M2307.9 183.1h0M2296.7 181.1h0M2346 132.6h0M2348.6 116.4h0M2371.1 99.5h0M2305 164.5h0M2320.8 181.3h0M2314.7 136.2h0M2311.7 123.3h0M2349.9 146.6h0M2311.6 124.7h0M2293.2 154.8h0M2313.1 148.7h0M2338.4 107.3h0M2375.7 105.8h0M2330.4 157.5h0M2332.8 160.4h0M2367.1 106.5h0M2315 177h0M2281.6 178.7h0M2345.5 130.9h0M2302.2 144.5h0M2363.4 112.1h0M2302.9 142.3h0M2361.9 133.9h0M2333 171.5h0M2347.6 147.3h0M2322.5 158.1h0M2364.2 106.2h0M2361.9 124.5h0M2324 143.7h0M2296.4 179.8h0M2324.9 128.9h0M2375.9 102.4h0M2304.8 170.6h0M2316.7 145.6h0M2301 190.5h0M2290.4 156.8h0M2350.9 109.9h0M2297.3 184.4h0M2304.6 140.2h0M2300.8 129.3h0M2358.8 122.4h0M2317.4 110.7h0M2344.8 102h0M2300.9 171.4h0M2286 188.2h0M2298.2 168.5h0M2358.3 117.3h0M2358.8 114.4h0M2330 131.7h0M2328.5 140.6h0M2322.7 127.9h0M2301 156.4h0M2318.9 162.4h0M2345 127.6h0M2336.9 140.2h0M2331.5 128.1h0M2329.9 165.9h0M2300.9 147.4h0M2331.5 132.8h0M2299.2 152.6h0M2327.7 110.3h0M2301.6 169.8h0M2301.7 134.8h0M2339.1 111.4h0M2333.7 164.2h0M2354.3 149.1h0M2339.7 144.5h0M2332.7 136.9h0M2320.8 112h0M2295.8 148.5h0M2341.5 139.3h0M2336.1 111.6h0M2365.9 102.7h0M2311 164.5h0M2338.9 130.8h0M2335.9 116.9h0M2373.8 99.2h0M2347.8 149.4h0M2329.4 161.8h0M2312.2 155.2h0M2332 153.7h0M2352 149.3h0M2289.4 179.8h0M2320.1 116.6h0M2292.7 185.6h0M2353.5 123h0M2297.2 178.1h0M2292.4 144.6h0M2348.9 102.5h0M2283.1 176.3h0M2309.1 131.9h0M2326.4 145.8h0M2288 190.6h0M2342.6 149.7h0M2363.6 96.5h0M2338.4 129.1h0M2313.8 145.8h0M2334.5 111.1h0M2329.8 136.3h0M2288.8 184.5h0M2302.9 150.2h0M2310.9 157.4h0M2300.3 147.7h0M2342.3 98.8h0M2291.6 165.7h0M2319.8 175.6h0M2313.7 152.1h0M2343.2 137.9h0M2344.6 131.7h0M2347.9 144.5h0M2318.8 112.3h0M2365.8 119.1h0M2343.1 101.9h0M2377.9 107h0M2329.8 174.1h0M2301.4 157.1h0M2334.1 160.8h0M2337.3 110.1h0M2347.5 125h0M2315.5 118h0M2354.8 97.3h0M2359.2 131.7h0M2288.4 168.4h0M2368.9 102.8h0M2299.8 147.1h0M2284.2 159.5h0M2331.5 161h0M2304.1 162.4h0M2286.1 173.3h0M2348 128.4h0M2309.6 164.2h0M2315.5 131.5h0M2299.7 157.4h0M2339.1 117.9h0M2359 138.3h0M2335.2 156.1h0M2311.1 158.4h0M2331.9 142.3h0M2350.7 140.3h0M2322.2 163.9h0M2333.7 133.9h0M2345.7 153.2h0M2370.7 107.7h0M2331.7 156.3h0M2310.8 152.5h0M2290.2 169.5h0M2302.3 146.6h0M2367 135.9h0M2336.8 133.2h0M2303.7 143.7h0M2289.9 159.9h0M2345.2 142.2h0M2317.4 178.1h0M2320.5 174.6h0M2324.1 125.1h0M2320.5 171.4h0M2365.6 128.3h0M2325 169.3h0M2291 173.4h0M2315.4 116.8h0M2326.1 157.4h0M2323.9 137.5h0M2331.8 127.1h0M2302 151.4h0M2355 110.9h0M2337.2 115.8h0M2356.2 105.6h0M2351.6 111h0M2297.3 145.1h0M2355.7 113.3h0M2298.5 173.5h0M2362.6 105.4h0M2297.8 126.2h0M2321.9 174.3h0M2289.1 173.4h0M2310.3 144.9h0M2322.5 170.3h0M2356.4 109.8h0M2303.8 188.6h0M2334.1 143.4h0M2364.9 136.5h0M2334.7 140.2h0M2340.3 102.1h0M2320.4 170.4h0M2302.7 180.2h0M2301.3 188.9h0M2294.5 178.2h0M2331.3 119h0M2340.7 159.3h0M2323.3 172.1h0M2355.8 135.1h0M2293.3 145.2h0M2349.9 136.7h0M2347.8 111h0M2312.3 170.8h0M2371.2 108.5h0M2373.9 112.1h0M2357.7 140.2h0M2360 101h0M2355.4 105.4h0M2344.7 128.9h0M2342.8 135.3h0M2364.9 101.2h0M2343.4 103h0M2326.6 179.7h0M2361.5 97.8h0M2307.3 135.3h0M2314.2 156.3h0" stroke="#BDBDBD" stroke-width="8.4" stroke-linecap="round" fill="none"/><path d="M2270.2 196h0M2391.7 100.5h0M2348.9 166.4h0M2357.8 172.5h0M2350 183.1h0M2372.2 141h0M2369 135h0M2294.9 124h0M2291.8 124.5h0M2275.9 178.5h0M2285.4 194.3h0M2363.7 90.6h0M2356.3 91.6h0M2376.5 95.9h0M2382.8 111.8h0M2333 98h0M2315 107.5h0M2375.4 140.3h0" stroke="#BDBDBD" stroke-width="8.4" stroke-linecap="round" fill="none"/><path d="M2094.9 317.9h0M2095 312.2h0M2097.7 331.5h0M2124.6 277.1h0M2120.3 285.1h0M2096.9 319.5h0M2105.6 306.4h0M2129.8 312.7h0M2105.1 304.6h0M2121.7 274.6h0M2129.9 275.4h0M2124.3 295.3h0M2129.6 277.4h0M2115.2 316.8h0M2117.5 312.3h0M2116.7 333.5h0M2102.8 328.9h0M2107.3 327h0M2125.6 326.7h0M2123.8 309.7h0M2104.3 332.4h0M2114.8 320h0M2107.8 328.9h0M2116.7 311.9h0M2122.1 286.9h0M2122.8 287.5h0M2095.4 317.1h0M2112.4 318.1h0M2123.1 316.9h0M2115.9 323.2h0M2131.6 313.2h0M2126.5 275.4h0M2100.6 315.8h0M2093.7 326.9h0M2127.7 286.6h0M2128.5 275.5h0M2102 300.2h0M2100.6 326.5h0M2130.5 267.5h0M2131.2 332.5h0M2094.4 330.2h0M2117.7 293.8h0M2109.3 322.7h0M2123.8 321h0M2094 323.6h0M2092.9 325.4h0M2115.8 288.1h0M2127.6 301.9h0M2104.4 326.2h0M2120.1 304.5h0M2128.5 270h0M2128.7 295h0M2113.4 286h0M2107.8 324.1h0M2122.1 287.5h0M2124.4 286.8h0M2099 311.3h0M2101.5 307.2h0M2112.9 307.1h0M2127.4 311.9h0M2116.4 309.7h0M2112.5 333.1h0M2124.4 270.2h0M2128.6 269.1h0M2101.5 333.6h0M2121.7 299.3h0M2127.1 297.2h0M2112.1 304.4h0M2121.1 313.9h0M2128.1 295.1h0M2097.2 330.8h0M2120.1 323.3h0M2129.4 303.1h0M2121.2 306.6h0M2096.6 314.5h0M2129.7 272.3h0M2115.9 289.8h0M2127.6 280.4h0M2099.1 330.5h0M2102.2 330.2h0M2126.2 300.3h0M2122.6 309.7h0M2115.3 319.5h0M2121.4 295.6h0M2123.9 333.1h0M2130.6 299.9h0M2123.1 267.4h0M2105.1 329h0M2109.2 316.1h0M2131.2 260.7h0M2117.3 321.6h0M2124.4 327.5h0M2117.6 322.2h0M2108 302.8h0M2113.8 291.6h0M2109.8 311.5h0M2098 321.1h0M2120.2 273.5h0M2105.8 321.6h0M2108.8 322.1h0M2107.8 333.1h0M2107.5 332.4h0M2098.9 317.5h0M2095.1 317.2h0M2111.8 323.1h0M2116.6 329.6h0M2128.7 325.6h0M2125.3 303.5h0M2124.2 308h0M2109.5 297h0M2123.3 275.7h0M2131.2 274h0M2130.8 260.4h0M2118.7 298h0M2114.5 304.7h0M2125.1 320.8h0M2124.2 262.8h0M2126.8 297.7h0M2126.5 326.7h0M2112.1 303.6h0M2129.2 261h0M2115.9 295.3h0M2097.3 309.8h0M2130 320.9h0M2118.4 288.1h0M2129.7 294h0M2095.7 323.4h0M2112 313.8h0M2125.8 317.7h0M2123.4 317.4h0M2102.1 307.3h0M2104.6 332.5h0M2104.5 311.6h0M2123.8 326.8h0M2094.9 318.9h0M2130.3 260.1h0M2118.9 332.7h0M2095.4 314.5h0M2105.8 300.3h0M2122.1 272.9h0M2117.9 309.1h0M2101.1 303.7h0M2108.1 296.9h0M2122.1 275.3h0M2104.9 309.7h0M2097.7 327.3h0M2129.4 267.8h0M2113.4 318.7h0M2101.4 317.3h0M2121.7 305.8h0M2126.2 259.3h0M2128.3 268.9h0M2120.4 273h0M2115.9 278.8h0M2095.4 303.1h0M2093 315.8h0M2092 333.6h0" stroke="#4868B4" stroke-width="8.4" stroke-linecap="round" fill="none"/><path d="M2137.4 261.2C2140.7 249.2 2151.7 259.3 2157 257.6C2162.2 255.9 2164 252.2 2169 250.9C2174 249.7 2182.3 250.6 2187.1 250C2191.9 249.4 2193.1 248.1 2197.6 247.3C2202.1 246.6 2210.2 245.1 2214.2 245.5C2218.2 246 2220.1 247 2221.7 250C2223.3 253 2223.7 258.3 2223.8 263.6C2224 268.8 2223.5 276.9 2222.6 281.6C2221.8 286.4 2221.4 288.1 2218.7 292.2C2216 296.3 2211.4 303.3 2206.7 306.3C2201.9 309.3 2194.9 308.6 2190.1 310.2C2185.3 311.9 2181.6 314.1 2178.1 316.3C2174.5 318.4 2172 321.2 2169 323.2C2166 325.2 2165.3 327.3 2160 328.3C2154.7 329.3 2141.2 340.4 2137.4 329.2C2133.6 318 2134.1 273.1 2137.4 261.2Z" fill="#BDBDBD"/><path d="M2217.2 297.5h0M2214 295h0M2159.8 297.7h0M2201.2 308.4h0M2170.1 311.2h0M2163.7 253.3h0M2172.6 292.6h0M2133.3 330.1h0M2165.9 298.3h0M2188.3 304.1h0M2190.6 297.7h0M2158.2 275.8h0M2192 254.1h0M2160.9 257h0M2135.3 283.4h0M2167.7 293.5h0M2170.1 248.2h0M2214.6 245h0M2207.7 275.7h0M2222.8 270.9h0M2171.1 306.5h0M2167.9 304.8h0M2137.7 294.7h0M2193.9 267.2h0M2194.9 269.9h0M2205.5 248.1h0M2180.9 315h0M2176.4 308.2h0M2172.1 276.9h0M2133.7 297.9h0M2155.4 300.6h0M2167.4 275.5h0M2137.2 307.9h0M2131.9 319.7h0M2132.4 313.9h0M2165.4 273.9h0M2179 258.6h0M2151.7 307.9h0M2219.2 254.5h0M2168.9 313h0M2200.1 310.7h0M2177.6 268.7h0M2166.9 254.7h0M2139.4 276.8h0M2214.2 272.2h0M2141.9 275.9h0M2167.4 307.7h0M2160.7 278.6h0M2158.8 279.8h0M2166.6 287.9h0M2155.8 277.7h0M2152.9 280.5h0M2199.9 244.2h0M2208 268.2h0M2138.6 314.9h0M2186.2 265.9h0M2168.4 321.9h0M2199.8 267.3h0M2154.6 294.1h0M2143.4 262.7h0M2134.2 283h0M2170.1 310.2h0M2172.7 262.5h0M2212.8 259.4h0M2194.1 267.7h0M2191.3 257.5h0M2216.1 275.8h0M2197.3 311.2h0M2176.8 291.6h0M2143.2 291.8h0M2165.6 255.6h0M2170.8 314.6h0M2200.9 284.8h0M2150.6 303.6h0M2155 283.5h0M2152 326h0M2169.7 306.1h0M2149.3 298.1h0M2160.2 252.4h0M2189.8 293.1h0M2213.9 243.9h0M2208.8 250h0M2200.5 290.4h0M2216.2 289.2h0M2197.1 265.3h0M2226.4 260.8h0M2212.3 304.9h0M2178.1 276.2h0M2140 315.3h0M2153.7 322.7h0M2217.2 261h0M2159.8 307.6h0M2205.4 245.9h0M2225.7 260.5h0M2188.3 251.7h0M2167.4 271.4h0M2223.3 262.9h0M2210.7 282.7h0M2141.4 265.6h0M2142.8 278.8h0M2145.4 326.7h0M2207.6 295.5h0M2150.1 261h0M2162.8 306.4h0M2181.7 293.1h0M2196.9 268.8h0M2157.5 279.8h0M2154.2 321.6h0M2184.6 267.7h0M2191.4 284.3h0M2206 303.8h0M2184.3 272.5h0M2141.4 322.7h0M2191.2 278.4h0M2172.6 275.8h0M2183.1 296.6h0M2159.2 321h0M2139.2 260.8h0M2172.2 248.4h0M2209.3 304.4h0M2156.8 290.1h0M2169.3 317.7h0M2160.1 263.4h0M2199.5 247.3h0M2135.8 328h0M2225.4 260.4h0M2179.1 284.5h0M2156.1 330.9h0M2174.4 260.6h0M2139.1 301.6h0M2212.7 264.8h0M2204.4 243.4h0M2144.2 300.9h0M2140.9 284.7h0M2207.9 302.2h0M2158.9 306.1h0M2186.8 299.5h0M2204.2 268.3h0M2219.7 284.4h0M2162.2 290.6h0M2141 267.1h0M2183.6 291.8h0M2209.3 263.9h0M2183.4 305h0M2189.1 312.8h0M2193.8 270.2h0M2188.1 306.2h0M2138.5 331.4h0M2214.8 244.3h0M2139.7 321.1h0M2155.4 326.3h0M2191.9 282.3h0M2140.8 309h0M2163.7 254h0M2167.1 321.4h0M2203.2 276.8h0M2211.1 293.5h0M2164.4 250.9h0M2197.4 264.5h0M2180.4 263.7h0M2192.5 246.8h0M2158.6 299.7h0M2159.5 278.4h0M2148.8 314.9h0M2142.7 319.6h0M2142.5 277h0M2167.4 303.5h0M2162.2 316.5h0M2209.1 279.4h0M2200.5 290.5h0M2142.4 289.4h0M2187.6 307.3h0M2173.7 314.1h0M2212.3 261.4h0M2182.6 270.6h0M2143.8 280.6h0M2190 289.6h0M2168.8 293.2h0M2176.2 302.1h0M2155.1 309.3h0M2175.6 301.1h0M2196.5 281.6h0M2149.8 328.8h0M2211.5 277.1h0M2168.2 320.3h0M2204.2 267.2h0M2210.8 272.9h0M2212.8 251.7h0M2223 275.5h0M2220.4 264.3h0M2167.7 265h0M2188.2 265h0M2196.7 304.7h0M2205.6 283.6h0M2173 264.7h0M2178.6 290.6h0M2158.5 293.4h0M2148.3 280.4h0M2163.1 291.1h0M2206.4 244.2h0M2174.1 250.7h0M2165.9 310h0M2192.9 308.2h0M2210.1 273.1h0M2167.7 258.9h0M2163.3 299h0M2196.3 307.5h0M2215.8 243.5h0M2168.1 287.2h0M2134.4 325.3h0M2207.7 278.3h0M2223.2 284.7h0M2142.2 260.1h0M2183.4 312h0M2161.7 328.8h0M2156.5 332.5h0M2194.2 309.8h0M2169 290.9h0M2165.7 288.4h0M2211.1 279.8h0M2160.4 296.5h0M2154.2 315.2h0M2201.6 304.5h0M2186.2 278.1h0M2200.9 280.6h0M2148.8 324.8h0M2219.9 253.1h0M2209.2 299.2h0M2163.6 272.1h0M2145.8 282.9h0M2152.2 304h0M2222.8 269.1h0M2156.6 290h0M2148.8 318.6h0M2180.2 314.7h0M2211.9 269.5h0M2202.4 291.5h0M2213.7 302.5h0M2148.1 286.5h0M2170.8 252.5h0M2145.4 307.1h0M2195.4 280.5h0M2143.8 265.3h0M2174.1 310.2h0M2171.7 311.7h0M2166.9 297.5h0M2203.8 280.4h0M2142.6 304.8h0M2141.1 258.9h0M2166.6 257.9h0M2171 247.2h0M2159.2 307.3h0M2162 280.2h0M2202.5 264.8h0M2154.8 332.5h0M2165.3 323h0M2211.6 268.7h0M2136.6 303.3h0M2164.6 272.1h0M2200.6 279.7h0M2158.4 321.6h0M2180.9 270.8h0M2145.2 316.8h0M2217.4 264.8h0M2163.7 253.2h0M2180 260.6h0M2137.5 330.3h0M2145.1 275.6h0M2151.1 318.1h0M2177.5 314.7h0M2146.8 287.1h0M2194.8 269.9h0M2207.3 300.6h0M2173.7 252.2h0M2155 287.5h0M2223.4 260.7h0M2210.3 265.2h0M2174.9 261.9h0M2161.6 310.9h0M2196.2 299.8h0M2152.3 311.7h0M2212.4 284.4h0M2158.3 298h0M2207.5 283.7h0M2185.7 311.1h0M2220 248.8h0M2198.1 247.3h0M2157.7 304.8h0M2148.6 303.4h0M2207.1 304.9h0M2211 298.2h0M2164.6 257.4h0M2179.4 296h0M2163.7 258.7h0M2183.3 262.1h0M2192.2 268.5h0M2167 305.3h0M2197.2 245.8h0M2186.2 294.1h0M2166.4 275.9h0M2183 265.4h0M2202.3 256.7h0M2137 280.7h0M2202.6 258.3h0M2146.7 317.8h0M2205.1 245.9h0M2171.7 266.6h0M2185 283.5h0M2176.7 299.3h0M2178.5 276.6h0M2214.1 243.6h0M2205.9 246.4h0M2160.2 327.4h0M2144 330.5h0M2171.2 275.7h0M2217.9 276.9h0M2176.1 256h0M2219.2 259.1h0M2193.6 254.6h0M2180.5 314.5h0M2156.7 296.2h0M2150.5 267.4h0M2193.4 272.8h0M2152.7 271.3h0M2205.1 280.2h0M2189.6 265.6h0M2191.8 245.3h0M2137.3 261.6h0M2207.8 257.7h0M2154.2 255h0M2158.4 290.9h0M2218.1 244.3h0M2196.9 265.4h0M2177.4 318.1h0M2143.1 261.4h0M2161 318h0M2155.4 270.8h0M2202.5 282.8h0M2156.5 314h0M2148.8 326.4h0M2159.2 327.2h0M2193 251h0M2143.7 291h0M2182 282h0M2158.8 270.1h0M2151.4 265.8h0M2135.4 311.2h0M2217.7 261.9h0M2137.3 277.2h0M2142.2 281.1h0M2156.3 295.1h0M2146.8 257.2h0M2176.5 306.1h0M2211.8 256.9h0M2182.2 248.5h0M2164.9 304.5h0M2192.7 303.2h0M2149.3 288.9h0M2137.1 279.8h0M2136.9 331.3h0M2165.1 264.5h0M2218.7 281.6h0M2182.1 277.9h0M2202.8 269.4h0M2146.3 308.3h0M2165.5 319.1h0M2177.5 298.2h0M2166.7 273.6h0M2163.6 267.8h0M2135.3 304.4h0M2161.5 327h0M2188.5 255.9h0M2160.1 258.3h0M2204.4 264.9h0M2185.5 281.8h0M2167.2 322.1h0M2181.1 270.3h0M2148.2 269.2h0M2150 303.3h0M2203.3 297h0M2200.3 311.1h0M2187 258.9h0M2177.6 256.3h0M2198.9 303.6h0M2163.7 295.8h0M2200.2 289h0M2215.6 249.6h0M2150.9 314.1h0M2167.6 255.4h0M2135.7 313.6h0M2148.4 326.5h0M2136.5 266.9h0M2186.7 250.7h0M2177.8 286.7h0M2152.8 302.3h0M2173 313.7h0M2146.7 266h0M2184.2 300.5h0M2168.3 316.2h0M2221.4 245.3h0M2136.6 310.2h0M2187.9 289.6h0M2158.1 309.8h0M2153 258.4h0M2170.8 254.7h0M2170.3 312.7h0M2191.8 308.3h0M2211.3 268.5h0M2165.2 321.3h0M2168.6 289.1h0M2212 300h0M2191.4 288.9h0M2171.3 269h0M2168 317.6h0M2177.6 261.9h0M2170.9 253.5h0M2203.4 305.8h0M2143.3 331.5h0M2185.1 265.6h0M2136.6 285.7h0" stroke="#BDBDBD" stroke-width="8.4" stroke-linecap="round" fill="none"/><path d="M2165.9 245h0M2223 302.1h0M2209.3 326.1h0M2197.4 327.8h0M2164.9 332.9h0M2135.8 260.4h0M2226.5 262.8h0M2217.9 241.2h0" stroke="#BDBDBD" stroke-width="8.4" stroke-linecap="round" fill="none"/><path d="M2098.1 345.3h0M2114 346.5h0M2129.7 348.9h0M2126.7 354.7h0M2096.5 373.6h0M2107.3 344.6h0M2110.5 355.7h0M2110.4 350.8h0M2083.8 340h0M2087.9 350.1h0M2108.5 348.6h0M2103.4 358.1h0M2093.9 363.2h0M2093.5 353.2h0M2107.6 367.8h0M2098.3 371.8h0M2099.8 380.9h0M2089.3 365.1h0M2099.7 359.3h0M2087.6 353.9h0M2091.3 369.7h0M2107 362.4h0M2114.9 339.5h0M2124.7 357.5h0M2120 344.2h0M2106.7 364.7h0M2095.4 359.1h0M2111.7 361.7h0M2120.9 339.5h0M2101.7 373.1h0M2090.3 374.6h0M2118.3 350.9h0M2103.1 380.3h0M2119.2 364.4h0M2090 347.6h0M2093.3 341.2h0M2094.2 345h0M2089.7 344.2h0M2099 354.6h0M2095.7 375.1h0M2096.4 345.4h0M2096 349.7h0M2099.3 355.8h0M2093.3 367.5h0M2118.7 348.1h0M2096.5 380.6h0M2105.7 372.7h0M2104.7 355.8h0M2116.8 341h0M2124 351.4h0M2124.8 345h0M2128 342.2h0M2098.7 371.5h0M2124.9 348.7h0M2088.3 361.1h0M2115.9 352.6h0M2092.7 356.1h0M2119.6 352.7h0M2101.5 362.2h0M2108.9 339.7h0M2092.7 359.3h0M2087.1 360.4h0M2104.3 353.9h0M2113.3 364.5h0M2107.5 369.9h0M2107.4 370.5h0M2107.1 374.4h0M2092 354.9h0M2097.2 379.2h0M2096.9 384.7h0M2096.9 373.1h0M2113.1 354.7h0M2087 340.1h0M2110.1 343.1h0M2083.7 338.9h0M2111.1 373.4h0M2119.3 349.2h0M2098.2 356.8h0M2087.5 370.4h0M2088.6 350.8h0M2067.4 374h0M2075.9 367.1h0M2127.2 387.6h0M2123.8 397.9h0M2128.9 401.3h0M2125.5 400.3h0M2094.7 384.9h0M2102.6 382.5h0" stroke="#ED1C24" stroke-width="8.4" stroke-linecap="round" fill="none"/><path d="M2134.1 338h0M2142.6 338h0M2159.7 341.5h0M2176.2 340.4h0M2199.8 337.3h0M2194 344.9h0M2194.6 350h0M2178.6 351.7h0M2182 356.8h0M2192.9 357.9h0M2200.8 357.9h0M2140.9 350h0M2144.3 346.6h0M2163.2 360.3h0M2135.8 377.4h0M2139.9 379.1h0M2146.1 388.7h0M2173.4 389.3h0M2176.2 387.6h0M2131.7 342.5h0" stroke="#80C982" stroke-width="8.4" stroke-linecap="round" fill="none"/><path d="M2285.7 256.3C2285.7 254 2286.6 251 2288 249.2C2289.4 247.4 2292.2 245.4 2294 245.6C2295.8 245.8 2297.4 248.6 2298.8 250.4C2300.2 252.2 2300.6 255.8 2302.4 256.3C2304.2 256.9 2307.6 253.4 2309.6 254C2311.6 254.6 2312.6 258.9 2314.4 259.9C2316.2 260.9 2319 258.3 2320.4 259.9C2321.8 261.5 2322.8 266.5 2322.8 269.5C2322.8 272.5 2321 275.3 2320.4 277.9C2319.8 280.5 2320.6 283.9 2319.2 285.1C2317.8 286.3 2314.4 285.7 2312 285.1C2309.6 284.5 2307.2 282.5 2304.8 281.5C2302.4 280.5 2299.8 280.7 2297.6 279.1C2295.4 277.5 2293.2 274.5 2291.6 271.9C2290 269.3 2289 266.1 2288 263.5C2287 260.9 2285.7 258.7 2285.7 256.3Z" fill="#BDBDBD"/><path d="M2282.3 258.2h0M2300.8 255h0M2307.1 281.3h0M2295.9 252.7h0M2311.3 260.9h0M2289.1 259.7h0M2293.3 282.4h0M2312.7 288h0M2284.9 253.8h0M2291.9 275.4h0M2321.5 279h0M2310.8 262.6h0M2314.8 257.9h0M2317.8 276.3h0M2312.7 264h0M2309.7 274.5h0M2308.3 253.7h0M2298.2 269h0M2289.5 238.4h0M2287.4 241.3h0M2306.9 274.6h0M2321.7 270.2h0M2313 276.4h0M2327.9 267.5h0M2307.5 271.5h0M2300.3 279.4h0M2300.4 282h0M2313.7 256.8h0M2299.5 249.6h0M2304.7 287.2h0M2302.9 256.1h0M2302.2 260.7h0M2300.2 266.3h0M2315.5 277.3h0M2296.5 262h0M2305 287.9h0M2313.4 267.3h0M2299.1 267.3h0M2314.6 262.6h0M2326.3 269.1h0M2303.1 267.4h0M2328.6 275.4h0M2301.7 273.7h0M2298.1 247.4h0M2284.3 256.1h0M2280.2 248h0M2287.8 267.7h0M2313.8 273.4h0M2316.1 258h0M2288.7 253.9h0M2321.2 260.5h0M2323.8 292.7h0M2327 264.3h0M2307.6 271.1h0M2295.9 272.8h0M2306.7 254.3h0M2283.1 258.8h0M2317.6 278.4h0M2296 278h0M2286 262.6h0M2290.8 257.7h0M2289.3 267.1h0M2300.1 270.7h0M2291 271.2h0M2327.7 274h0M2292.1 257.8h0M2308.4 253.1h0M2308.7 287.8h0M2285.8 252.8h0M2311.8 283.9h0" stroke="#BDBDBD" stroke-width="8.4" stroke-linecap="round" fill="none"/><path d="M2339.2 245h0M2332.4 261.1h0M2337.5 273h0M2340.2 285h0M2338.2 294.6h0M2322.1 303.8h0M2320.7 315.1h0M2348.8 319.9h0M2352.9 317.5h0M2356.3 326.1h0M2355.6 332.9h0M2287.9 238.8h0M2293 242.2h0M2280.4 247.4h0M2279.3 253.5h0M2311.8 249.1h0M2325.5 257.6h0M2316.2 291.8h0M2324.3 291.8h0M2326.8 286h0M2317.8 280.4h0M2340.6 277.9h0M2310 287h0M2303 283h0" stroke="#BDBDBD" stroke-width="8.4" stroke-linecap="round" fill="none"/><path d="M2354.6 338.7h0M2362.5 339.7h0M2377.5 337h0M2369.3 345.6h0M2351.2 348.3h0M2359.7 350h0M2364.9 354.5h0M2358.7 356.2h0M2331.7 355.8h0M2386.1 362.7h0M2391.2 363h0" stroke="#80C982" stroke-width="8.4" stroke-linecap="round" fill="none"/><path d="M2051.6 76.8V419.5M2049.5 417.4H2408" stroke="#000" stroke-width="4.2" fill="none"/><path d="M2253.2 79.3V417" stroke="#000" stroke-width="4.0" stroke-dasharray="17.7 17.9" fill="none"/><path d="M2051.2 218.9H2408" stroke="#000" stroke-width="4.0" stroke-dasharray="17.9 17.66" fill="none"/><defs><linearGradient id="rk" x1="0" x2="1" y1="0" y2="0"><stop offset="0" stop-color="#F9CDD3"/><stop offset="0.05" stop-color="#FBE3E6"/><stop offset="0.15" stop-color="#FFFFFF"/><stop offset="0.3" stop-color="#F6F5FC"/><stop offset="0.6" stop-color="#EEECF8"/><stop offset="0.85" stop-color="#E3E0F2"/><stop offset="0.95" stop-color="#D3CFEB"/><stop offset="1" stop-color="#C2BEE4"/></linearGradient></defs><rect x="2037.7" y="447.6" width="365.4" height="138.2" fill="#fff"/><rect x="2037.7" y="571.4" width="365.4" height="14.4" fill="url(#rk)"/><path d="M2038.4 469.9H2401" stroke="#F0F2F4" stroke-width="3.0" stroke-dasharray="7.9 17.05" stroke-linecap="round"/><path d="M2038.4 487.4H2401" stroke="#F0F2F4" stroke-width="3.0" stroke-dasharray="7.9 17.05" stroke-linecap="round"/><path d="M2038.4 504.8H2401" stroke="#F0F2F4" stroke-width="3.0" stroke-dasharray="7.9 17.05" stroke-linecap="round"/><path d="M2038.4 522.3H2401" stroke="#F0F2F4" stroke-width="3.0" stroke-dasharray="7.9 17.05" stroke-linecap="round"/><path d="M2038.4 539.9H2401" stroke="#F0F2F4" stroke-width="3.0" stroke-dasharray="7.9 17.05" stroke-linecap="round"/><path d="M2038.4 452.2H2401" stroke="#808080" stroke-width="3.2" stroke-dasharray="7.9 17.05" stroke-linecap="round"/><path d="M2033.6 452.3H2037" stroke="#000" stroke-width="3.2" stroke-linecap="round"/><path d="M2033.6 469.9H2037" stroke="#000" stroke-width="3.2" stroke-linecap="round"/><path d="M2033.6 487.4H2037" stroke="#000" stroke-width="3.2" stroke-linecap="round"/><path d="M2033.6 504.8H2037" stroke="#000" stroke-width="3.2" stroke-linecap="round"/><path d="M2033.6 522.3H2037" stroke="#000" stroke-width="3.2" stroke-linecap="round"/><path d="M2033.6 539.9H2037" stroke="#000" stroke-width="3.2" stroke-linecap="round"/><rect x="2208" y="557.2" width="195.1" height="14.2" fill="#0a0a0a"/><rect x="2210.1" y="557.2" width="1.8" height="14.2" fill="#fff"/><rect x="2214.1" y="557.2" width="4.8" height="14.2" fill="#fff"/><rect x="2222.2" y="557.2" width="1.4" height="14.2" fill="#fff"/><rect x="2226.1" y="557.2" width="11.2" height="14.2" fill="#fff"/><rect x="2240" y="557.2" width="23.9" height="14.2" fill="#fff"/><rect x="2266.6" y="557.2" width="23" height="14.2" fill="#fff"/><rect x="2292.2" y="557.2" width="4.2" height="14.2" fill="#fff"/><rect x="2299.1" y="557.2" width="0.9" height="14.2" fill="#fff"/><rect x="2302.3" y="557.2" width="2.6" height="14.2" fill="#fff"/><rect x="2311.4" y="557.2" width="9" height="14.2" fill="#fff"/><rect x="2334.2" y="557.2" width="3.8" height="14.2" fill="#fff"/><rect x="2342.8" y="557.2" width="1.2" height="14.2" fill="#fff"/><rect x="2346.9" y="557.2" width="1.8" height="14.2" fill="#fff"/><rect x="2350.8" y="557.2" width="1.3" height="14.2" fill="#fff"/><rect x="2356.7" y="557.2" width="2.3" height="14.2" fill="#fff"/><rect x="2361.9" y="557.2" width="1.4" height="14.2" fill="#fff"/><rect x="2366.8" y="557.2" width="1.4" height="14.2" fill="#fff"/><rect x="2372.6" y="557.2" width="2.3" height="14.2" fill="#fff"/><rect x="2328" y="557.2" width="1.6" height="14.2" fill="#888"/><rect x="2381.1" y="557.2" width="1.8" height="14.2" fill="#888"/><rect x="2043" y="557.2" width="2.4" height="14.2" fill="#0a0a0a"/><rect x="2056.3" y="557.2" width="3.4" height="14.2" fill="#0a0a0a"/><rect x="2069.9" y="557.2" width="1" height="14.2" fill="#0a0a0a"/><rect x="2071.9" y="557.2" width="2" height="14.2" fill="#0a0a0a"/><rect x="2080" y="557.2" width="3" height="14.2" fill="#0a0a0a"/><rect x="2086.3" y="557.2" width="2.4" height="14.2" fill="#0a0a0a"/><rect x="2091.4" y="557.2" width="2" height="14.2" fill="#0a0a0a"/><rect x="2097.1" y="557.2" width="2" height="14.2" fill="#0a0a0a"/><rect x="2103.4" y="557.2" width="3.4" height="14.2" fill="#0a0a0a"/><rect x="2122.7" y="557.2" width="1" height="14.2" fill="#0a0a0a"/><rect x="2125.1" y="557.2" width="2" height="14.2" fill="#0a0a0a"/><rect x="2135.9" y="557.2" width="3" height="14.2" fill="#0a0a0a"/><rect x="2159.6" y="557.2" width="2.5" height="14.2" fill="#0a0a0a"/><rect x="2168.2" y="557.2" width="0.8" height="14.2" fill="#0a0a0a"/><rect x="2169.3" y="557.2" width="2.6" height="14.2" fill="#0a0a0a"/><rect x="2185.7" y="557.2" width="3" height="14.2" fill="#0a0a0a"/><rect x="2204.8" y="557.2" width="0.8" height="14.2" fill="#0a0a0a"/><rect x="2206.4" y="557.2" width="0.8" height="14.2" fill="#0a0a0a"/><rect x="2208" y="557.2" width="0.8" height="14.2" fill="#0a0a0a"/><path d="M2039.6 452.2L2044.5 451.2L2050 452.6L2056.5 454.6L2059.5 452.8L2064.5 454.6L2070 456.2L2075 455.6L2080 457.4L2084 456.4L2087.5 457.2L2091 456.2L2097 457.6L2103.5 459.8L2106.5 458.6L2112 461.4L2120 465L2138.5 472.2L2155 479L2169.9 485.4L2185 492.5L2201.3 500.1L2217 507.6L2232.6 515L2248 522.4L2264 529.7L2280 536L2288 538.7L2295.4 542.9L2302 544.6L2309.2 547.8L2316 550.6L2321.9 552.4L2328.2 551.6L2333.5 549.7L2340.9 551.4L2345.1 550.3L2351.5 551L2356 550.2L2362.1 550.3L2367 549.2L2372.7 548.2L2375.8 547.2L2376.9 540.8L2380.1 533.4L2383.2 531.3L2387.5 521.8L2392.8 511.2L2395.9 496.4L2399.1 477.3L2401.2 451.9" stroke="#ED1C24" stroke-width="4.5" fill="none" stroke-linejoin="round" stroke-linecap="round"/><path d="M2037.7 557.2H2403.1" stroke="#000" stroke-width="3.6"/><path d="M2037.7 571.4H2403.1" stroke="#000" stroke-width="3.2"/><rect x="2037.7" y="447.6" width="365.4" height="138.2" fill="none" stroke="#000" stroke-width="3.2"/></svg></body></html>
